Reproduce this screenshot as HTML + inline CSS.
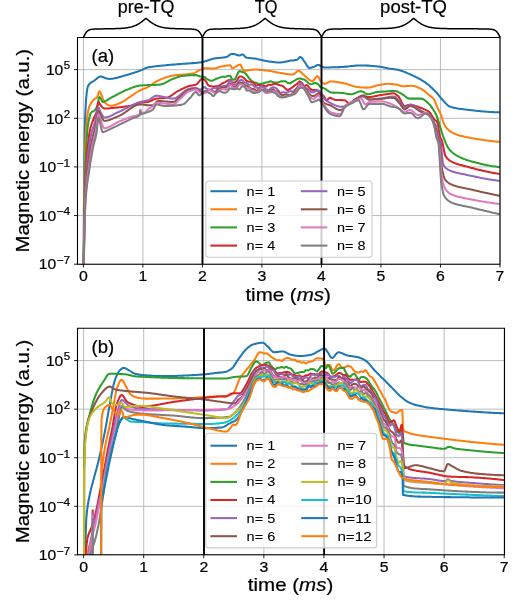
<!DOCTYPE html>
<html><head><meta charset="utf-8"><title>Magnetic energy</title>
<style>
html,body{margin:0;padding:0;background:#ffffff;}
body{width:515px;height:608px;overflow:hidden;font-family:"Liberation Sans",sans-serif;}
svg{display:block;}
</style></head><body>
<svg width="515" height="608" viewBox="0 0 515 608">
<rect x="0" y="0" width="515" height="608" fill="#ffffff"/>
<g style="will-change:transform" stroke-linejoin="round">
<clipPath id="clip1"><rect x="77.50" y="37.20" width="422.50" height="227.00"/></clipPath>
<line x1="83.40" y1="37.20" x2="83.40" y2="264.20" stroke="#b0b0b0" stroke-width="0.85"/>
<line x1="142.91" y1="37.20" x2="142.91" y2="264.20" stroke="#b0b0b0" stroke-width="0.85"/>
<line x1="202.42" y1="37.20" x2="202.42" y2="264.20" stroke="#b0b0b0" stroke-width="0.85"/>
<line x1="261.93" y1="37.20" x2="261.93" y2="264.20" stroke="#b0b0b0" stroke-width="0.85"/>
<line x1="321.44" y1="37.20" x2="321.44" y2="264.20" stroke="#b0b0b0" stroke-width="0.85"/>
<line x1="380.95" y1="37.20" x2="380.95" y2="264.20" stroke="#b0b0b0" stroke-width="0.85"/>
<line x1="440.46" y1="37.20" x2="440.46" y2="264.20" stroke="#b0b0b0" stroke-width="0.85"/>
<line x1="499.97" y1="37.20" x2="499.97" y2="264.20" stroke="#b0b0b0" stroke-width="0.85"/>
<line x1="77.50" y1="69.63" x2="500.00" y2="69.63" stroke="#b0b0b0" stroke-width="0.85"/>
<line x1="77.50" y1="118.27" x2="500.00" y2="118.27" stroke="#b0b0b0" stroke-width="0.85"/>
<line x1="77.50" y1="166.91" x2="500.00" y2="166.91" stroke="#b0b0b0" stroke-width="0.85"/>
<line x1="77.50" y1="215.56" x2="500.00" y2="215.56" stroke="#b0b0b0" stroke-width="0.85"/>
<line x1="77.50" y1="264.20" x2="500.00" y2="264.20" stroke="#b0b0b0" stroke-width="0.85"/>
<g clip-path="url(#clip1)" fill="none" stroke-width="2.05" stroke-linejoin="round" stroke-linecap="butt">
<path d="M83.6,270.0 L84.0,200.0 L84.4,156.9 L84.8,130.0 L85.2,116.1 L86.0,100.0 L86.0,100.0 L86.8,92.0 L87.6,87.1 L87.9,86.3 L88.4,85.4 L89.2,84.3 L90.0,83.4 L90.8,82.7 L91.6,82.2 L92.4,81.7 L93.2,81.3 L94.0,80.8 L94.4,80.5 L94.8,80.2 L95.6,79.6 L96.4,78.9 L97.2,78.2 L98.0,77.6 L98.8,77.1 L99.6,76.7 L100.4,76.5 L101.0,76.4 L101.2,76.4 L102.0,76.6 L102.8,77.0 L103.6,77.4 L104.0,77.6 L104.4,77.7 L105.2,78.0 L106.0,78.3 L106.8,78.5 L107.6,78.7 L108.4,78.8 L109.2,78.9 L109.2,78.9 L110.0,78.9 L110.8,78.8 L111.6,78.8 L112.4,78.7 L113.2,78.6 L114.0,78.4 L114.8,78.3 L115.6,78.1 L116.4,77.9 L117.2,77.7 L118.0,77.5 L118.8,77.3 L119.6,77.1 L120.4,76.8 L121.2,76.6 L122.0,76.4 L122.8,76.1 L123.6,75.9 L124.4,75.6 L125.2,75.4 L126.0,75.2 L126.8,74.9 L127.3,74.8 L127.6,74.7 L128.4,74.5 L129.2,74.3 L130.0,74.0 L130.8,73.8 L131.6,73.6 L132.4,73.3 L133.2,73.0 L134.0,72.8 L134.8,72.5 L135.6,72.3 L136.4,72.0 L137.2,71.7 L138.0,71.4 L138.8,71.1 L139.6,70.8 L140.0,70.7 L140.4,70.5 L141.2,70.2 L142.0,69.9 L142.8,69.5 L143.6,69.1 L144.4,68.7 L145.2,68.3 L146.0,68.0 L146.8,67.7 L147.6,67.5 L148.0,67.4 L148.4,67.3 L149.2,67.2 L150.0,67.0 L150.8,66.9 L151.6,66.8 L152.4,66.7 L153.2,66.6 L154.0,66.5 L154.8,66.4 L155.6,66.3 L156.4,66.2 L156.4,66.2 L157.2,66.1 L158.0,66.0 L158.8,65.9 L159.6,65.8 L160.4,65.8 L161.2,65.7 L162.0,65.6 L162.8,65.5 L163.6,65.4 L164.4,65.4 L165.2,65.3 L166.0,65.2 L166.8,65.1 L167.6,65.1 L168.4,65.0 L169.2,64.9 L170.0,64.8 L170.8,64.8 L171.6,64.7 L172.4,64.6 L172.9,64.6 L173.2,64.6 L174.0,64.5 L174.8,64.4 L175.6,64.4 L176.4,64.3 L177.2,64.3 L178.0,64.2 L178.8,64.1 L179.6,64.1 L180.4,64.0 L181.2,64.0 L182.0,63.9 L182.8,63.8 L183.6,63.8 L184.4,63.7 L185.2,63.7 L186.0,63.6 L186.8,63.6 L187.6,63.5 L188.4,63.4 L189.2,63.4 L190.0,63.3 L190.8,63.3 L191.6,63.2 L192.4,63.1 L193.2,63.1 L194.0,63.0 L194.2,63.0 L194.8,63.0 L195.6,62.9 L196.4,62.8 L197.2,62.8 L198.0,62.7 L198.8,62.6 L199.6,62.5 L200.0,62.5 L200.4,62.4 L201.2,62.3 L202.0,62.1 L202.8,62.0 L203.6,61.7 L204.4,61.5 L205.2,61.3 L206.0,61.0 L206.8,60.7 L207.6,60.5 L208.4,60.2 L209.2,59.9 L210.0,59.7 L210.0,59.7 L210.8,59.4 L211.6,59.1 L212.4,58.9 L213.1,58.7 L213.2,58.7 L214.0,58.5 L214.8,58.4 L215.6,58.3 L216.4,58.2 L217.2,58.1 L218.0,58.0 L218.8,58.0 L219.6,57.9 L220.4,57.8 L221.2,57.8 L222.0,57.7 L222.8,57.6 L223.6,57.5 L224.4,57.4 L225.2,57.2 L226.0,57.1 L226.3,57.0 L226.8,56.8 L227.6,56.4 L228.4,55.9 L229.2,55.3 L230.0,54.7 L230.8,54.2 L231.6,53.9 L232.0,53.9 L232.4,53.9 L233.2,54.0 L234.0,54.1 L234.8,54.3 L235.6,54.5 L236.0,54.6 L236.4,54.7 L237.2,54.9 L238.0,55.2 L238.8,55.4 L239.4,55.4 L239.6,55.4 L240.4,55.2 L241.2,54.8 L242.0,54.5 L242.7,54.4 L242.8,54.4 L243.6,54.9 L244.4,55.9 L245.2,56.9 L246.0,57.5 L246.0,57.5 L246.8,57.7 L247.6,57.8 L248.4,57.9 L249.2,58.0 L250.0,58.1 L250.8,58.2 L251.6,58.2 L252.4,58.3 L253.2,58.4 L254.0,58.4 L254.8,58.5 L255.6,58.7 L255.9,58.7 L256.4,58.8 L257.2,59.0 L258.0,59.2 L258.8,59.4 L259.6,59.6 L260.0,59.7 L260.4,59.8 L261.2,60.0 L262.0,60.1 L262.8,60.3 L263.6,60.5 L264.4,60.7 L265.2,60.8 L266.0,61.0 L266.8,61.1 L267.6,61.3 L268.4,61.4 L269.2,61.5 L269.9,61.6 L270.0,61.6 L270.8,61.7 L271.6,61.8 L272.4,61.9 L273.2,62.0 L274.0,62.1 L274.8,62.2 L275.6,62.3 L276.4,62.4 L277.2,62.4 L278.0,62.5 L278.8,62.5 L279.6,62.5 L279.7,62.5 L280.4,62.5 L281.2,62.4 L282.0,62.3 L282.8,62.2 L283.6,62.1 L284.4,61.9 L285.2,61.7 L286.0,61.5 L286.8,61.4 L287.6,61.2 L288.4,61.0 L289.2,60.9 L289.6,60.8 L290.0,60.7 L290.8,60.6 L291.6,60.5 L292.4,60.5 L293.2,60.4 L294.0,60.3 L294.8,60.2 L295.6,60.0 L296.4,59.9 L297.0,59.7 L297.2,59.6 L298.0,59.0 L298.8,58.1 L299.6,57.3 L300.3,57.0 L300.4,57.0 L301.2,57.4 L302.0,58.2 L302.8,59.3 L303.6,60.5 L304.4,61.7 L305.0,62.5 L305.2,62.8 L306.0,64.0 L306.8,65.3 L307.6,66.5 L308.4,67.5 L309.2,67.9 L309.3,67.9 L310.0,67.9 L310.8,67.7 L311.6,67.5 L312.4,67.2 L313.2,66.9 L314.0,66.7 L314.2,66.6 L314.8,66.4 L315.6,65.9 L316.4,65.5 L317.2,65.1 L318.0,64.9 L318.3,64.9 L318.8,65.0 L319.6,65.3 L320.4,65.8 L321.2,66.3 L322.0,66.8 L322.4,66.9 L322.8,67.0 L323.6,67.2 L324.4,67.4 L324.9,67.4 L325.2,67.4 L326.0,67.4 L326.8,67.4 L327.6,67.4 L328.4,67.4 L329.2,67.4 L330.0,67.4 L330.8,67.3 L331.6,67.3 L332.4,67.3 L333.2,67.3 L334.0,67.3 L334.8,67.2 L335.6,67.2 L336.4,67.2 L337.2,67.2 L338.0,67.2 L338.8,67.1 L339.6,67.1 L339.7,67.1 L340.4,67.1 L341.2,67.0 L342.0,67.0 L342.8,66.9 L343.6,66.9 L344.4,66.8 L345.2,66.7 L346.0,66.6 L346.8,66.6 L347.6,66.5 L348.4,66.4 L349.2,66.3 L350.0,66.2 L350.8,66.1 L351.6,66.0 L352.4,65.9 L353.2,65.9 L354.0,65.8 L354.8,65.7 L355.6,65.6 L356.4,65.6 L357.2,65.5 L358.0,65.5 L358.8,65.4 L359.6,65.4 L360.4,65.4 L361.1,65.4 L361.2,65.4 L362.0,65.4 L362.8,65.4 L363.6,65.4 L364.4,65.5 L365.2,65.5 L366.0,65.5 L366.8,65.6 L367.6,65.6 L368.4,65.6 L369.2,65.7 L370.0,65.8 L370.8,65.8 L371.6,65.9 L372.4,65.9 L373.2,66.0 L374.0,66.1 L374.8,66.2 L375.6,66.2 L376.4,66.3 L377.2,66.4 L378.0,66.5 L378.8,66.6 L379.2,66.6 L379.6,66.6 L380.4,66.8 L381.2,66.9 L382.0,67.0 L382.8,67.2 L383.6,67.4 L384.4,67.5 L385.2,67.7 L386.0,67.9 L386.8,68.1 L387.6,68.3 L388.4,68.4 L389.2,68.6 L390.0,68.7 L390.0,68.7 L390.8,68.8 L391.6,68.9 L392.4,69.0 L393.2,69.1 L394.0,69.2 L394.8,69.3 L395.6,69.4 L396.4,69.5 L396.4,69.5 L397.2,69.7 L398.0,69.8 L398.8,70.0 L399.6,70.2 L400.4,70.5 L401.2,70.7 L402.0,71.0 L402.8,71.3 L403.6,71.6 L404.4,71.9 L405.2,72.2 L406.0,72.5 L406.8,72.9 L407.6,73.2 L408.4,73.6 L409.2,73.9 L410.0,74.3 L410.8,74.6 L411.6,75.0 L412.4,75.4 L412.9,75.6 L413.2,75.7 L414.0,76.1 L414.8,76.5 L415.6,76.9 L416.4,77.3 L417.2,77.7 L418.0,78.1 L418.8,78.5 L419.6,79.0 L420.4,79.4 L421.2,79.9 L422.0,80.4 L422.8,80.9 L423.6,81.4 L424.4,81.9 L425.2,82.4 L426.0,83.0 L426.0,83.0 L426.8,83.6 L427.6,84.2 L428.4,84.8 L429.2,85.5 L430.0,86.2 L430.8,87.0 L431.6,87.7 L432.4,88.5 L433.2,89.3 L434.0,90.1 L434.8,90.9 L435.6,91.7 L435.9,92.0 L436.4,92.5 L437.2,93.4 L438.0,94.4 L438.8,95.4 L439.6,96.4 L440.4,97.4 L441.2,98.4 L442.0,99.3 L442.8,100.2 L443.0,100.4 L443.6,101.0 L444.4,101.9 L445.2,102.8 L446.0,103.6 L446.8,104.4 L447.6,105.2 L448.4,105.8 L449.2,106.3 L449.9,106.6 L450.0,106.6 L450.8,106.9 L451.6,107.1 L452.4,107.4 L453.2,107.6 L454.0,107.8 L454.8,107.9 L455.6,108.1 L456.4,108.3 L457.2,108.4 L458.0,108.6 L458.8,108.7 L459.6,108.8 L460.4,108.9 L461.2,109.0 L462.0,109.1 L462.8,109.2 L463.6,109.3 L464.4,109.4 L465.2,109.5 L466.0,109.6 L466.0,109.6 L466.8,109.7 L467.6,109.8 L468.4,109.9 L469.2,110.0 L470.0,110.1 L470.8,110.2 L471.6,110.2 L472.4,110.3 L473.2,110.4 L474.0,110.5 L474.8,110.6 L475.6,110.7 L476.4,110.8 L477.2,110.9 L478.0,110.9 L478.8,111.0 L479.6,111.1 L480.4,111.2 L481.2,111.3 L482.0,111.3 L482.8,111.4 L483.6,111.5 L484.4,111.5 L485.2,111.6 L486.0,111.7 L486.8,111.7 L487.6,111.8 L488.4,111.8 L489.2,111.9 L490.0,111.9 L490.8,112.0 L491.6,112.0 L492.4,112.1 L493.2,112.1 L494.0,112.2 L494.8,112.2 L495.6,112.2 L496.4,112.2 L497.2,112.3 L498.0,112.3 L498.8,112.3 L499.6,112.3 L500.0,112.3" stroke="#1f77b4"/>
<path d="M83.6,270.0 L84.2,200.0 L84.4,186.7 L85.2,148.0 L85.5,140.0 L86.0,130.9 L86.8,120.7 L87.5,115.0 L87.6,114.3 L88.4,109.9 L89.2,106.8 L89.5,106.0 L90.0,104.9 L90.8,103.4 L91.6,102.1 L92.4,101.1 L93.2,100.2 L94.0,99.4 L94.4,99.1 L94.8,98.8 L95.6,98.4 L96.4,98.0 L97.0,97.5 L97.2,97.2 L98.0,94.8 L98.8,92.1 L99.4,91.2 L99.6,91.3 L100.4,92.4 L101.2,94.3 L101.5,95.0 L102.0,96.2 L102.8,98.5 L103.6,100.7 L104.3,101.9 L104.4,102.0 L105.2,102.8 L106.0,103.5 L106.8,104.1 L107.6,104.6 L108.4,105.1 L109.2,105.4 L110.0,105.6 L110.8,105.7 L110.9,105.7 L111.6,105.7 L112.4,105.6 L113.2,105.5 L114.0,105.3 L114.8,105.0 L115.6,104.8 L116.4,104.5 L117.2,104.2 L118.0,103.8 L118.8,103.5 L119.6,103.2 L120.4,102.8 L120.7,102.7 L121.2,102.5 L122.0,102.1 L122.8,101.7 L123.6,101.2 L124.4,100.7 L125.2,100.2 L126.0,99.6 L126.8,99.1 L127.6,98.5 L128.4,97.9 L129.2,97.4 L130.0,96.8 L130.8,96.2 L131.6,95.7 L132.2,95.3 L132.4,95.2 L133.2,94.7 L134.0,94.1 L134.8,93.6 L135.6,93.0 L136.4,92.5 L137.2,92.0 L138.0,91.5 L138.8,91.0 L139.6,90.6 L140.0,90.4 L140.4,90.2 L141.2,89.8 L142.0,89.5 L142.8,89.2 L143.6,88.9 L144.4,88.6 L145.2,88.3 L146.0,88.0 L146.8,87.7 L147.6,87.3 L148.0,87.1 L148.4,86.9 L149.2,86.4 L150.0,85.9 L150.8,85.3 L151.6,84.7 L152.4,84.1 L153.2,83.5 L154.0,82.9 L154.8,82.3 L155.6,81.8 L156.4,81.4 L156.4,81.4 L157.2,81.0 L158.0,80.6 L158.8,80.3 L159.6,79.9 L160.4,79.6 L161.2,79.2 L162.0,78.9 L162.8,78.6 L163.6,78.2 L164.4,77.9 L165.2,77.7 L166.0,77.4 L166.8,77.1 L167.6,76.9 L168.4,76.6 L169.2,76.4 L170.0,76.2 L170.8,76.0 L171.6,75.8 L172.4,75.7 L172.9,75.6 L173.2,75.6 L174.0,75.4 L174.8,75.3 L175.6,75.2 L176.4,75.1 L177.2,75.0 L178.0,75.0 L178.8,74.9 L179.6,74.8 L180.4,74.8 L181.2,74.7 L182.0,74.7 L182.8,74.6 L183.6,74.6 L184.4,74.5 L185.2,74.4 L186.0,74.4 L186.8,74.3 L187.6,74.2 L188.4,74.1 L189.2,74.0 L190.0,73.9 L190.8,73.8 L191.6,73.7 L192.4,73.5 L192.6,73.5 L193.2,73.4 L194.0,73.1 L194.8,72.7 L195.6,72.3 L196.4,71.8 L197.2,71.4 L198.0,70.9 L198.8,70.5 L199.6,70.1 L200.0,69.9 L200.4,69.7 L201.2,69.4 L202.0,69.0 L202.8,68.7 L203.6,68.4 L204.4,68.2 L204.9,68.2 L205.2,68.2 L206.0,68.2 L206.8,68.2 L207.6,68.3 L208.4,68.3 L209.2,68.4 L210.0,68.4 L210.8,68.4 L211.6,68.5 L212.4,68.5 L213.1,68.5 L213.2,68.5 L214.0,68.5 L214.8,68.4 L215.6,68.2 L216.4,68.0 L217.2,67.8 L218.0,67.6 L218.8,67.3 L219.6,67.1 L220.4,66.8 L221.2,66.6 L222.0,66.4 L222.8,66.2 L223.0,66.2 L223.6,66.1 L224.4,66.0 L225.2,65.8 L226.0,65.7 L226.8,65.6 L227.6,65.5 L228.4,65.4 L229.2,65.3 L230.0,65.3 L230.4,65.3 L230.8,65.8 L231.6,67.7 L232.0,68.2 L232.4,68.2 L233.2,68.0 L234.0,67.7 L234.8,67.2 L235.6,66.8 L236.4,66.2 L237.2,65.7 L238.0,65.3 L238.8,64.9 L239.6,64.7 L240.3,64.6 L240.4,64.6 L241.2,65.8 L242.0,67.9 L242.8,70.0 L243.5,70.7 L243.6,70.7 L244.4,70.7 L245.2,70.6 L246.0,70.6 L246.8,70.5 L247.6,70.4 L248.4,70.3 L249.2,70.2 L250.0,70.1 L250.8,69.9 L251.6,69.8 L252.4,69.7 L253.2,69.6 L254.0,69.6 L254.8,69.5 L255.6,69.5 L255.9,69.5 L256.4,69.5 L257.2,69.6 L258.0,69.7 L258.8,69.8 L259.6,69.9 L260.0,69.9 L260.4,69.9 L261.2,70.0 L262.0,70.1 L262.8,70.2 L263.6,70.2 L264.4,70.3 L265.2,70.4 L266.0,70.5 L266.8,70.5 L267.6,70.6 L268.2,70.7 L268.4,70.7 L269.2,70.8 L270.0,71.0 L270.8,71.1 L271.6,71.2 L272.4,71.4 L273.2,71.6 L274.0,71.7 L274.8,71.9 L275.6,72.0 L276.4,72.2 L277.2,72.4 L278.0,72.5 L278.8,72.7 L279.6,72.8 L279.7,72.8 L280.4,72.9 L281.2,73.0 L282.0,73.2 L282.8,73.3 L283.6,73.5 L284.4,73.6 L285.2,73.7 L286.0,73.9 L286.8,74.0 L287.6,74.1 L288.4,74.2 L289.2,74.3 L290.0,74.4 L290.8,74.4 L291.6,74.5 L292.4,74.5 L292.9,74.5 L293.2,74.5 L294.0,74.1 L294.8,73.5 L295.6,72.7 L296.4,72.0 L297.2,71.3 L298.0,70.8 L298.6,70.7 L298.8,70.7 L299.6,71.1 L300.4,71.7 L301.2,72.5 L302.0,73.4 L302.7,74.0 L302.8,74.1 L303.6,74.7 L304.4,75.4 L305.2,76.2 L306.0,76.9 L306.8,77.7 L307.6,78.4 L308.4,79.1 L309.2,79.7 L310.0,80.2 L310.8,80.6 L311.6,80.9 L312.4,81.0 L312.6,81.0 L313.2,80.8 L314.0,80.0 L314.8,78.9 L315.6,77.7 L316.4,76.7 L317.2,76.2 L317.5,76.1 L318.0,76.4 L318.8,77.6 L319.6,79.4 L320.4,80.9 L320.8,81.4 L321.2,81.7 L322.0,82.4 L322.8,83.0 L323.6,83.5 L324.4,83.7 L324.9,83.8 L325.2,83.8 L326.0,83.6 L326.8,83.2 L327.6,82.7 L328.4,82.2 L329.2,81.8 L330.0,81.5 L330.7,81.4 L330.8,81.4 L331.6,81.4 L332.4,81.5 L333.2,81.5 L334.0,81.6 L334.8,81.7 L335.6,81.8 L336.4,81.9 L337.2,82.0 L338.0,82.2 L338.8,82.3 L339.6,82.5 L340.4,82.6 L341.2,82.8 L342.0,83.0 L342.8,83.1 L343.6,83.3 L344.4,83.5 L344.6,83.5 L345.2,83.6 L346.0,83.8 L346.8,84.0 L347.6,84.3 L348.4,84.5 L349.2,84.8 L350.0,85.1 L350.8,85.3 L351.6,85.6 L352.4,85.9 L353.2,86.1 L354.0,86.4 L354.8,86.6 L355.6,86.8 L356.4,86.9 L357.2,87.0 L357.8,87.1 L358.0,87.1 L358.8,87.2 L359.6,87.2 L360.4,87.3 L361.2,87.4 L362.0,87.4 L362.8,87.5 L363.6,87.5 L364.4,87.5 L365.2,87.6 L366.0,87.6 L366.8,87.6 L367.6,87.6 L367.6,87.6 L368.4,87.6 L369.2,87.5 L370.0,87.4 L370.8,87.2 L371.6,87.0 L372.4,86.8 L373.2,86.6 L374.0,86.4 L374.8,86.1 L375.6,85.9 L376.4,85.6 L377.2,85.4 L378.0,85.2 L378.8,85.1 L379.2,85.0 L379.6,84.9 L380.4,84.8 L381.2,84.6 L382.0,84.5 L382.8,84.4 L383.6,84.2 L384.4,84.1 L385.2,84.0 L386.0,83.9 L386.8,83.8 L387.6,83.8 L388.2,83.8 L388.4,83.8 L389.2,83.8 L390.0,83.9 L390.8,83.9 L391.6,84.0 L392.4,84.1 L393.2,84.2 L394.0,84.3 L394.8,84.4 L395.6,84.5 L396.4,84.6 L396.4,84.6 L397.2,84.8 L398.0,85.0 L398.8,85.3 L399.6,85.5 L400.4,85.8 L401.2,86.0 L402.0,86.2 L402.8,86.3 L403.0,86.3 L403.6,86.3 L404.4,86.3 L405.2,86.2 L406.0,86.1 L406.8,86.1 L407.6,86.0 L408.4,85.9 L409.2,85.9 L410.0,85.8 L410.8,85.8 L411.2,85.8 L411.6,85.8 L412.4,85.9 L413.2,86.0 L414.0,86.1 L414.8,86.3 L415.6,86.6 L416.4,86.8 L417.2,87.1 L418.0,87.5 L418.8,87.8 L419.6,88.1 L420.4,88.5 L421.1,88.8 L421.2,88.8 L422.0,89.3 L422.8,89.8 L423.6,90.3 L424.4,91.0 L425.2,91.7 L426.0,92.4 L426.8,93.1 L427.6,93.8 L428.4,94.5 L429.2,95.2 L429.3,95.3 L430.0,95.9 L430.8,96.4 L431.6,97.0 L432.4,97.7 L433.2,98.5 L433.8,99.2 L434.0,99.5 L434.8,101.0 L435.6,102.9 L436.4,105.0 L437.2,107.0 L437.5,107.7 L438.0,108.7 L438.8,110.3 L439.6,111.8 L440.4,113.5 L440.7,114.2 L441.2,115.5 L442.0,118.0 L442.8,120.6 L443.6,123.0 L444.1,124.1 L444.4,124.7 L445.2,126.0 L446.0,127.2 L446.8,128.3 L447.6,129.1 L447.6,129.1 L448.4,129.8 L449.2,130.5 L450.0,131.1 L450.8,131.7 L451.6,132.2 L452.4,132.7 L453.2,133.1 L454.0,133.5 L454.5,133.7 L454.8,133.8 L455.6,134.1 L456.4,134.4 L457.2,134.7 L458.0,135.0 L458.8,135.2 L459.6,135.4 L460.4,135.7 L461.2,135.9 L462.0,136.1 L462.8,136.3 L463.6,136.5 L464.4,136.7 L465.2,136.8 L466.0,137.0 L466.8,137.2 L467.6,137.3 L468.4,137.5 L469.2,137.6 L470.0,137.8 L470.6,137.9 L470.8,137.9 L471.6,138.1 L472.4,138.2 L473.2,138.4 L474.0,138.5 L474.8,138.7 L475.6,138.8 L476.4,138.9 L477.2,139.1 L478.0,139.2 L478.8,139.3 L479.6,139.5 L480.4,139.6 L481.2,139.7 L482.0,139.8 L482.8,140.0 L483.6,140.1 L484.4,140.2 L485.2,140.3 L486.0,140.4 L486.8,140.5 L487.6,140.6 L488.4,140.7 L489.2,140.8 L490.0,140.9 L490.8,141.0 L491.6,141.1 L492.4,141.2 L493.2,141.3 L494.0,141.4 L494.8,141.4 L495.6,141.5 L496.4,141.6 L497.2,141.6 L498.0,141.7 L498.8,141.7 L499.6,141.8 L500.0,141.8" stroke="#ff7f0e"/>
<path d="M83.6,270.0 L84.4,205.3 L84.5,200.0 L85.2,171.1 L86.0,150.0 L86.0,150.0 L86.8,137.1 L87.6,128.0 L88.0,125.0 L88.4,122.6 L89.2,118.4 L90.0,115.1 L90.8,113.0 L91.1,112.6 L91.6,112.1 L92.4,111.5 L93.2,111.2 L94.0,110.8 L94.8,110.2 L95.0,110.0 L95.6,109.2 L96.4,107.7 L97.2,105.8 L97.5,105.0 L98.0,102.9 L98.8,98.5 L99.4,97.0 L99.6,97.1 L100.4,98.0 L101.0,99.0 L101.2,99.4 L102.0,101.2 L102.6,101.9 L102.8,101.9 L103.6,101.8 L104.4,101.6 L105.2,101.2 L106.0,100.8 L106.8,100.3 L107.6,99.8 L108.4,99.3 L109.2,98.8 L110.0,98.3 L110.8,97.9 L110.9,97.8 L111.6,97.4 L112.4,97.0 L113.2,96.6 L114.0,96.2 L114.8,95.8 L115.6,95.3 L116.4,94.9 L117.2,94.5 L118.0,94.1 L118.8,93.6 L119.6,93.2 L120.4,92.8 L121.2,92.4 L122.0,92.0 L122.8,91.6 L123.6,91.2 L124.4,90.8 L125.2,90.5 L126.0,90.1 L126.8,89.8 L127.3,89.6 L127.6,89.5 L128.4,89.2 L129.2,88.9 L130.0,88.5 L130.8,88.2 L131.6,87.9 L132.4,87.6 L133.2,87.3 L134.0,87.0 L134.8,86.7 L135.6,86.5 L136.4,86.3 L137.2,86.0 L138.0,85.9 L138.8,85.7 L139.6,85.6 L140.4,85.5 L140.4,85.5 L141.2,85.4 L142.0,85.4 L142.8,85.3 L143.6,85.3 L144.4,85.3 L145.2,85.2 L146.0,85.2 L146.8,85.2 L147.6,85.1 L148.0,85.1 L148.4,85.1 L149.2,85.0 L150.0,85.0 L150.8,85.0 L151.6,85.0 L152.4,84.9 L153.2,84.9 L154.0,84.9 L154.8,84.9 L155.6,84.8 L156.4,84.8 L157.2,84.8 L158.0,84.7 L158.8,84.7 L159.6,84.6 L159.7,84.6 L160.4,84.5 L161.2,84.4 L162.0,84.1 L162.8,83.9 L163.6,83.5 L164.4,83.2 L165.2,82.8 L166.0,82.4 L166.8,81.9 L167.6,81.5 L168.4,81.1 L169.2,80.6 L170.0,80.2 L170.8,79.8 L171.6,79.4 L172.4,79.1 L172.9,78.9 L173.2,78.8 L174.0,78.5 L174.8,78.2 L175.6,77.9 L176.4,77.6 L177.2,77.3 L178.0,77.0 L178.8,76.8 L179.6,76.5 L180.4,76.3 L181.2,76.1 L182.0,76.0 L182.7,75.9 L182.8,75.9 L183.6,75.8 L184.4,75.7 L185.2,75.7 L186.0,75.6 L186.8,75.5 L187.6,75.4 L188.4,75.4 L189.2,75.3 L190.0,75.3 L190.8,75.2 L191.6,75.2 L192.4,75.2 L193.2,75.1 L194.0,75.1 L194.8,75.1 L195.6,75.1 L195.9,75.1 L196.4,75.1 L197.2,75.3 L198.0,75.7 L198.8,76.0 L199.6,76.3 L200.0,76.4 L200.4,76.5 L201.2,76.6 L202.0,76.7 L202.8,76.8 L203.6,76.9 L204.4,77.1 L204.9,77.3 L205.2,77.5 L206.0,78.4 L206.0,78.4 L206.8,78.9 L207.6,79.3 L208.4,79.7 L208.4,79.7 L209.2,80.2 L210.0,80.6 L210.8,80.8 L210.8,80.8 L211.6,80.7 L212.4,80.6 L213.2,80.4 L213.2,80.4 L214.0,80.0 L214.8,79.5 L215.6,79.1 L215.6,79.1 L216.4,78.8 L217.2,78.5 L218.0,78.2 L218.0,78.2 L218.8,77.9 L219.6,77.6 L220.4,77.4 L220.4,77.4 L221.2,77.1 L222.0,76.8 L222.8,76.7 L222.8,76.7 L223.6,76.7 L224.4,76.8 L225.2,76.9 L225.2,76.9 L226.0,76.6 L226.8,76.2 L227.6,75.9 L227.6,75.9 L228.4,75.8 L229.2,75.7 L230.0,75.7 L230.0,75.7 L230.8,76.7 L231.6,78.6 L232.4,79.7 L232.4,79.7 L233.2,79.6 L234.0,79.6 L234.8,79.5 L234.8,79.5 L235.6,78.4 L236.4,76.3 L237.2,74.4 L237.2,74.4 L238.0,72.9 L238.8,71.6 L239.6,71.1 L239.6,71.1 L240.4,71.3 L241.2,71.7 L242.0,72.0 L242.0,72.0 L242.8,72.2 L243.6,72.3 L244.4,72.6 L244.4,72.6 L245.2,73.1 L246.0,74.0 L246.8,75.0 L246.8,75.0 L247.6,76.1 L248.4,77.4 L249.2,78.5 L249.2,78.5 L250.0,79.3 L250.8,80.0 L251.6,80.7 L251.6,80.7 L252.4,81.3 L253.2,82.0 L254.0,82.4 L254.0,82.4 L254.8,82.6 L255.6,82.6 L256.4,82.8 L256.4,82.8 L257.2,83.2 L258.0,83.8 L258.8,84.0 L258.8,84.0 L259.6,84.0 L260.4,83.9 L261.2,83.8 L261.2,83.8 L262.0,83.7 L262.8,83.5 L263.6,83.3 L263.6,83.3 L264.4,83.1 L265.2,82.7 L266.0,82.4 L266.0,82.4 L266.8,82.3 L267.6,82.2 L268.4,82.1 L268.4,82.1 L269.2,81.8 L270.0,81.5 L270.8,81.3 L270.8,81.3 L271.6,81.5 L272.4,82.0 L273.2,82.3 L273.2,82.3 L274.0,82.5 L274.8,82.6 L275.6,82.6 L275.6,82.6 L276.4,82.6 L277.2,82.6 L278.0,82.5 L278.0,82.5 L278.8,82.3 L279.6,81.9 L280.4,81.5 L280.4,81.5 L281.2,81.4 L282.0,81.2 L282.8,81.2 L282.8,81.2 L283.6,81.2 L284.4,81.2 L285.2,81.2 L285.2,81.2 L286.0,81.6 L286.8,82.3 L287.6,82.8 L287.6,82.8 L288.4,83.0 L289.2,83.2 L290.0,83.3 L290.0,83.3 L290.8,83.0 L291.6,82.4 L292.4,81.9 L292.4,81.9 L293.2,81.4 L294.0,81.0 L294.8,80.5 L294.8,80.5 L295.6,80.0 L296.4,79.5 L297.2,79.1 L297.2,79.1 L298.0,78.8 L298.8,78.6 L299.6,78.5 L299.6,78.5 L300.4,78.6 L301.2,78.8 L302.0,79.0 L302.0,79.0 L302.8,79.2 L303.6,79.4 L304.4,79.6 L304.4,79.6 L305.2,80.1 L306.0,80.8 L306.8,81.4 L306.8,81.4 L307.6,82.2 L308.4,83.0 L309.2,83.6 L309.2,83.6 L310.0,83.9 L310.8,84.1 L311.6,84.2 L311.6,84.2 L312.4,83.9 L313.2,83.4 L314.0,83.1 L314.0,83.1 L314.8,83.1 L315.6,83.1 L316.4,83.2 L316.4,83.2 L317.2,83.5 L318.0,84.2 L318.8,85.0 L318.8,85.0 L319.6,86.0 L320.4,87.0 L321.2,87.6 L321.2,87.6 L322.0,87.8 L322.8,88.0 L323.6,88.1 L323.6,88.1 L324.4,88.4 L325.2,88.9 L326.0,89.4 L326.8,90.0 L327.6,90.5 L328.4,91.1 L329.2,91.6 L330.0,92.1 L330.8,92.4 L331.5,92.5 L331.6,92.5 L332.4,92.6 L333.2,92.6 L334.0,92.6 L334.8,92.7 L335.6,92.7 L336.4,92.7 L337.2,92.7 L338.0,92.8 L338.8,92.8 L339.6,92.8 L340.4,92.8 L341.2,92.9 L341.4,92.9 L342.0,92.9 L342.8,93.0 L343.6,93.1 L344.4,93.3 L345.2,93.4 L346.0,93.6 L346.8,93.7 L347.6,93.9 L348.4,94.0 L349.2,94.1 L350.0,94.2 L350.8,94.2 L351.2,94.2 L351.6,94.2 L352.4,94.1 L353.2,93.9 L354.0,93.6 L354.8,93.3 L355.6,92.9 L356.4,92.6 L357.2,92.2 L358.0,91.9 L358.8,91.6 L359.6,91.4 L360.4,91.2 L361.1,91.2 L361.2,91.2 L362.0,91.4 L362.8,91.7 L363.6,92.2 L364.4,92.7 L365.2,93.3 L366.0,93.7 L366.8,94.1 L367.6,94.2 L367.6,94.2 L368.4,94.2 L369.2,94.1 L370.0,93.9 L370.8,93.7 L371.6,93.5 L372.4,93.3 L373.2,93.0 L374.0,92.8 L374.8,92.5 L375.6,92.3 L376.4,92.2 L377.2,92.0 L377.5,92.0 L378.0,92.0 L378.8,91.9 L379.6,91.8 L380.4,91.7 L381.2,91.7 L382.0,91.6 L382.8,91.6 L383.6,91.5 L384.4,91.5 L385.2,91.5 L386.0,91.4 L386.8,91.4 L387.6,91.3 L388.4,91.3 L389.2,91.2 L390.0,91.2 L390.0,91.2 L390.8,91.1 L391.6,91.1 L392.4,91.0 L393.2,91.0 L394.0,90.9 L394.8,90.9 L394.8,90.9 L395.6,91.0 L396.4,91.2 L397.2,91.5 L398.0,91.8 L398.8,92.3 L399.6,92.7 L400.4,93.2 L401.2,93.6 L401.4,93.7 L402.0,94.0 L402.8,94.6 L403.6,95.1 L404.4,95.8 L405.2,96.4 L406.0,97.0 L406.8,97.6 L407.6,98.0 L408.4,98.4 L409.2,98.6 L409.6,98.6 L410.0,98.6 L410.8,98.6 L411.6,98.6 L412.4,98.6 L413.2,98.6 L414.0,98.6 L414.8,98.6 L415.6,98.6 L416.4,98.6 L417.2,98.6 L418.0,98.6 L418.8,98.6 L419.6,98.6 L420.4,98.6 L421.1,98.6 L421.2,98.6 L422.0,98.7 L422.8,99.0 L423.6,99.4 L424.4,100.0 L425.2,100.6 L426.0,101.3 L426.8,102.0 L427.6,102.7 L427.6,102.7 L428.4,103.4 L429.2,104.2 L430.0,105.1 L430.8,106.1 L431.6,107.2 L432.4,108.3 L433.2,109.5 L434.0,110.8 L434.8,112.2 L435.6,113.6 L435.9,114.2 L436.4,115.3 L437.2,117.3 L437.3,117.6 L438.0,119.6 L438.8,122.2 L439.6,125.0 L440.4,127.7 L440.8,129.0 L441.2,130.3 L442.0,133.0 L442.8,135.4 L443.0,136.0 L443.6,137.6 L444.4,139.7 L445.2,141.7 L446.0,143.6 L446.8,145.3 L447.6,146.9 L448.4,148.2 L448.8,148.7 L449.2,149.2 L450.0,150.1 L450.8,151.0 L451.6,151.8 L452.4,152.5 L453.2,153.2 L454.0,153.8 L454.8,154.4 L455.6,154.9 L456.4,155.4 L456.8,155.6 L457.2,155.8 L458.0,156.2 L458.8,156.7 L459.6,157.1 L460.4,157.4 L461.2,157.8 L462.0,158.1 L462.8,158.5 L463.6,158.8 L464.4,159.1 L465.2,159.4 L466.0,159.7 L466.8,160.0 L467.6,160.2 L468.4,160.5 L469.2,160.7 L470.0,161.0 L470.8,161.2 L471.6,161.4 L472.4,161.7 L472.9,161.8 L473.2,161.9 L474.0,162.1 L474.8,162.3 L475.6,162.5 L476.4,162.7 L477.2,162.9 L478.0,163.1 L478.8,163.3 L479.6,163.5 L480.4,163.7 L481.2,163.9 L482.0,164.1 L482.8,164.3 L483.6,164.5 L484.4,164.7 L485.2,164.8 L486.0,165.0 L486.8,165.2 L487.6,165.3 L488.4,165.5 L489.2,165.6 L490.0,165.8 L490.8,165.9 L491.6,166.1 L492.4,166.2 L493.2,166.3 L494.0,166.4 L494.8,166.5 L495.6,166.6 L496.4,166.7 L497.2,166.8 L498.0,166.9 L498.8,167.0 L499.6,167.1 L500.0,167.1" stroke="#2ca02c"/>
<path d="M83.6,270.0 L84.4,217.4 L84.8,200.0 L85.2,188.3 L86.0,170.2 L86.8,157.5 L87.0,155.0 L87.6,148.2 L88.4,140.5 L89.2,134.4 L90.0,130.0 L90.0,130.0 L90.8,126.8 L91.6,124.2 L92.4,122.0 L93.2,120.0 L94.0,118.0 L94.0,118.0 L94.8,116.1 L95.6,114.4 L96.4,112.3 L96.5,112.0 L97.2,108.2 L98.0,103.2 L98.5,101.9 L98.8,102.0 L99.6,103.4 L100.4,104.9 L100.5,105.0 L101.2,105.9 L102.0,106.9 L102.8,107.7 L103.6,108.3 L104.3,108.5 L104.4,108.5 L105.2,108.5 L106.0,108.5 L106.8,108.4 L107.6,108.4 L108.4,108.4 L109.2,108.3 L110.0,108.2 L110.8,108.2 L111.6,108.1 L112.4,108.0 L113.2,107.9 L114.0,107.8 L114.8,107.8 L115.6,107.7 L116.4,107.6 L117.2,107.5 L118.0,107.4 L118.8,107.3 L119.0,107.3 L119.6,107.2 L120.4,107.2 L121.2,107.1 L122.0,107.0 L122.8,106.9 L123.6,106.8 L124.4,106.7 L125.2,106.6 L126.0,106.5 L126.8,106.4 L127.6,106.3 L128.4,106.1 L129.2,106.0 L130.0,105.9 L130.8,105.7 L131.6,105.6 L132.0,105.5 L132.4,105.4 L133.2,105.2 L134.0,104.9 L134.8,104.6 L135.6,104.2 L136.4,103.9 L137.2,103.5 L138.0,103.2 L138.8,103.0 L139.6,102.8 L140.0,102.7 L140.4,102.6 L141.2,102.5 L142.0,102.5 L142.8,102.4 L143.6,102.3 L144.4,102.3 L145.2,102.2 L146.0,102.1 L146.8,102.1 L147.6,102.0 L148.0,101.9 L148.4,101.8 L149.2,101.6 L150.0,101.3 L150.8,100.9 L151.6,100.5 L152.4,100.1 L153.2,99.7 L154.0,99.3 L154.8,99.0 L155.6,98.8 L156.4,98.6 L156.4,98.6 L157.2,98.5 L158.0,98.4 L158.8,98.4 L159.6,98.3 L160.4,98.3 L161.2,98.2 L162.0,98.2 L162.8,98.1 L163.6,98.1 L164.4,98.0 L165.2,97.9 L166.0,97.8 L166.3,97.8 L166.8,97.7 L167.6,97.5 L168.4,97.2 L169.2,96.8 L170.0,96.4 L170.8,95.9 L171.6,95.3 L172.4,94.8 L173.2,94.2 L174.0,93.6 L174.8,93.1 L175.6,92.5 L176.4,92.0 L177.2,91.5 L177.8,91.2 L178.0,91.1 L178.8,90.7 L179.6,90.3 L180.4,89.9 L181.2,89.4 L182.0,89.0 L182.8,88.6 L183.6,88.3 L184.4,87.9 L185.2,87.5 L186.0,87.2 L186.8,86.8 L187.6,86.5 L188.4,86.3 L189.2,86.0 L189.3,86.0 L190.0,85.8 L190.8,85.7 L191.6,85.5 L192.4,85.4 L193.2,85.3 L194.0,85.1 L194.8,84.9 L195.6,84.7 L195.9,84.6 L196.4,84.4 L197.2,83.7 L198.0,82.9 L198.8,81.9 L199.6,80.9 L200.4,80.0 L201.2,79.3 L202.0,79.0 L202.4,78.9 L202.8,78.9 L203.6,79.2 L204.1,79.4 L204.4,79.6 L205.2,80.4 L206.0,81.4 L206.0,81.4 L206.8,82.7 L207.6,84.3 L208.4,85.3 L208.4,85.3 L209.2,85.8 L210.0,86.1 L210.8,86.3 L210.8,86.3 L211.6,86.3 L212.4,86.4 L213.2,86.4 L213.2,86.4 L214.0,86.4 L214.8,86.4 L215.6,86.3 L215.6,86.3 L216.4,86.3 L217.2,86.2 L218.0,86.1 L218.0,86.1 L218.8,85.9 L219.6,85.4 L220.4,84.9 L220.4,84.9 L221.2,84.3 L222.0,83.6 L222.8,83.1 L222.8,83.1 L223.6,82.7 L224.4,82.4 L225.2,82.1 L225.2,82.1 L226.0,81.6 L226.8,81.1 L227.6,80.6 L227.6,80.6 L228.4,80.3 L229.2,79.9 L230.0,79.8 L230.0,79.8 L230.8,80.5 L231.6,81.9 L232.4,82.6 L232.4,82.6 L233.2,82.6 L234.0,82.5 L234.8,82.4 L234.8,82.4 L235.6,81.9 L236.4,81.1 L237.2,80.1 L237.2,80.1 L238.0,78.7 L238.8,77.2 L239.6,76.5 L239.6,76.5 L240.4,76.5 L241.2,76.6 L242.0,76.8 L242.0,76.8 L242.8,77.2 L243.6,77.8 L244.4,78.5 L244.4,78.5 L245.2,79.4 L246.0,80.4 L246.8,81.0 L246.8,81.0 L247.6,81.3 L248.4,81.5 L249.2,81.7 L249.2,81.7 L250.0,81.7 L250.8,81.8 L251.6,81.8 L251.6,81.8 L252.4,82.2 L253.2,82.8 L254.0,83.5 L254.0,83.5 L254.8,84.2 L255.6,85.1 L256.4,85.4 L256.4,85.4 L257.2,85.3 L258.0,85.0 L258.8,84.9 L258.8,84.9 L259.6,85.1 L260.4,85.5 L261.2,85.7 L261.2,85.7 L262.0,85.6 L262.8,85.5 L263.6,85.5 L263.6,85.5 L264.4,85.8 L265.2,86.3 L266.0,86.6 L266.0,86.6 L266.8,86.1 L267.6,85.3 L268.4,84.8 L268.4,84.8 L269.2,84.8 L270.0,84.8 L270.8,84.9 L270.8,84.9 L271.6,84.7 L272.4,84.5 L273.2,84.2 L273.2,84.2 L274.0,84.0 L274.8,83.8 L275.6,83.7 L275.6,83.7 L276.4,83.9 L277.2,84.3 L278.0,84.7 L278.0,84.7 L278.8,84.9 L279.6,85.1 L280.4,85.4 L280.4,85.4 L281.2,85.6 L282.0,85.8 L282.8,86.2 L282.8,86.2 L283.6,86.7 L284.4,87.5 L285.2,88.2 L285.2,88.2 L286.0,89.0 L286.8,89.8 L287.6,90.2 L287.6,90.2 L288.4,89.9 L289.2,89.4 L290.0,88.8 L290.0,88.8 L290.8,88.3 L291.6,87.9 L292.4,87.4 L292.4,87.4 L293.2,86.7 L294.0,86.0 L294.8,85.3 L294.8,85.3 L295.6,84.8 L296.4,84.3 L297.2,83.8 L297.2,83.8 L298.0,82.9 L298.8,81.9 L299.6,81.4 L299.6,81.4 L300.4,81.7 L301.2,82.3 L302.0,83.0 L302.0,83.0 L302.8,84.2 L303.6,85.7 L304.4,86.4 L304.4,86.4 L305.2,86.0 L306.0,85.3 L306.8,85.0 L306.8,85.0 L307.6,85.5 L308.4,86.6 L309.2,87.6 L309.2,87.6 L310.0,88.4 L310.8,89.2 L311.6,89.7 L311.6,89.7 L312.4,90.0 L313.2,90.1 L314.0,90.2 L314.0,90.2 L314.8,90.1 L315.6,90.0 L316.4,89.9 L316.4,89.9 L317.2,90.2 L318.0,90.8 L318.8,91.6 L318.8,91.6 L319.6,92.5 L320.4,93.6 L321.2,94.5 L321.2,94.5 L322.0,95.0 L322.8,95.4 L323.6,95.9 L323.6,95.9 L324.4,97.1 L325.2,98.6 L326.0,99.9 L326.6,100.3 L326.8,100.3 L327.6,99.8 L328.4,98.9 L329.2,98.1 L329.9,97.8 L330.0,97.8 L330.8,98.0 L331.6,98.3 L332.4,98.8 L333.2,99.2 L334.0,99.6 L334.8,99.8 L334.8,99.8 L335.6,99.9 L336.4,99.9 L337.2,100.0 L338.0,100.0 L338.8,100.0 L339.6,100.0 L340.4,100.1 L341.2,100.1 L342.0,100.1 L342.8,100.2 L343.6,100.2 L344.4,100.3 L344.6,100.3 L345.2,100.5 L346.0,101.0 L346.8,101.7 L347.6,102.4 L348.4,103.1 L349.2,103.4 L349.6,103.5 L350.0,103.5 L350.8,103.2 L351.6,102.6 L352.4,101.9 L353.2,101.1 L354.0,100.3 L354.8,99.5 L355.6,98.9 L356.1,98.6 L356.4,98.4 L357.2,98.0 L358.0,97.6 L358.8,97.2 L359.6,96.8 L360.4,96.5 L361.2,96.3 L362.0,96.1 L362.7,96.1 L362.8,96.1 L363.6,96.1 L364.4,96.2 L365.2,96.4 L366.0,96.5 L366.8,96.7 L367.6,96.9 L368.4,97.0 L369.2,97.0 L369.3,97.0 L370.0,97.0 L370.8,96.9 L371.6,96.8 L372.4,96.7 L373.2,96.6 L374.0,96.4 L374.8,96.2 L375.6,96.0 L376.4,95.9 L377.2,95.7 L378.0,95.5 L378.8,95.4 L379.2,95.3 L379.6,95.2 L380.4,95.1 L381.2,95.0 L382.0,94.9 L382.8,94.8 L383.6,94.6 L384.4,94.5 L385.2,94.4 L386.0,94.3 L386.8,94.2 L387.6,94.1 L388.4,93.9 L389.2,93.8 L390.0,93.7 L390.0,93.7 L390.8,93.5 L391.6,93.4 L392.4,93.2 L393.1,93.2 L393.2,93.2 L394.0,93.3 L394.8,93.7 L395.6,94.1 L396.4,94.7 L397.2,95.4 L398.0,96.0 L398.1,96.1 L398.8,96.9 L399.6,98.2 L400.4,99.7 L401.2,101.4 L402.0,103.0 L402.8,104.4 L403.6,105.5 L404.4,106.0 L404.6,106.0 L405.2,105.9 L406.0,105.8 L406.8,105.5 L407.6,105.2 L408.4,104.9 L409.2,104.7 L409.6,104.7 L410.0,104.7 L410.8,104.8 L411.6,104.9 L412.4,105.0 L413.2,105.2 L414.0,105.4 L414.8,105.7 L415.6,105.9 L416.4,106.2 L417.2,106.5 L418.0,106.8 L418.8,107.1 L419.6,107.4 L420.4,107.7 L421.1,108.0 L421.2,108.0 L422.0,108.3 L422.8,108.6 L423.6,109.0 L424.4,109.3 L425.2,109.7 L426.0,110.1 L426.0,110.1 L426.8,110.5 L427.6,110.9 L428.4,111.3 L429.2,111.9 L429.2,111.9 L430.0,112.7 L430.8,113.8 L431.6,115.2 L432.4,116.5 L433.2,117.8 L434.0,119.0 L434.2,119.2 L434.8,119.8 L435.6,120.4 L436.4,121.0 L437.2,122.0 L437.3,122.2 L438.0,124.9 L438.8,130.2 L439.6,135.3 L440.0,136.9 L440.4,137.8 L441.2,139.2 L441.9,140.6 L442.0,140.9 L442.8,144.2 L443.6,148.5 L444.4,152.6 L445.2,155.4 L445.3,155.6 L446.0,156.7 L446.8,157.8 L447.6,158.8 L448.4,159.5 L449.2,160.2 L450.0,160.8 L450.8,161.2 L451.1,161.4 L451.6,161.7 L452.4,162.1 L453.2,162.4 L454.0,162.8 L454.8,163.1 L455.6,163.4 L456.4,163.7 L457.2,164.0 L458.0,164.2 L458.8,164.5 L459.6,164.7 L460.4,164.9 L461.2,165.1 L462.0,165.3 L462.8,165.6 L463.6,165.8 L464.4,166.0 L465.2,166.2 L466.0,166.4 L466.0,166.4 L466.8,166.6 L467.6,166.8 L468.4,167.1 L469.2,167.3 L470.0,167.5 L470.8,167.7 L471.6,167.9 L472.4,168.1 L473.2,168.3 L474.0,168.5 L474.8,168.7 L475.6,169.0 L476.4,169.2 L477.2,169.4 L478.0,169.6 L478.8,169.8 L479.6,169.9 L480.4,170.1 L481.2,170.3 L482.0,170.5 L482.8,170.7 L483.6,170.9 L484.4,171.1 L485.2,171.2 L486.0,171.4 L486.8,171.6 L487.6,171.8 L488.4,171.9 L489.2,172.1 L490.0,172.3 L490.8,172.4 L491.6,172.6 L492.4,172.7 L493.2,172.9 L494.0,173.0 L494.8,173.2 L495.6,173.3 L496.4,173.4 L497.2,173.6 L498.0,173.7 L498.8,173.8 L499.6,173.9 L500.0,174.0" stroke="#d62728"/>
<path d="M83.6,270.0 L84.4,223.4 L85.0,200.0 L85.2,195.1 L86.0,179.2 L86.8,167.7 L87.5,160.0 L87.6,159.0 L88.4,151.7 L89.2,145.4 L90.0,140.2 L90.8,135.9 L91.0,135.0 L91.6,132.5 L92.4,129.8 L93.2,127.5 L94.0,125.2 L94.8,122.7 L95.0,122.0 L95.6,119.4 L96.4,115.1 L97.2,111.1 L98.0,108.3 L98.5,107.7 L98.8,107.9 L99.6,109.7 L100.4,111.8 L100.5,112.0 L101.2,113.3 L102.0,114.9 L102.8,116.2 L103.6,117.2 L104.3,117.5 L104.4,117.5 L105.2,117.5 L106.0,117.4 L106.8,117.2 L107.6,117.0 L108.4,116.8 L109.2,116.5 L110.0,116.2 L110.8,115.8 L111.6,115.4 L112.4,115.1 L113.2,114.7 L114.0,114.2 L114.8,113.8 L115.6,113.4 L116.4,113.0 L117.2,112.6 L118.0,112.2 L118.8,111.9 L119.0,111.8 L119.6,111.5 L120.4,111.2 L121.2,110.8 L122.0,110.4 L122.8,110.0 L123.6,109.6 L124.4,109.2 L125.2,108.8 L126.0,108.4 L126.8,108.0 L127.6,107.6 L128.4,107.1 L129.2,106.7 L130.0,106.3 L130.8,105.9 L131.6,105.5 L132.4,105.1 L133.2,104.7 L134.0,104.3 L134.8,104.0 L135.6,103.6 L136.4,103.3 L137.2,103.0 L138.0,102.7 L138.8,102.4 L139.6,102.1 L140.4,101.9 L140.4,101.9 L141.2,101.7 L142.0,101.5 L142.8,101.4 L143.6,101.2 L144.4,101.1 L145.2,101.0 L146.0,100.8 L146.8,100.6 L147.6,100.4 L148.0,100.3 L148.4,100.2 L149.2,99.8 L150.0,99.3 L150.8,98.7 L151.6,98.1 L152.4,97.5 L153.2,97.0 L154.0,96.5 L154.8,96.1 L155.6,95.8 L156.4,95.7 L156.4,95.7 L157.2,95.7 L158.0,95.8 L158.8,95.9 L159.6,96.1 L160.4,96.2 L161.2,96.4 L162.0,96.6 L162.8,96.8 L163.6,96.9 L164.0,97.0 L164.4,97.1 L165.2,97.2 L166.0,97.4 L166.8,97.6 L167.6,97.8 L168.4,98.0 L169.2,98.2 L170.0,98.3 L170.8,98.4 L171.6,98.5 L172.4,98.6 L172.9,98.6 L173.2,98.6 L174.0,98.5 L174.8,98.3 L175.6,98.0 L176.4,97.6 L177.2,97.1 L178.0,96.6 L178.8,96.0 L179.6,95.4 L180.4,94.7 L181.2,94.0 L182.0,93.4 L182.8,92.7 L183.6,92.0 L184.4,91.4 L185.2,90.8 L186.0,90.3 L186.8,89.8 L187.6,89.4 L188.4,89.0 L189.2,88.8 L189.3,88.8 L190.0,88.7 L190.8,88.5 L191.6,88.3 L192.4,88.2 L193.2,88.1 L194.0,88.0 L194.8,87.9 L195.6,87.9 L195.9,87.9 L196.4,88.0 L197.2,88.3 L198.0,88.8 L198.8,89.2 L199.6,89.6 L200.0,89.6 L200.4,89.6 L201.2,89.2 L202.0,88.7 L202.8,88.1 L203.6,87.5 L204.4,87.2 L204.9,87.1 L205.2,87.3 L206.0,88.4 L206.0,88.4 L206.8,88.8 L207.6,89.1 L208.4,89.3 L208.4,89.3 L209.2,89.4 L210.0,89.6 L210.8,89.6 L210.8,89.6 L211.6,89.2 L212.4,88.5 L213.2,88.1 L213.2,88.1 L214.0,88.1 L214.8,88.2 L215.6,88.2 L215.6,88.2 L216.4,88.0 L217.2,87.7 L218.0,87.4 L218.0,87.4 L218.8,87.2 L219.6,87.1 L220.4,86.9 L220.4,86.9 L221.2,86.7 L222.0,86.4 L222.8,86.2 L222.8,86.2 L223.6,86.2 L224.4,86.1 L225.2,86.1 L225.2,86.1 L226.0,85.9 L226.8,85.4 L227.6,84.8 L227.6,84.8 L228.4,83.2 L229.2,81.1 L230.0,80.0 L230.0,80.0 L230.8,80.8 L231.6,82.5 L232.4,83.7 L232.4,83.7 L233.2,84.2 L234.0,84.6 L234.8,84.8 L234.8,84.8 L235.6,84.6 L236.4,84.1 L237.2,83.4 L237.2,83.4 L238.0,82.5 L238.8,81.2 L239.6,80.5 L239.6,80.5 L240.4,80.3 L241.2,80.1 L242.0,80.1 L242.0,80.1 L242.8,80.6 L243.6,81.6 L244.4,82.4 L244.4,82.4 L245.2,82.6 L246.0,82.9 L246.8,83.1 L246.8,83.1 L247.6,83.7 L248.4,84.5 L249.2,84.8 L249.2,84.8 L250.0,84.7 L250.8,84.4 L251.6,84.3 L251.6,84.3 L252.4,84.7 L253.2,85.5 L254.0,86.3 L254.0,86.3 L254.8,86.9 L255.6,87.5 L256.4,87.7 L256.4,87.7 L257.2,87.7 L258.0,87.7 L258.8,87.7 L258.8,87.7 L259.6,87.4 L260.4,86.8 L261.2,86.5 L261.2,86.5 L262.0,86.6 L262.8,87.0 L263.6,87.4 L263.6,87.4 L264.4,88.1 L265.2,88.9 L266.0,89.4 L266.0,89.4 L266.8,89.6 L267.6,89.8 L268.4,89.9 L268.4,89.9 L269.2,89.6 L270.0,89.0 L270.8,88.4 L270.8,88.4 L271.6,87.9 L272.4,87.5 L273.2,87.3 L273.2,87.3 L274.0,87.3 L274.8,87.6 L275.6,87.9 L275.6,87.9 L276.4,88.5 L277.2,89.3 L278.0,90.2 L278.0,90.2 L278.8,91.3 L279.6,92.4 L280.4,92.9 L280.4,92.9 L281.2,92.7 L282.0,92.4 L282.8,92.2 L282.8,92.2 L283.6,92.3 L284.4,92.4 L285.2,92.5 L285.2,92.5 L286.0,92.5 L286.8,92.4 L287.6,92.3 L287.6,92.3 L288.4,91.9 L289.2,91.4 L290.0,91.1 L290.0,91.1 L290.8,91.2 L291.6,91.5 L292.4,91.6 L292.4,91.6 L293.2,91.3 L294.0,90.8 L294.8,90.1 L294.8,90.1 L295.6,89.5 L296.4,88.9 L297.2,88.1 L297.2,88.1 L298.0,86.9 L298.8,85.4 L299.6,84.4 L299.6,84.4 L300.4,83.8 L301.2,83.3 L302.0,83.1 L302.0,83.1 L302.8,83.8 L303.6,85.2 L304.4,86.5 L304.4,86.5 L305.2,87.3 L306.0,88.1 L306.8,88.7 L306.8,88.7 L307.6,89.2 L308.4,89.5 L309.2,90.0 L309.2,90.0 L310.0,90.9 L310.8,91.9 L311.6,92.3 L311.6,92.3 L312.4,92.3 L313.2,92.3 L314.0,92.2 L314.0,92.2 L314.8,91.7 L315.6,91.0 L316.4,90.6 L316.4,90.6 L317.2,90.6 L318.0,90.6 L318.8,90.6 L318.8,90.6 L319.6,90.9 L320.4,91.8 L321.2,92.9 L321.2,92.9 L322.0,94.5 L322.8,96.5 L323.6,98.0 L323.6,98.0 L324.4,98.9 L325.2,99.7 L326.0,100.3 L326.8,100.9 L327.6,101.4 L328.4,101.9 L329.2,102.3 L329.9,102.7 L330.0,102.8 L330.8,103.2 L331.6,103.6 L332.4,104.0 L333.2,104.4 L334.0,104.7 L334.8,105.1 L335.6,105.4 L336.4,105.8 L337.2,106.0 L338.0,106.3 L338.8,106.5 L339.6,106.6 L340.4,106.8 L341.2,106.8 L341.4,106.8 L342.0,106.8 L342.8,106.6 L343.6,106.4 L344.4,106.1 L345.2,105.7 L346.0,105.3 L346.8,104.9 L347.6,104.5 L347.9,104.4 L348.4,104.2 L349.2,103.7 L350.0,103.2 L350.8,102.6 L351.6,102.1 L352.4,101.5 L353.2,100.9 L354.0,100.3 L354.8,99.8 L355.6,99.4 L356.1,99.1 L356.4,99.0 L357.2,98.5 L358.0,98.1 L358.8,97.7 L359.6,97.3 L360.4,97.0 L361.2,96.7 L362.0,96.5 L362.7,96.5 L362.8,96.5 L363.6,96.6 L364.4,97.0 L365.2,97.4 L366.0,97.9 L366.8,98.5 L367.6,98.9 L368.4,99.3 L369.2,99.4 L369.3,99.4 L370.0,99.4 L370.8,99.4 L371.6,99.3 L372.4,99.3 L373.2,99.2 L374.0,99.2 L374.8,99.1 L375.6,99.0 L376.4,99.0 L377.2,98.9 L378.0,98.8 L378.8,98.7 L379.6,98.6 L380.0,98.6 L380.4,98.6 L381.2,98.5 L382.0,98.3 L382.8,98.2 L383.6,98.1 L384.4,97.9 L385.2,97.7 L386.0,97.6 L386.8,97.4 L387.6,97.3 L388.4,97.1 L389.2,97.0 L390.0,96.8 L390.8,96.7 L391.6,96.6 L392.4,96.6 L393.2,96.5 L394.0,96.5 L394.0,96.5 L394.8,96.7 L395.6,97.2 L396.4,97.9 L397.2,98.9 L398.0,99.9 L398.8,100.9 L399.6,101.8 L399.7,101.9 L400.4,102.8 L401.2,104.0 L402.0,105.2 L402.8,106.4 L403.6,107.2 L404.4,107.7 L404.6,107.7 L405.2,107.6 L406.0,107.3 L406.8,106.7 L407.6,106.1 L408.4,105.5 L409.2,105.0 L410.0,104.7 L410.4,104.7 L410.8,104.7 L411.6,104.8 L412.4,105.1 L413.2,105.4 L414.0,105.9 L414.8,106.3 L415.6,106.9 L416.4,107.5 L417.2,108.1 L418.0,108.7 L418.8,109.3 L419.6,109.9 L420.4,110.5 L421.1,110.9 L421.2,111.0 L422.0,111.4 L422.8,111.8 L423.6,112.3 L424.4,112.7 L425.2,113.1 L426.0,113.6 L426.8,114.0 L427.6,114.6 L428.4,115.2 L429.2,115.8 L429.3,115.9 L430.0,116.6 L430.8,117.5 L431.6,118.5 L432.4,119.7 L433.2,121.0 L434.0,122.3 L434.8,123.7 L435.0,124.1 L435.6,125.3 L436.1,126.5 L436.4,127.6 L437.2,131.6 L438.0,135.7 L438.3,136.9 L438.8,138.3 L439.6,139.9 L440.4,141.8 L440.7,142.9 L441.2,146.4 L442.0,155.5 L442.8,162.9 L443.0,163.7 L443.6,165.0 L444.4,166.4 L445.2,167.5 L446.0,168.3 L446.8,168.9 L447.6,169.4 L447.6,169.4 L448.4,169.8 L449.2,170.2 L450.0,170.6 L450.8,170.9 L451.6,171.2 L452.4,171.5 L453.2,171.8 L454.0,172.0 L454.8,172.2 L455.6,172.5 L456.4,172.7 L457.2,172.8 L458.0,173.0 L458.8,173.2 L459.6,173.4 L460.4,173.5 L461.2,173.7 L462.0,173.9 L462.8,174.0 L463.6,174.2 L464.4,174.3 L465.2,174.5 L466.0,174.7 L466.0,174.7 L466.8,174.9 L467.6,175.1 L468.4,175.2 L469.2,175.4 L470.0,175.6 L470.8,175.8 L471.6,176.0 L472.4,176.1 L473.2,176.3 L474.0,176.5 L474.8,176.6 L475.6,176.8 L476.4,177.0 L477.2,177.1 L478.0,177.3 L478.8,177.5 L479.6,177.6 L480.4,177.8 L481.2,177.9 L482.0,178.1 L482.8,178.2 L483.6,178.4 L484.4,178.5 L485.2,178.7 L486.0,178.8 L486.8,179.0 L487.6,179.1 L488.4,179.3 L489.2,179.4 L490.0,179.5 L490.8,179.6 L491.6,179.8 L492.4,179.9 L493.2,180.0 L494.0,180.1 L494.8,180.2 L495.6,180.3 L496.4,180.5 L497.2,180.6 L498.0,180.7 L498.8,180.8 L499.6,180.9 L500.0,180.9" stroke="#9467bd"/>
<path d="M83.6,270.0 L84.4,228.1 L85.2,200.0 L85.2,200.0 L86.0,186.1 L86.8,176.1 L87.6,168.4 L88.0,165.0 L88.4,161.7 L89.2,155.8 L90.0,150.7 L90.8,146.1 L91.6,142.0 L92.0,140.0 L92.4,138.2 L93.2,134.9 L94.0,131.9 L94.8,128.9 L95.5,126.0 L95.6,125.5 L96.4,120.8 L97.2,115.6 L98.0,111.8 L98.5,111.0 L98.8,111.2 L99.6,112.8 L100.4,114.8 L100.5,115.0 L101.2,116.3 L102.0,118.0 L102.8,119.4 L103.6,120.5 L104.3,120.8 L104.4,120.8 L105.2,120.8 L106.0,120.7 L106.8,120.6 L107.6,120.4 L108.4,120.2 L109.2,120.0 L110.0,119.7 L110.8,119.4 L111.6,119.1 L112.4,118.8 L113.2,118.4 L114.0,118.1 L114.8,117.7 L115.6,117.4 L116.4,117.0 L117.2,116.7 L118.0,116.3 L118.8,116.0 L119.0,115.9 L119.6,115.6 L120.4,115.3 L121.2,114.8 L122.0,114.4 L122.8,113.9 L123.6,113.4 L124.4,112.8 L125.2,112.3 L126.0,111.7 L126.8,111.2 L127.6,110.6 L128.4,110.0 L129.2,109.4 L130.0,108.9 L130.8,108.3 L131.6,107.8 L132.4,107.3 L133.2,106.8 L134.0,106.3 L134.8,105.9 L135.6,105.5 L136.4,105.2 L137.2,104.9 L138.0,104.7 L138.8,104.5 L139.6,104.4 L140.4,104.4 L140.4,104.4 L141.2,104.4 L142.0,104.5 L142.8,104.6 L143.6,104.7 L144.4,104.8 L145.2,105.0 L146.0,105.1 L146.8,105.1 L147.6,105.2 L148.0,105.2 L148.4,105.2 L149.2,105.2 L150.0,105.2 L150.8,105.2 L151.6,105.2 L152.4,105.2 L153.0,105.2 L153.2,105.2 L154.0,104.8 L154.8,104.0 L155.6,103.0 L156.4,102.0 L157.2,101.3 L158.0,101.0 L158.0,101.0 L158.8,101.0 L159.6,101.0 L160.4,101.1 L161.2,101.1 L162.0,101.2 L162.8,101.2 L163.6,101.3 L164.4,101.4 L165.2,101.4 L166.0,101.5 L166.8,101.6 L167.6,101.6 L168.4,101.7 L169.2,101.8 L170.0,101.8 L170.8,101.9 L171.6,101.9 L172.4,101.9 L172.9,101.9 L173.2,101.9 L174.0,101.7 L174.8,101.3 L175.6,100.8 L176.4,100.1 L177.2,99.4 L178.0,98.7 L178.8,98.0 L179.6,97.3 L180.0,97.0 L180.4,96.7 L181.2,96.0 L182.0,95.3 L182.8,94.5 L183.6,93.7 L184.4,92.9 L185.2,92.2 L186.0,91.5 L186.8,90.8 L187.6,90.3 L188.4,89.9 L189.2,89.6 L189.3,89.6 L190.0,89.5 L190.8,89.3 L191.6,89.2 L192.4,89.1 L193.2,89.0 L194.0,88.9 L194.8,88.8 L195.6,88.8 L195.9,88.8 L196.4,88.9 L197.2,89.1 L198.0,89.6 L198.8,90.1 L199.6,90.7 L200.4,91.3 L201.2,91.7 L202.0,92.0 L202.4,92.0 L202.8,92.0 L203.6,91.9 L204.4,91.8 L205.2,91.6 L206.0,91.5 L206.0,91.5 L206.8,91.1 L207.6,90.6 L208.4,90.3 L208.4,90.3 L209.2,90.3 L210.0,90.3 L210.8,90.3 L210.8,90.3 L211.6,90.5 L212.4,90.9 L213.2,91.2 L213.2,91.2 L214.0,91.4 L214.8,91.6 L215.6,91.7 L215.6,91.7 L216.4,91.0 L217.2,89.7 L218.0,88.9 L218.0,88.9 L218.8,88.9 L219.6,88.9 L220.4,88.9 L220.4,88.9 L221.2,88.4 L222.0,87.5 L222.8,87.1 L222.8,87.1 L223.6,87.2 L224.4,87.4 L225.2,87.5 L225.2,87.5 L226.0,87.3 L226.8,86.6 L227.6,86.0 L227.6,86.0 L228.4,85.1 L229.2,84.2 L230.0,83.7 L230.0,83.7 L230.8,84.3 L231.6,85.3 L232.4,86.1 L232.4,86.1 L233.2,86.4 L234.0,86.6 L234.8,86.7 L234.8,86.7 L235.6,86.6 L236.4,86.4 L237.2,86.0 L237.2,86.0 L238.0,85.0 L238.8,83.4 L239.6,82.6 L239.6,82.6 L240.4,82.6 L241.2,82.7 L242.0,82.9 L242.0,82.9 L242.8,83.4 L243.6,84.3 L244.4,84.9 L244.4,84.9 L245.2,85.2 L246.0,85.4 L246.8,85.7 L246.8,85.7 L247.6,86.1 L248.4,86.6 L249.2,87.2 L249.2,87.2 L250.0,87.8 L250.8,88.5 L251.6,88.9 L251.6,88.9 L252.4,88.9 L253.2,89.0 L254.0,89.1 L254.0,89.1 L254.8,89.6 L255.6,90.5 L256.4,91.0 L256.4,91.0 L257.2,90.5 L258.0,89.7 L258.8,89.2 L258.8,89.2 L259.6,89.3 L260.4,89.4 L261.2,89.5 L261.2,89.5 L262.0,89.6 L262.8,89.8 L263.6,90.0 L263.6,90.0 L264.4,90.5 L265.2,91.3 L266.0,91.6 L266.0,91.6 L266.8,91.7 L267.6,91.7 L268.4,91.7 L268.4,91.7 L269.2,91.5 L270.0,91.2 L270.8,90.8 L270.8,90.8 L271.6,90.2 L272.4,89.6 L273.2,89.3 L273.2,89.3 L274.0,89.8 L274.8,90.7 L275.6,91.2 L275.6,91.2 L276.4,91.2 L277.2,91.3 L278.0,91.3 L278.0,91.3 L278.8,92.0 L279.6,93.2 L280.4,94.1 L280.4,94.1 L281.2,94.7 L282.0,95.1 L282.8,95.3 L282.8,95.3 L283.6,95.1 L284.4,94.7 L285.2,94.5 L285.2,94.5 L286.0,94.5 L286.8,94.6 L287.6,94.7 L287.6,94.7 L288.4,94.8 L289.2,94.8 L290.0,94.9 L290.0,94.9 L290.8,94.7 L291.6,94.2 L292.4,93.6 L292.4,93.6 L293.2,93.1 L294.0,92.5 L294.8,91.7 L294.8,91.7 L295.6,90.4 L296.4,88.7 L297.2,87.4 L297.2,87.4 L298.0,86.6 L298.8,86.0 L299.6,85.6 L299.6,85.6 L300.4,85.5 L301.2,85.4 L302.0,85.4 L302.0,85.4 L302.8,85.8 L303.6,86.6 L304.4,87.5 L304.4,87.5 L305.2,88.3 L306.0,89.2 L306.8,90.1 L306.8,90.1 L307.6,91.3 L308.4,92.5 L309.2,93.6 L309.2,93.6 L310.0,94.6 L310.8,95.4 L311.6,95.8 L311.6,95.8 L312.4,95.9 L313.2,96.0 L314.0,96.0 L314.0,96.0 L314.8,95.7 L315.6,95.2 L316.4,94.7 L316.4,94.7 L317.2,94.1 L318.0,93.5 L318.8,93.2 L318.8,93.2 L319.6,93.9 L320.4,95.4 L321.2,97.1 L321.2,97.1 L322.0,99.1 L322.8,101.2 L323.6,102.6 L323.6,102.6 L324.4,103.1 L325.2,103.5 L326.0,103.9 L326.8,104.2 L327.6,104.4 L328.4,104.7 L329.2,104.9 L329.9,105.2 L330.0,105.2 L330.8,105.6 L331.6,106.1 L332.4,106.5 L333.2,107.0 L334.0,107.5 L334.8,108.0 L335.6,108.5 L336.4,108.9 L337.2,109.3 L338.0,109.6 L338.8,109.9 L339.6,110.0 L340.4,110.1 L340.5,110.1 L341.2,110.0 L342.0,109.5 L342.8,108.8 L343.6,107.9 L344.4,107.0 L345.2,106.2 L346.0,105.4 L346.3,105.2 L346.8,104.9 L347.6,104.3 L348.4,103.8 L349.2,103.3 L350.0,102.8 L350.8,102.4 L351.6,101.9 L352.4,101.5 L353.2,101.0 L354.0,100.6 L354.8,100.1 L355.6,99.7 L356.1,99.4 L356.4,99.2 L357.2,98.7 L358.0,98.1 L358.8,97.5 L359.6,97.0 L360.4,96.4 L361.2,96.0 L362.0,95.6 L362.8,95.4 L363.5,95.3 L363.6,95.3 L364.4,95.7 L365.2,96.4 L366.0,97.3 L366.8,98.3 L367.6,99.0 L368.4,99.4 L368.5,99.4 L369.2,99.4 L370.0,99.4 L370.8,99.4 L371.6,99.4 L372.4,99.4 L373.2,99.3 L374.0,99.3 L374.8,99.3 L375.6,99.3 L376.4,99.2 L377.2,99.2 L378.0,99.2 L378.8,99.1 L379.2,99.1 L379.6,99.1 L380.4,99.0 L381.2,98.9 L382.0,98.8 L382.8,98.7 L383.6,98.6 L384.4,98.4 L385.2,98.3 L386.0,98.2 L386.8,98.0 L387.6,97.9 L388.4,97.9 L389.2,97.8 L390.0,97.8 L390.0,97.8 L390.8,97.8 L391.6,97.9 L392.4,97.9 L393.2,98.0 L394.0,98.1 L394.0,98.1 L394.8,98.4 L395.6,98.9 L396.4,99.7 L397.2,100.5 L398.0,101.5 L398.8,102.5 L399.6,103.4 L399.7,103.5 L400.4,104.4 L401.2,105.6 L402.0,106.8 L402.8,108.0 L403.6,108.8 L404.4,109.3 L404.6,109.3 L405.2,109.2 L406.0,108.8 L406.8,108.2 L407.6,107.6 L408.4,106.9 L409.2,106.4 L410.0,106.0 L410.4,106.0 L410.8,106.0 L411.6,106.2 L412.4,106.4 L413.2,106.8 L414.0,107.2 L414.8,107.7 L415.6,108.3 L416.4,108.9 L417.2,109.5 L418.0,110.0 L418.8,110.6 L419.6,111.1 L420.4,111.5 L421.1,111.8 L421.2,111.8 L422.0,112.1 L422.8,112.3 L423.6,112.5 L424.4,112.7 L425.2,112.8 L426.0,113.0 L426.8,113.2 L427.6,113.5 L428.4,113.8 L429.2,114.1 L429.3,114.2 L430.0,114.7 L430.8,115.8 L431.6,117.1 L432.4,118.8 L433.2,120.7 L434.0,122.9 L434.8,125.1 L435.0,125.7 L435.6,127.9 L436.4,131.9 L437.2,135.7 L437.5,136.9 L438.0,138.4 L438.8,140.5 L439.5,143.0 L439.6,143.5 L440.4,151.5 L441.2,161.9 L441.9,168.3 L442.0,168.8 L442.8,172.6 L443.6,175.7 L444.4,178.1 L445.2,179.7 L445.3,179.8 L446.0,180.6 L446.8,181.5 L447.6,182.2 L448.4,182.8 L449.2,183.4 L450.0,183.8 L450.8,184.2 L451.6,184.6 L452.2,184.8 L452.4,184.9 L453.2,185.2 L454.0,185.5 L454.8,185.7 L455.6,186.0 L456.4,186.2 L457.2,186.5 L458.0,186.7 L458.8,186.9 L459.6,187.1 L460.4,187.3 L461.2,187.4 L462.0,187.6 L462.8,187.8 L463.6,187.9 L464.4,188.1 L465.2,188.3 L466.0,188.4 L466.8,188.6 L467.6,188.7 L468.4,188.9 L469.2,189.1 L470.0,189.3 L470.6,189.4 L470.8,189.4 L471.6,189.6 L472.4,189.8 L473.2,190.0 L474.0,190.2 L474.8,190.4 L475.6,190.6 L476.4,190.8 L477.2,190.9 L478.0,191.1 L478.8,191.3 L479.6,191.5 L480.4,191.7 L481.2,191.9 L482.0,192.0 L482.8,192.2 L483.6,192.4 L484.4,192.6 L485.2,192.7 L486.0,192.9 L486.8,193.1 L487.6,193.3 L488.4,193.5 L489.2,193.6 L490.0,193.8 L490.8,194.0 L491.6,194.1 L492.4,194.3 L493.2,194.5 L494.0,194.7 L494.8,194.8 L495.6,195.0 L496.4,195.2 L497.2,195.3 L498.0,195.5 L498.8,195.7 L499.6,195.8 L500.0,195.9" stroke="#8c564b"/>
<path d="M83.6,270.0 L84.4,231.8 L85.2,204.0 L85.4,200.0 L86.0,191.4 L86.8,182.9 L87.6,176.6 L88.4,170.8 L88.5,170.0 L89.2,164.8 L90.0,159.4 L90.8,154.4 L91.6,149.8 L92.4,145.5 L92.5,145.0 L93.2,141.7 L94.0,138.5 L94.8,135.4 L95.6,132.0 L96.0,130.0 L96.4,127.5 L97.2,120.9 L98.0,115.4 L98.5,114.2 L98.8,114.4 L99.6,116.3 L100.4,118.7 L100.5,119.0 L101.2,120.9 L102.0,123.5 L102.8,125.9 L103.6,127.6 L104.3,128.2 L104.4,128.2 L105.2,128.2 L106.0,128.0 L106.8,127.8 L107.6,127.6 L108.4,127.3 L109.2,126.9 L110.0,126.6 L110.8,126.1 L111.6,125.7 L112.4,125.2 L113.2,124.8 L114.0,124.3 L114.8,123.8 L115.6,123.3 L116.4,122.9 L117.2,122.5 L118.0,122.1 L118.8,121.7 L119.0,121.6 L119.6,121.3 L120.4,121.0 L121.2,120.7 L122.0,120.4 L122.8,120.0 L123.6,119.7 L124.4,119.4 L125.2,119.1 L126.0,118.8 L126.8,118.5 L127.6,118.1 L128.4,117.8 L129.2,117.5 L130.0,117.2 L130.8,116.9 L131.6,116.6 L132.0,116.5 L132.4,116.4 L133.2,116.2 L134.0,116.0 L134.8,115.9 L135.6,115.7 L136.4,115.6 L137.2,115.3 L138.0,115.0 L138.8,114.6 L139.6,114.0 L139.8,113.8 L140.4,109.5 L140.4,109.5 L141.0,113.0 L141.2,113.0 L142.0,113.0 L142.8,112.9 L143.6,112.8 L144.4,112.7 L144.9,112.6 L145.2,112.5 L146.0,111.8 L146.8,110.7 L147.6,109.7 L148.0,109.3 L148.4,109.0 L149.2,108.4 L150.0,107.9 L150.8,107.5 L151.6,107.0 L152.4,106.5 L153.1,106.0 L153.2,105.9 L154.0,105.0 L154.8,104.0 L155.6,103.1 L156.4,102.7 L156.4,102.7 L157.2,102.7 L158.0,102.8 L158.8,102.8 L159.6,102.9 L160.4,103.0 L161.2,103.1 L162.0,103.2 L162.8,103.3 L163.6,103.4 L164.4,103.5 L164.6,103.5 L165.2,103.6 L166.0,103.7 L166.8,103.8 L167.6,103.9 L168.4,104.0 L169.2,104.1 L170.0,104.2 L170.8,104.3 L171.6,104.4 L172.4,104.4 L172.9,104.4 L173.2,104.4 L174.0,104.2 L174.8,103.7 L175.6,103.2 L176.4,102.5 L177.2,101.7 L178.0,100.9 L178.8,100.1 L179.6,99.3 L180.0,99.0 L180.4,98.7 L181.2,98.0 L182.0,97.2 L182.8,96.4 L183.6,95.6 L184.4,94.8 L185.2,94.1 L186.0,93.3 L186.8,92.7 L187.6,92.1 L188.4,91.6 L189.2,91.2 L189.3,91.2 L190.0,90.9 L190.8,90.7 L191.6,90.4 L192.4,90.2 L193.2,89.9 L194.0,89.8 L194.8,89.7 L195.6,89.6 L195.9,89.6 L196.4,89.7 L197.2,90.0 L198.0,90.6 L198.8,91.3 L199.6,92.1 L200.4,92.8 L201.2,93.3 L202.0,93.7 L202.4,93.7 L202.8,93.7 L203.6,93.6 L204.4,93.3 L205.2,93.1 L206.0,92.7 L206.0,92.7 L206.8,91.8 L207.6,90.6 L208.4,90.0 L208.4,90.0 L209.2,90.1 L210.0,90.3 L210.8,90.5 L210.8,90.5 L211.6,91.0 L212.4,91.6 L213.2,92.2 L213.2,92.2 L214.0,92.6 L214.8,93.0 L215.6,93.2 L215.6,93.2 L216.4,92.8 L217.2,91.9 L218.0,91.1 L218.0,91.1 L218.8,90.5 L219.6,90.0 L220.4,89.6 L220.4,89.6 L221.2,89.4 L222.0,89.2 L222.8,89.2 L222.8,89.2 L223.6,89.3 L224.4,89.6 L225.2,89.8 L225.2,89.8 L226.0,89.6 L226.8,89.2 L227.6,88.7 L227.6,88.7 L228.4,87.5 L229.2,85.7 L230.0,84.8 L230.0,84.8 L230.8,85.3 L231.6,86.3 L232.4,87.2 L232.4,87.2 L233.2,87.8 L234.0,88.4 L234.8,88.6 L234.8,88.6 L235.6,88.4 L236.4,88.0 L237.2,87.5 L237.2,87.5 L238.0,86.4 L238.8,85.1 L239.6,84.4 L239.6,84.4 L240.4,84.4 L241.2,84.4 L242.0,84.4 L242.0,84.4 L242.8,84.8 L243.6,85.8 L244.4,86.6 L244.4,86.6 L245.2,87.3 L246.0,87.9 L246.8,88.2 L246.8,88.2 L247.6,88.2 L248.4,88.3 L249.2,88.3 L249.2,88.3 L250.0,88.9 L250.8,89.9 L251.6,90.6 L251.6,90.6 L252.4,90.7 L253.2,90.8 L254.0,90.9 L254.0,90.9 L254.8,91.3 L255.6,91.9 L256.4,92.2 L256.4,92.2 L257.2,91.9 L258.0,91.1 L258.8,90.4 L258.8,90.4 L259.6,89.8 L260.4,89.2 L261.2,89.0 L261.2,89.0 L262.0,89.4 L262.8,90.4 L263.6,91.3 L263.6,91.3 L264.4,92.0 L265.2,92.7 L266.0,92.9 L266.0,92.9 L266.8,92.9 L267.6,92.9 L268.4,92.8 L268.4,92.8 L269.2,92.7 L270.0,92.5 L270.8,92.3 L270.8,92.3 L271.6,91.9 L272.4,91.4 L273.2,91.2 L273.2,91.2 L274.0,91.2 L274.8,91.3 L275.6,91.5 L275.6,91.5 L276.4,92.0 L277.2,92.8 L278.0,93.7 L278.0,93.7 L278.8,94.9 L279.6,96.2 L280.4,97.0 L280.4,97.0 L281.2,97.3 L282.0,97.4 L282.8,97.5 L282.8,97.5 L283.6,97.2 L284.4,96.8 L285.2,96.5 L285.2,96.5 L286.0,96.6 L286.8,96.7 L287.6,96.7 L287.6,96.7 L288.4,96.4 L289.2,95.9 L290.0,95.4 L290.0,95.4 L290.8,95.0 L291.6,94.8 L292.4,94.5 L292.4,94.5 L293.2,94.2 L294.0,93.9 L294.8,93.6 L294.8,93.6 L295.6,92.6 L296.4,91.0 L297.2,89.6 L297.2,89.6 L298.0,88.1 L298.8,86.7 L299.6,86.1 L299.6,86.1 L300.4,86.1 L301.2,86.1 L302.0,86.2 L302.0,86.2 L302.8,86.7 L303.6,87.8 L304.4,89.0 L304.4,89.0 L305.2,90.0 L306.0,91.0 L306.8,92.1 L306.8,92.1 L307.6,93.4 L308.4,94.9 L309.2,96.0 L309.2,96.0 L310.0,96.9 L310.8,97.6 L311.6,98.1 L311.6,98.1 L312.4,98.5 L313.2,98.8 L314.0,98.9 L314.0,98.9 L314.8,98.4 L315.6,97.5 L316.4,96.7 L316.4,96.7 L317.2,96.2 L318.0,95.7 L318.8,95.6 L318.8,95.6 L319.6,96.3 L320.4,98.1 L321.2,99.8 L321.2,99.8 L322.0,101.4 L322.8,102.9 L323.6,104.3 L323.6,104.3 L324.4,105.4 L325.2,106.5 L326.0,107.6 L326.8,108.6 L327.6,109.6 L328.4,110.5 L329.2,111.2 L330.0,111.8 L330.8,112.3 L331.5,112.6 L331.6,112.6 L332.4,112.9 L333.2,113.1 L334.0,113.3 L334.8,113.5 L335.6,113.7 L336.4,113.8 L337.2,113.9 L338.0,114.1 L338.8,114.1 L339.6,114.2 L340.4,114.2 L340.5,114.2 L341.2,113.7 L342.0,112.3 L342.8,110.4 L343.6,108.4 L344.4,107.0 L344.6,106.8 L345.2,106.3 L346.0,105.6 L346.8,105.0 L347.6,104.4 L348.4,103.9 L349.2,103.4 L350.0,103.0 L350.8,102.6 L351.6,102.2 L352.4,101.8 L353.2,101.5 L354.0,101.2 L354.8,100.8 L355.6,100.5 L356.1,100.3 L356.4,100.2 L357.2,99.8 L358.0,99.4 L358.8,99.1 L359.6,98.8 L360.4,98.7 L361.1,98.6 L361.2,98.6 L362.0,99.3 L362.8,100.8 L363.6,102.4 L364.4,103.8 L365.2,104.4 L365.2,104.4 L366.0,104.2 L366.8,103.6 L367.6,102.9 L368.4,102.2 L369.2,101.9 L369.3,101.9 L370.0,101.9 L370.8,101.8 L371.6,101.8 L372.4,101.7 L373.2,101.7 L374.0,101.6 L374.8,101.6 L375.6,101.6 L376.4,101.6 L377.2,101.5 L378.0,101.5 L378.8,101.5 L379.6,101.5 L380.4,101.5 L381.2,101.5 L382.0,101.5 L382.0,101.5 L382.8,101.5 L383.6,101.6 L384.4,101.8 L385.2,101.9 L386.0,102.2 L386.8,102.4 L387.6,102.7 L388.4,102.9 L389.2,103.2 L390.0,103.5 L390.0,103.5 L390.8,103.8 L391.6,104.2 L392.4,104.6 L393.2,105.0 L394.0,105.4 L394.8,105.9 L395.6,106.3 L396.4,106.8 L396.4,106.8 L397.2,107.3 L398.0,107.9 L398.8,108.5 L399.6,109.2 L400.4,109.8 L401.2,110.4 L402.0,110.9 L402.8,111.4 L403.6,111.7 L404.4,111.8 L404.6,111.8 L405.2,111.7 L406.0,111.6 L406.8,111.3 L407.6,110.9 L408.4,110.6 L409.2,110.3 L410.0,110.1 L410.4,110.1 L410.8,110.1 L411.6,110.4 L412.4,111.0 L413.2,111.7 L414.0,112.5 L414.8,113.2 L415.6,114.0 L416.4,114.5 L417.2,114.9 L417.8,115.0 L418.0,115.0 L418.8,114.9 L419.6,114.7 L420.4,114.5 L421.2,114.2 L422.0,113.9 L422.8,113.6 L423.6,113.3 L424.4,113.1 L425.2,113.0 L426.0,112.9 L426.0,112.9 L426.8,113.1 L427.6,113.5 L428.4,114.2 L429.2,115.1 L430.0,116.3 L430.8,117.5 L431.6,118.9 L432.4,120.4 L432.6,120.8 L433.2,122.3 L434.0,125.1 L434.8,128.6 L435.6,132.3 L436.4,135.7 L436.7,136.9 L437.2,138.6 L438.0,141.0 L438.8,144.0 L439.0,145.0 L439.6,150.1 L440.4,160.5 L441.2,171.3 L441.9,177.5 L442.0,178.0 L442.8,181.8 L443.6,184.9 L444.4,187.2 L445.2,188.9 L445.3,189.0 L446.0,189.9 L446.8,190.9 L447.6,191.7 L448.4,192.4 L449.2,193.1 L450.0,193.6 L450.8,194.0 L451.6,194.4 L452.2,194.7 L452.4,194.8 L453.2,195.1 L454.0,195.4 L454.8,195.7 L455.6,196.0 L456.4,196.2 L457.2,196.4 L458.0,196.7 L458.8,196.9 L459.6,197.1 L460.4,197.3 L461.2,197.5 L462.0,197.6 L462.8,197.8 L463.6,198.0 L464.4,198.1 L465.2,198.3 L466.0,198.4 L466.8,198.6 L467.6,198.7 L468.4,198.9 L469.2,199.0 L470.0,199.2 L470.6,199.3 L470.8,199.3 L471.6,199.5 L472.4,199.7 L473.2,199.8 L474.0,200.0 L474.8,200.1 L475.6,200.3 L476.4,200.4 L477.2,200.6 L478.0,200.7 L478.8,200.9 L479.6,201.0 L480.4,201.2 L481.2,201.3 L482.0,201.4 L482.8,201.6 L483.6,201.7 L484.4,201.8 L485.2,202.0 L486.0,202.1 L486.8,202.2 L487.6,202.4 L488.4,202.5 L489.2,202.6 L490.0,202.7 L490.8,202.8 L491.6,203.0 L492.4,203.1 L493.2,203.2 L494.0,203.3 L494.8,203.4 L495.6,203.5 L496.4,203.6 L497.2,203.7 L498.0,203.8 L498.8,203.9 L499.6,204.0 L500.0,204.0" stroke="#e377c2"/>
<path d="M83.6,270.0 L84.4,235.1 L85.2,208.0 L85.6,200.0 L86.0,194.8 L86.8,186.8 L87.6,180.9 L88.4,175.9 L89.0,172.0 L89.2,170.6 L90.0,165.3 L90.8,160.2 L91.6,155.5 L92.4,151.1 L93.0,148.0 L93.2,147.0 L94.0,143.6 L94.8,140.6 L95.6,137.4 L96.4,133.6 L96.5,133.0 L97.2,127.0 L98.0,119.4 L98.5,117.5 L98.8,117.8 L99.6,120.9 L100.3,124.0 L100.4,124.4 L101.2,128.0 L102.0,131.3 L102.6,132.3 L102.8,132.3 L103.6,132.1 L104.4,131.8 L105.2,131.4 L106.0,131.0 L106.0,131.0 L106.8,130.7 L107.6,130.3 L108.4,130.0 L109.2,129.6 L110.0,129.2 L110.8,128.9 L111.6,128.5 L112.4,128.1 L113.2,127.7 L114.0,127.3 L114.8,126.9 L115.6,126.6 L116.4,126.2 L117.2,125.8 L118.0,125.4 L118.8,125.0 L119.0,124.9 L119.6,124.6 L120.4,124.2 L121.2,123.8 L122.0,123.4 L122.8,123.0 L123.6,122.6 L124.4,122.3 L125.2,121.9 L126.0,121.5 L126.8,121.1 L127.6,120.7 L128.4,120.3 L129.2,119.9 L130.0,119.5 L130.8,119.1 L131.6,118.7 L132.0,118.5 L132.4,118.3 L133.2,118.0 L134.0,117.8 L134.8,117.6 L135.6,117.4 L136.4,117.2 L137.2,116.8 L138.0,116.4 L138.8,115.8 L139.6,115.0 L139.8,114.8 L140.4,111.0 L140.4,111.0 L141.0,114.2 L141.2,114.2 L142.0,114.1 L142.8,113.8 L143.6,113.5 L144.4,113.2 L145.0,113.0 L145.2,112.9 L146.0,112.7 L146.8,112.4 L147.6,112.1 L148.4,111.8 L149.2,111.5 L150.0,111.1 L150.8,110.8 L151.6,110.3 L152.4,109.8 L153.1,109.3 L153.2,109.2 L154.0,108.0 L154.8,106.4 L155.6,105.0 L156.4,104.4 L156.4,104.4 L157.2,104.4 L158.0,104.6 L158.8,104.7 L159.6,104.9 L160.4,105.2 L161.2,105.4 L162.0,105.6 L162.8,105.8 L163.6,105.9 L164.4,106.0 L164.6,106.0 L165.2,106.0 L166.0,106.0 L166.8,106.0 L167.6,105.9 L168.4,105.9 L169.2,105.9 L170.0,105.8 L170.8,105.8 L171.6,105.7 L172.4,105.7 L173.2,105.6 L174.0,105.6 L174.8,105.5 L175.0,105.5 L175.6,105.5 L176.4,105.4 L177.2,105.3 L178.0,105.2 L178.8,105.1 L179.6,105.0 L180.4,104.9 L181.2,104.7 L182.0,104.6 L182.7,104.4 L182.8,104.4 L183.6,104.1 L184.4,103.6 L185.2,102.9 L186.0,102.2 L186.8,101.4 L187.6,100.5 L188.4,99.6 L189.2,98.8 L190.0,98.0 L190.0,98.0 L190.8,97.1 L191.6,96.1 L192.4,95.0 L193.2,94.0 L194.0,93.1 L194.8,92.4 L195.6,92.0 L195.9,92.0 L196.4,92.2 L197.2,93.1 L198.0,94.3 L198.8,95.2 L199.2,95.3 L199.6,95.3 L200.4,94.9 L201.2,94.3 L202.0,93.6 L202.8,92.8 L203.6,92.0 L204.4,91.3 L205.2,90.9 L206.0,90.7 L206.0,90.7 L206.8,91.1 L207.6,91.9 L208.4,92.6 L208.4,92.6 L209.2,93.0 L210.0,93.3 L210.8,93.7 L210.8,93.7 L211.6,94.6 L212.4,95.6 L213.2,96.1 L213.2,96.1 L214.0,95.7 L214.8,94.6 L215.6,93.7 L215.6,93.7 L216.4,92.8 L217.2,91.9 L218.0,91.5 L218.0,91.5 L218.8,91.4 L219.6,91.3 L220.4,91.3 L220.4,91.3 L221.2,91.6 L222.0,92.2 L222.8,92.6 L222.8,92.6 L223.6,92.6 L224.4,92.7 L225.2,92.7 L225.2,92.7 L226.0,92.5 L226.8,92.0 L227.6,91.3 L227.6,91.3 L228.4,90.3 L229.2,89.0 L230.0,88.4 L230.0,88.4 L230.8,88.5 L231.6,88.8 L232.4,89.1 L232.4,89.1 L233.2,89.2 L234.0,89.3 L234.8,89.3 L234.8,89.3 L235.6,89.1 L236.4,88.8 L237.2,88.6 L237.2,88.6 L238.0,88.8 L238.8,89.2 L239.6,89.4 L239.6,89.4 L240.4,88.6 L241.2,87.2 L242.0,86.4 L242.0,86.4 L242.8,86.4 L243.6,86.4 L244.4,86.4 L244.4,86.4 L245.2,87.5 L246.0,89.6 L246.8,90.7 L246.8,90.7 L247.6,90.6 L248.4,90.5 L249.2,90.4 L249.2,90.4 L250.0,90.8 L250.8,91.5 L251.6,92.1 L251.6,92.1 L252.4,92.5 L253.2,92.9 L254.0,93.0 L254.0,93.0 L254.8,92.9 L255.6,92.7 L256.4,92.5 L256.4,92.5 L257.2,92.4 L258.0,92.3 L258.8,92.1 L258.8,92.1 L259.6,91.5 L260.4,90.5 L261.2,90.0 L261.2,90.0 L262.0,90.1 L262.8,90.2 L263.6,90.4 L263.6,90.4 L264.4,90.9 L265.2,91.5 L266.0,91.8 L266.0,91.8 L266.8,91.7 L267.6,91.7 L268.4,91.6 L268.4,91.6 L269.2,91.5 L270.0,91.3 L270.8,91.2 L270.8,91.2 L271.6,91.4 L272.4,91.8 L273.2,92.2 L273.2,92.2 L274.0,92.5 L274.8,92.9 L275.6,93.4 L275.6,93.4 L276.4,94.2 L277.2,95.2 L278.0,96.0 L278.0,96.0 L278.8,96.5 L279.6,96.9 L280.4,97.1 L280.4,97.1 L281.2,97.1 L282.0,97.2 L282.8,97.2 L282.8,97.2 L283.6,97.2 L284.4,97.3 L285.2,97.3 L285.2,97.3 L286.0,96.9 L286.8,96.1 L287.6,95.7 L287.6,95.7 L288.4,95.7 L289.2,95.7 L290.0,95.7 L290.0,95.7 L290.8,95.5 L291.6,95.2 L292.4,94.9 L292.4,94.9 L293.2,94.6 L294.0,94.4 L294.8,94.0 L294.8,94.0 L295.6,93.4 L296.4,92.4 L297.2,91.4 L297.2,91.4 L298.0,90.1 L298.8,88.9 L299.6,88.1 L299.6,88.1 L300.4,87.9 L301.2,87.8 L302.0,87.8 L302.0,87.8 L302.8,88.0 L303.6,88.6 L304.4,89.3 L304.4,89.3 L305.2,90.4 L306.0,91.9 L306.8,93.4 L306.8,93.4 L307.6,94.7 L308.4,96.1 L309.2,97.6 L309.2,97.6 L310.0,99.5 L310.8,101.4 L311.6,102.3 L311.6,102.3 L312.4,102.2 L313.2,101.9 L314.0,101.6 L314.0,101.6 L314.8,101.4 L315.6,101.1 L316.4,100.9 L316.4,100.9 L317.2,100.4 L318.0,99.8 L318.8,99.5 L318.8,99.5 L319.6,100.0 L320.4,101.1 L321.2,102.3 L321.2,102.3 L322.0,103.5 L322.8,104.8 L323.6,106.0 L323.6,106.0 L324.4,107.1 L325.2,108.3 L326.0,109.4 L326.8,110.5 L327.6,111.5 L328.4,112.5 L329.2,113.2 L330.0,113.8 L330.7,114.2 L330.8,114.2 L331.6,114.5 L332.4,114.8 L333.2,115.1 L334.0,115.3 L334.8,115.5 L335.6,115.7 L336.4,115.9 L337.2,116.0 L338.0,116.1 L338.8,116.2 L339.6,116.2 L339.7,116.2 L340.4,115.8 L341.2,114.6 L342.0,112.9 L342.8,111.0 L343.6,109.2 L344.4,107.9 L344.6,107.7 L345.2,107.2 L346.0,106.5 L346.8,105.9 L347.6,105.4 L348.4,104.9 L349.2,104.5 L350.0,104.1 L350.8,103.7 L351.6,103.3 L352.4,102.9 L352.9,102.7 L353.2,102.5 L354.0,102.1 L354.8,101.7 L355.6,101.2 L356.4,100.8 L357.2,100.5 L358.0,100.3 L358.6,100.3 L358.8,100.3 L359.6,101.3 L360.4,103.1 L361.2,105.2 L362.0,107.3 L362.8,108.8 L363.5,109.3 L363.6,109.3 L364.4,109.0 L365.2,108.2 L366.0,107.2 L366.8,106.1 L367.6,105.1 L368.4,104.3 L369.2,104.0 L369.3,104.0 L370.0,104.0 L370.8,104.0 L371.6,104.0 L372.4,104.0 L373.2,104.0 L374.0,104.0 L374.8,104.0 L375.6,104.0 L376.4,104.0 L377.2,104.0 L378.0,104.0 L378.8,104.0 L379.6,104.0 L380.4,104.0 L381.2,104.0 L382.0,104.0 L382.4,104.0 L382.8,104.0 L383.6,104.1 L384.4,104.3 L385.2,104.6 L386.0,104.9 L386.8,105.2 L387.6,105.5 L388.4,105.8 L389.2,106.1 L389.9,106.3 L390.0,106.3 L390.8,106.5 L391.6,106.7 L392.4,106.8 L393.2,106.9 L394.0,107.1 L394.8,107.2 L395.6,107.3 L396.4,107.5 L397.2,107.7 L398.0,108.0 L398.1,108.0 L398.8,108.4 L399.6,109.0 L400.4,109.9 L401.2,110.8 L402.0,111.7 L402.8,112.5 L403.6,113.1 L404.4,113.4 L404.6,113.4 L405.2,113.4 L406.0,113.3 L406.8,113.2 L407.6,113.1 L408.4,113.0 L409.2,113.0 L410.0,112.9 L410.4,112.9 L410.8,112.9 L411.6,113.3 L412.4,113.9 L413.2,114.6 L414.0,115.5 L414.8,116.4 L415.6,117.2 L416.4,117.8 L417.2,118.2 L417.8,118.3 L418.0,118.3 L418.8,118.1 L419.6,117.7 L420.4,117.1 L421.2,116.5 L422.0,115.8 L422.8,115.1 L423.6,114.4 L424.4,113.9 L425.2,113.5 L426.0,113.4 L426.0,113.4 L426.8,113.5 L427.6,114.0 L428.4,114.6 L429.2,115.4 L430.0,116.4 L430.8,117.4 L430.9,117.5 L431.6,118.6 L432.4,120.3 L433.2,122.5 L434.0,125.1 L434.8,128.2 L435.0,129.0 L435.6,133.0 L436.2,136.9 L436.4,137.6 L437.2,139.6 L438.0,141.4 L438.4,142.9 L438.8,146.0 L439.6,158.0 L440.4,172.2 L441.2,182.1 L441.2,182.1 L442.0,187.3 L442.8,191.5 L443.6,194.5 L444.2,195.9 L444.4,196.2 L445.2,197.4 L446.0,198.4 L446.8,199.3 L447.6,200.1 L448.4,200.7 L449.2,201.3 L450.0,201.7 L450.8,202.2 L451.6,202.5 L452.2,202.8 L452.4,202.9 L453.2,203.2 L454.0,203.5 L454.8,203.8 L455.6,204.0 L456.4,204.3 L457.2,204.5 L458.0,204.7 L458.8,204.9 L459.6,205.1 L460.4,205.3 L461.2,205.5 L462.0,205.6 L462.8,205.8 L463.6,205.9 L464.4,206.1 L465.2,206.3 L466.0,206.4 L466.8,206.6 L467.6,206.7 L468.4,206.9 L469.2,207.1 L470.0,207.3 L470.6,207.4 L470.8,207.4 L471.6,207.6 L472.4,207.8 L473.2,208.0 L474.0,208.2 L474.8,208.4 L475.6,208.6 L476.4,208.8 L477.2,209.0 L478.0,209.2 L478.8,209.4 L479.6,209.6 L480.4,209.8 L481.2,209.9 L482.0,210.1 L482.8,210.3 L483.6,210.5 L484.4,210.7 L485.2,210.9 L486.0,211.1 L486.8,211.3 L487.6,211.5 L488.4,211.6 L489.2,211.8 L490.0,212.0 L490.8,212.2 L491.6,212.4 L492.4,212.6 L493.2,212.8 L494.0,212.9 L494.8,213.1 L495.6,213.3 L496.4,213.5 L497.2,213.7 L498.0,213.8 L498.8,214.0 L499.6,214.2 L500.0,214.3" stroke="#7f7f7f"/>
<line x1="202.50" y1="37.20" x2="202.50" y2="264.20" stroke="#000" stroke-width="1.9"/>
<line x1="321.50" y1="37.20" x2="321.50" y2="264.20" stroke="#000" stroke-width="1.9"/>
</g>
<path d="M77.50,37.45 L500.00,37.45 M77.50,264.30 L500.00,264.30 M77.50,37.45 L77.50,264.30 M500.00,37.45 L500.00,264.30" fill="none" stroke="#000" stroke-width="1.1" stroke-linecap="square"/>
<line x1="83.40" y1="264.20" x2="83.40" y2="267.50" stroke="#000" stroke-width="0.9"/>
<text x="83.4" y="281.2" font-family="Liberation Sans, sans-serif" font-size="14.50" text-anchor="middle" fill="#000" stroke="#000" stroke-width="0.22" textLength="8.8" lengthAdjust="spacingAndGlyphs" >0</text>
<line x1="142.91" y1="264.20" x2="142.91" y2="267.50" stroke="#000" stroke-width="0.9"/>
<text x="142.9" y="281.2" font-family="Liberation Sans, sans-serif" font-size="14.50" text-anchor="middle" fill="#000" stroke="#000" stroke-width="0.22" textLength="8.8" lengthAdjust="spacingAndGlyphs" >1</text>
<line x1="202.42" y1="264.20" x2="202.42" y2="267.50" stroke="#000" stroke-width="0.9"/>
<text x="202.4" y="281.2" font-family="Liberation Sans, sans-serif" font-size="14.50" text-anchor="middle" fill="#000" stroke="#000" stroke-width="0.22" textLength="8.8" lengthAdjust="spacingAndGlyphs" >2</text>
<line x1="261.93" y1="264.20" x2="261.93" y2="267.50" stroke="#000" stroke-width="0.9"/>
<text x="261.9" y="281.2" font-family="Liberation Sans, sans-serif" font-size="14.50" text-anchor="middle" fill="#000" stroke="#000" stroke-width="0.22" textLength="8.8" lengthAdjust="spacingAndGlyphs" >3</text>
<line x1="321.44" y1="264.20" x2="321.44" y2="267.50" stroke="#000" stroke-width="0.9"/>
<text x="321.4" y="281.2" font-family="Liberation Sans, sans-serif" font-size="14.50" text-anchor="middle" fill="#000" stroke="#000" stroke-width="0.22" textLength="8.8" lengthAdjust="spacingAndGlyphs" >4</text>
<line x1="380.95" y1="264.20" x2="380.95" y2="267.50" stroke="#000" stroke-width="0.9"/>
<text x="381.0" y="281.2" font-family="Liberation Sans, sans-serif" font-size="14.50" text-anchor="middle" fill="#000" stroke="#000" stroke-width="0.22" textLength="8.8" lengthAdjust="spacingAndGlyphs" >5</text>
<line x1="440.46" y1="264.20" x2="440.46" y2="267.50" stroke="#000" stroke-width="0.9"/>
<text x="440.5" y="281.2" font-family="Liberation Sans, sans-serif" font-size="14.50" text-anchor="middle" fill="#000" stroke="#000" stroke-width="0.22" textLength="8.8" lengthAdjust="spacingAndGlyphs" >6</text>
<line x1="499.97" y1="264.20" x2="499.97" y2="267.50" stroke="#000" stroke-width="0.9"/>
<text x="500.0" y="281.2" font-family="Liberation Sans, sans-serif" font-size="14.50" text-anchor="middle" fill="#000" stroke="#000" stroke-width="0.22" textLength="8.8" lengthAdjust="spacingAndGlyphs" >7</text>
<line x1="74.00" y1="69.63" x2="77.50" y2="69.63" stroke="#000" stroke-width="0.9"/>
<text x="63.8" y="69.4" font-family="Liberation Sans, sans-serif" font-size="10.60" text-anchor="start" fill="#000" stroke="#000" stroke-width="0.22" textLength="6.4" lengthAdjust="spacingAndGlyphs" >5</text>
<text x="45.9" y="74.8" font-family="Liberation Sans, sans-serif" font-size="14.50" text-anchor="start" fill="#000" stroke="#000" stroke-width="0.22" textLength="17.4" lengthAdjust="spacingAndGlyphs" >10</text>
<line x1="74.00" y1="118.27" x2="77.50" y2="118.27" stroke="#000" stroke-width="0.9"/>
<text x="63.8" y="118.1" font-family="Liberation Sans, sans-serif" font-size="10.60" text-anchor="start" fill="#000" stroke="#000" stroke-width="0.22" textLength="6.4" lengthAdjust="spacingAndGlyphs" >2</text>
<text x="45.9" y="123.5" font-family="Liberation Sans, sans-serif" font-size="14.50" text-anchor="start" fill="#000" stroke="#000" stroke-width="0.22" textLength="17.4" lengthAdjust="spacingAndGlyphs" >10</text>
<line x1="74.00" y1="166.91" x2="77.50" y2="166.91" stroke="#000" stroke-width="0.9"/>
<text x="56.6" y="166.7" font-family="Liberation Sans, sans-serif" font-size="10.60" text-anchor="start" fill="#000" stroke="#000" stroke-width="0.22" textLength="13.6" lengthAdjust="spacingAndGlyphs" >−1</text>
<text x="38.7" y="172.1" font-family="Liberation Sans, sans-serif" font-size="14.50" text-anchor="start" fill="#000" stroke="#000" stroke-width="0.22" textLength="17.4" lengthAdjust="spacingAndGlyphs" >10</text>
<line x1="74.00" y1="215.56" x2="77.50" y2="215.56" stroke="#000" stroke-width="0.9"/>
<text x="56.6" y="215.4" font-family="Liberation Sans, sans-serif" font-size="10.60" text-anchor="start" fill="#000" stroke="#000" stroke-width="0.22" textLength="13.6" lengthAdjust="spacingAndGlyphs" >−4</text>
<text x="38.7" y="220.8" font-family="Liberation Sans, sans-serif" font-size="14.50" text-anchor="start" fill="#000" stroke="#000" stroke-width="0.22" textLength="17.4" lengthAdjust="spacingAndGlyphs" >10</text>
<line x1="74.00" y1="264.20" x2="77.50" y2="264.20" stroke="#000" stroke-width="0.9"/>
<text x="56.6" y="264.0" font-family="Liberation Sans, sans-serif" font-size="10.60" text-anchor="start" fill="#000" stroke="#000" stroke-width="0.22" textLength="13.6" lengthAdjust="spacingAndGlyphs" >−7</text>
<text x="38.7" y="269.4" font-family="Liberation Sans, sans-serif" font-size="14.50" text-anchor="start" fill="#000" stroke="#000" stroke-width="0.22" textLength="17.4" lengthAdjust="spacingAndGlyphs" >10</text>
<text x="91.6" y="62.1" font-family="Liberation Sans, sans-serif" font-size="17.60" text-anchor="start" fill="#000" stroke="#000" stroke-width="0.22" textLength="22.6" lengthAdjust="spacingAndGlyphs" >(a)</text>
<text x="245.4" y="300.5" font-family="Liberation Sans, sans-serif" font-size="17.7" fill="#000" stroke="#000" stroke-width="0.22" textLength="85.5" lengthAdjust="spacingAndGlyphs">time (<tspan font-style="italic">ms</tspan>)</text>
<text transform="translate(29.0,150.7) rotate(-90)" x="-101.8" y="0" font-family="Liberation Sans, sans-serif" font-size="17.7" fill="#000" stroke="#000" stroke-width="0.22" textLength="203.6" lengthAdjust="spacingAndGlyphs">Magnetic energy (a.u.)</text>
<rect x="205.8" y="181.0" width="166.2" height="76.2" rx="3" ry="3" fill="#ffffff" fill-opacity="0.8" stroke="#cccccc" stroke-width="1.1"/>
<line x1="210.4" y1="191.2" x2="237.0" y2="191.2" stroke="#1f77b4" stroke-width="2.05"/>
<text x="246.6" y="195.6" font-family="Liberation Sans, sans-serif" font-size="12.20" text-anchor="start" fill="#000" stroke="#000" stroke-width="0.08" textLength="28.6" lengthAdjust="spacingAndGlyphs" >n= 1</text>
<line x1="210.4" y1="209.3" x2="237.0" y2="209.3" stroke="#ff7f0e" stroke-width="2.05"/>
<text x="246.6" y="213.7" font-family="Liberation Sans, sans-serif" font-size="12.20" text-anchor="start" fill="#000" stroke="#000" stroke-width="0.08" textLength="28.6" lengthAdjust="spacingAndGlyphs" >n= 2</text>
<line x1="210.4" y1="227.4" x2="237.0" y2="227.4" stroke="#2ca02c" stroke-width="2.05"/>
<text x="246.6" y="231.8" font-family="Liberation Sans, sans-serif" font-size="12.20" text-anchor="start" fill="#000" stroke="#000" stroke-width="0.08" textLength="28.6" lengthAdjust="spacingAndGlyphs" >n= 3</text>
<line x1="210.4" y1="245.6" x2="237.0" y2="245.6" stroke="#d62728" stroke-width="2.05"/>
<text x="246.6" y="250.0" font-family="Liberation Sans, sans-serif" font-size="12.20" text-anchor="start" fill="#000" stroke="#000" stroke-width="0.08" textLength="28.6" lengthAdjust="spacingAndGlyphs" >n= 4</text>
<line x1="300.8" y1="191.2" x2="327.4" y2="191.2" stroke="#9467bd" stroke-width="2.05"/>
<text x="337.0" y="195.6" font-family="Liberation Sans, sans-serif" font-size="12.20" text-anchor="start" fill="#000" stroke="#000" stroke-width="0.08" textLength="28.6" lengthAdjust="spacingAndGlyphs" >n= 5</text>
<line x1="300.8" y1="209.3" x2="327.4" y2="209.3" stroke="#8c564b" stroke-width="2.05"/>
<text x="337.0" y="213.7" font-family="Liberation Sans, sans-serif" font-size="12.20" text-anchor="start" fill="#000" stroke="#000" stroke-width="0.08" textLength="28.6" lengthAdjust="spacingAndGlyphs" >n= 6</text>
<line x1="300.8" y1="227.4" x2="327.4" y2="227.4" stroke="#e377c2" stroke-width="2.05"/>
<text x="337.0" y="231.8" font-family="Liberation Sans, sans-serif" font-size="12.20" text-anchor="start" fill="#000" stroke="#000" stroke-width="0.08" textLength="28.6" lengthAdjust="spacingAndGlyphs" >n= 7</text>
<line x1="300.8" y1="245.6" x2="327.4" y2="245.6" stroke="#7f7f7f" stroke-width="2.05"/>
<text x="337.0" y="250.0" font-family="Liberation Sans, sans-serif" font-size="12.20" text-anchor="start" fill="#000" stroke="#000" stroke-width="0.08" textLength="28.6" lengthAdjust="spacingAndGlyphs" >n= 8</text>
<clipPath id="clip2"><rect x="77.70" y="328.20" width="426.80" height="226.70"/></clipPath>
<line x1="83.60" y1="328.20" x2="83.60" y2="554.90" stroke="#b0b0b0" stroke-width="0.85"/>
<line x1="143.69" y1="328.20" x2="143.69" y2="554.90" stroke="#b0b0b0" stroke-width="0.85"/>
<line x1="203.78" y1="328.20" x2="203.78" y2="554.90" stroke="#b0b0b0" stroke-width="0.85"/>
<line x1="263.87" y1="328.20" x2="263.87" y2="554.90" stroke="#b0b0b0" stroke-width="0.85"/>
<line x1="323.96" y1="328.20" x2="323.96" y2="554.90" stroke="#b0b0b0" stroke-width="0.85"/>
<line x1="384.05" y1="328.20" x2="384.05" y2="554.90" stroke="#b0b0b0" stroke-width="0.85"/>
<line x1="444.14" y1="328.20" x2="444.14" y2="554.90" stroke="#b0b0b0" stroke-width="0.85"/>
<line x1="504.23" y1="328.20" x2="504.23" y2="554.90" stroke="#b0b0b0" stroke-width="0.85"/>
<line x1="77.70" y1="360.59" x2="504.50" y2="360.59" stroke="#b0b0b0" stroke-width="0.85"/>
<line x1="77.70" y1="409.16" x2="504.50" y2="409.16" stroke="#b0b0b0" stroke-width="0.85"/>
<line x1="77.70" y1="457.74" x2="504.50" y2="457.74" stroke="#b0b0b0" stroke-width="0.85"/>
<line x1="77.70" y1="506.32" x2="504.50" y2="506.32" stroke="#b0b0b0" stroke-width="0.85"/>
<line x1="77.70" y1="554.90" x2="504.50" y2="554.90" stroke="#b0b0b0" stroke-width="0.85"/>
<g clip-path="url(#clip2)" fill="none" stroke-width="2.05" stroke-linejoin="round" stroke-linecap="butt">
<path d="M84.6,560.0 L85.0,554.0 L85.4,543.5 L86.2,520.0 L86.3,518.5 L87.0,511.2 L87.8,505.1 L88.6,500.5 L89.4,496.5 L89.5,496.0 L90.2,492.6 L91.0,489.1 L91.8,486.0 L92.6,483.0 L93.4,480.0 L93.4,480.0 L94.2,477.0 L95.0,474.0 L95.8,471.2 L96.6,468.3 L97.4,465.3 L98.2,462.2 L98.5,461.0 L99.0,458.9 L99.8,455.5 L100.6,452.0 L101.4,448.4 L102.2,444.7 L103.0,440.9 L103.8,437.0 L104.6,433.0 L105.0,431.0 L105.4,428.9 L106.2,424.6 L107.0,420.1 L107.8,415.5 L108.6,410.9 L109.4,406.4 L110.2,402.1 L110.4,401.1 L111.0,397.9 L111.8,393.6 L112.6,389.4 L113.4,385.6 L114.2,382.4 L114.5,381.4 L115.0,379.9 L115.8,377.7 L116.6,375.7 L117.4,374.0 L118.2,372.5 L119.0,371.3 L119.5,370.7 L119.8,370.4 L120.6,369.6 L121.4,368.9 L122.2,368.3 L123.0,368.0 L123.6,367.9 L123.8,367.9 L124.6,368.0 L125.4,368.3 L126.2,368.7 L127.0,369.1 L127.8,369.6 L128.6,370.1 L129.2,370.4 L129.4,370.5 L130.2,371.0 L131.0,371.5 L131.8,372.0 L132.6,372.6 L133.4,373.0 L134.2,373.5 L135.0,373.7 L135.2,373.8 L135.8,373.9 L136.6,374.1 L137.4,374.3 L138.2,374.4 L139.0,374.5 L139.8,374.7 L140.6,374.8 L141.4,374.9 L142.2,375.0 L143.0,375.0 L143.8,375.1 L144.6,375.2 L145.4,375.3 L146.0,375.3 L146.2,375.3 L147.0,375.4 L147.8,375.4 L148.6,375.5 L149.4,375.5 L150.2,375.6 L151.0,375.6 L151.8,375.7 L152.6,375.7 L153.4,375.8 L154.2,375.8 L155.0,375.9 L155.8,375.9 L156.6,375.9 L157.4,376.0 L158.2,376.0 L159.0,376.0 L159.8,376.1 L160.6,376.1 L161.4,376.1 L162.2,376.1 L163.0,376.1 L163.3,376.1 L163.8,376.1 L164.6,376.1 L165.4,376.1 L166.2,376.1 L167.0,376.1 L167.8,376.1 L168.6,376.1 L169.4,376.0 L170.2,376.0 L171.0,376.0 L171.8,376.0 L172.6,376.0 L173.4,376.0 L174.2,375.9 L175.0,375.9 L175.8,375.9 L176.6,375.9 L177.4,375.8 L178.2,375.8 L179.0,375.8 L179.8,375.8 L180.6,375.7 L181.4,375.7 L182.2,375.7 L183.0,375.6 L183.8,375.6 L184.6,375.5 L185.4,375.5 L186.2,375.5 L187.0,375.4 L187.8,375.4 L188.6,375.4 L189.4,375.3 L190.2,375.3 L191.0,375.2 L191.8,375.2 L192.6,375.1 L193.4,375.1 L194.2,375.0 L195.0,375.0 L195.8,374.9 L196.6,374.9 L197.4,374.8 L198.2,374.8 L199.0,374.7 L199.8,374.7 L200.6,374.6 L201.4,374.6 L202.2,374.5 L202.9,374.5 L203.0,374.5 L203.8,374.4 L204.6,374.4 L205.4,374.3 L206.2,374.2 L207.0,374.1 L207.8,374.0 L208.6,374.0 L209.4,373.9 L210.2,373.8 L211.0,373.6 L211.8,373.5 L212.6,373.4 L213.4,373.3 L214.2,373.2 L215.0,373.1 L215.8,373.0 L216.6,372.9 L217.4,372.8 L218.2,372.7 L219.0,372.6 L219.2,372.6 L219.8,372.5 L220.6,372.5 L221.4,372.4 L222.2,372.3 L223.0,372.3 L223.8,372.2 L224.6,372.1 L225.0,372.0 L225.4,371.9 L226.2,371.7 L227.0,371.4 L227.8,371.1 L228.6,370.7 L229.4,370.2 L230.2,369.7 L231.0,369.1 L231.6,368.7 L231.8,368.5 L232.6,367.8 L233.4,366.8 L234.2,365.6 L235.0,364.4 L235.8,363.1 L236.6,361.8 L237.4,360.6 L238.1,359.6 L238.2,359.5 L239.0,358.4 L239.8,357.3 L240.6,356.1 L241.4,355.0 L242.2,353.9 L243.0,352.8 L243.8,351.8 L244.6,350.8 L245.4,350.0 L246.2,349.2 L246.4,349.0 L247.0,348.5 L247.8,347.8 L248.6,347.1 L249.4,346.5 L250.2,345.9 L251.0,345.4 L251.8,344.9 L252.6,344.6 L252.9,344.5 L253.4,344.4 L254.2,344.1 L255.0,343.9 L255.8,343.7 L256.6,343.5 L257.4,343.3 L258.2,343.2 L259.0,343.0 L259.8,342.9 L260.6,342.8 L261.4,342.7 L262.2,342.7 L262.8,342.7 L263.0,342.7 L263.8,343.0 L264.6,343.5 L265.4,344.2 L266.2,345.1 L267.0,345.9 L267.7,346.5 L267.8,346.6 L268.6,347.3 L269.4,348.2 L270.2,349.2 L271.0,350.1 L271.8,350.9 L272.6,351.6 L273.4,352.1 L274.2,352.3 L274.3,352.3 L275.0,352.3 L275.8,352.2 L276.6,352.1 L277.4,352.0 L278.2,351.9 L279.0,351.8 L279.8,351.6 L280.6,351.5 L281.4,351.4 L282.2,351.4 L282.5,351.4 L283.0,351.4 L283.8,351.6 L284.6,351.9 L285.4,352.2 L286.2,352.6 L287.0,353.1 L287.8,353.5 L288.6,353.9 L289.4,354.3 L290.2,354.6 L290.7,354.7 L291.0,354.8 L291.8,354.9 L292.6,355.1 L293.4,355.3 L294.2,355.4 L295.0,355.5 L295.8,355.7 L296.6,355.8 L297.4,355.9 L298.2,355.9 L299.0,356.0 L299.8,356.0 L299.9,356.0 L300.6,356.0 L301.4,356.0 L302.2,355.9 L303.0,355.9 L303.8,355.8 L304.6,355.7 L305.4,355.7 L306.2,355.6 L307.0,355.5 L307.8,355.3 L308.6,355.2 L309.4,355.1 L310.2,354.9 L311.0,354.8 L311.4,354.7 L311.8,354.6 L312.6,354.3 L313.4,354.0 L314.2,353.5 L315.0,353.1 L315.8,352.6 L316.6,352.1 L317.4,351.6 L317.9,351.4 L318.2,351.3 L319.0,350.8 L319.8,350.4 L320.6,349.9 L321.4,349.5 L322.2,349.1 L323.0,348.8 L323.8,348.6 L324.5,348.5 L324.6,348.5 L325.4,349.0 L326.2,350.0 L327.0,351.2 L327.8,352.3 L327.8,352.3 L328.6,353.5 L329.4,355.0 L330.2,356.4 L331.0,357.5 L331.8,358.0 L331.9,358.0 L332.6,357.8 L333.4,357.3 L334.2,356.4 L335.0,355.4 L335.8,354.4 L336.6,353.4 L337.4,352.7 L338.2,352.3 L338.5,352.3 L339.0,352.3 L339.8,352.4 L340.6,352.7 L341.4,352.9 L342.2,353.3 L343.0,353.6 L343.8,354.0 L344.6,354.4 L345.4,354.8 L346.2,355.1 L347.0,355.4 L347.5,355.5 L347.8,355.6 L348.6,355.7 L349.4,355.9 L350.2,356.0 L351.0,356.1 L351.8,356.2 L352.6,356.3 L353.4,356.4 L354.2,356.5 L355.0,356.7 L355.8,356.8 L356.6,356.9 L357.4,357.1 L358.2,357.3 L358.2,357.3 L359.0,357.5 L359.8,357.8 L360.6,358.1 L361.4,358.4 L362.2,358.8 L363.0,359.2 L363.8,359.7 L364.6,360.2 L365.4,360.7 L366.2,361.2 L366.5,361.4 L367.0,361.8 L367.8,362.5 L368.6,363.3 L369.4,364.1 L370.2,365.1 L371.0,366.1 L371.8,367.1 L372.6,368.1 L373.4,369.0 L374.2,370.0 L374.7,370.5 L375.0,370.8 L375.8,371.6 L376.6,372.4 L377.4,373.3 L378.2,374.0 L379.0,374.8 L379.8,375.6 L380.6,376.4 L381.4,377.2 L382.2,377.9 L383.0,378.7 L383.8,379.5 L384.6,380.3 L384.6,380.3 L385.4,381.1 L386.2,381.9 L387.0,382.7 L387.8,383.5 L388.6,384.3 L389.4,385.2 L390.2,386.0 L391.0,386.8 L391.8,387.6 L392.6,388.4 L392.8,388.6 L393.4,389.2 L394.2,390.0 L395.0,390.9 L395.8,391.7 L396.6,392.6 L397.4,393.4 L398.2,394.2 L399.0,395.0 L399.8,395.8 L400.6,396.5 L401.0,396.8 L401.4,397.1 L402.2,397.8 L403.0,398.4 L403.8,399.1 L404.6,399.7 L405.4,400.3 L406.2,400.8 L407.0,401.3 L407.8,401.8 L408.6,402.3 L409.3,402.6 L409.4,402.6 L410.2,403.0 L411.0,403.3 L411.8,403.6 L412.6,403.9 L413.4,404.2 L414.2,404.5 L415.0,404.7 L415.8,404.9 L416.6,405.2 L417.4,405.4 L418.2,405.6 L419.0,405.8 L419.1,405.8 L419.8,406.0 L420.6,406.1 L421.4,406.3 L422.2,406.5 L423.0,406.6 L423.8,406.8 L424.6,406.9 L425.4,407.1 L426.2,407.2 L427.0,407.4 L427.8,407.5 L428.6,407.6 L429.4,407.7 L430.0,407.8 L430.2,407.8 L431.0,407.9 L431.8,408.0 L432.6,408.1 L433.4,408.2 L434.2,408.3 L435.0,408.4 L435.8,408.5 L436.6,408.6 L437.4,408.7 L438.2,408.7 L439.0,408.8 L439.8,408.9 L440.6,409.0 L441.4,409.0 L442.2,409.1 L443.0,409.2 L443.8,409.2 L444.4,409.3 L444.6,409.3 L445.4,409.4 L446.2,409.5 L447.0,409.5 L447.8,409.6 L448.6,409.7 L449.4,409.7 L450.2,409.8 L451.0,409.9 L451.8,409.9 L452.6,410.0 L453.4,410.1 L454.2,410.1 L455.0,410.2 L455.8,410.3 L456.6,410.3 L457.4,410.4 L458.2,410.4 L459.0,410.5 L459.8,410.6 L460.6,410.6 L461.4,410.7 L462.2,410.8 L463.0,410.8 L463.8,410.9 L464.6,410.9 L465.4,411.0 L466.2,411.1 L467.0,411.1 L467.8,411.2 L468.6,411.2 L469.4,411.3 L470.2,411.4 L471.0,411.4 L471.8,411.5 L472.6,411.5 L473.4,411.6 L474.2,411.6 L475.0,411.7 L475.8,411.8 L476.6,411.8 L477.4,411.9 L478.2,411.9 L479.0,412.0 L479.8,412.0 L480.6,412.1 L481.4,412.1 L482.2,412.2 L483.0,412.2 L483.8,412.3 L484.6,412.3 L485.4,412.4 L486.2,412.4 L487.0,412.5 L487.8,412.5 L488.6,412.6 L489.4,412.6 L490.2,412.6 L491.0,412.7 L491.8,412.7 L492.6,412.8 L493.4,412.8 L494.2,412.9 L495.0,412.9 L495.8,412.9 L496.6,413.0 L497.4,413.0 L498.2,413.0 L499.0,413.1 L499.8,413.1 L500.6,413.1 L501.4,413.2 L502.2,413.2 L503.0,413.2 L503.8,413.3 L504.5,413.3" stroke="#1f77b4"/>
<path d="M87.3,560.0 L87.6,554.4 L88.1,551.0 L88.9,547.4 L89.7,545.1 L90.5,542.7 L90.8,541.5 L91.3,539.3 L92.1,535.6 L92.9,531.7 L93.7,527.7 L94.5,523.6 L95.0,521.0 L95.3,519.4 L96.1,515.4 L96.9,511.4 L97.7,507.3 L98.5,502.9 L99.3,498.0 L100.1,492.3 L100.4,490.0 L100.9,485.1 L101.7,474.9 L102.5,464.8 L103.0,460.0 L103.3,457.8 L104.1,452.4 L104.9,447.8 L105.7,443.6 L106.5,439.8 L107.3,436.2 L108.1,432.5 L108.8,429.1 L108.9,428.6 L109.7,424.7 L110.5,420.8 L111.3,417.0 L112.1,413.2 L112.9,409.3 L112.9,409.3 L113.7,404.9 L114.5,400.1 L115.3,395.4 L116.1,391.3 L116.9,388.3 L117.0,388.0 L117.7,386.2 L118.5,384.1 L119.3,382.4 L120.1,381.0 L120.9,380.0 L121.7,379.7 L121.7,379.7 L122.5,380.2 L123.3,381.4 L124.1,382.9 L124.9,384.5 L125.3,385.2 L125.7,385.9 L126.5,387.3 L127.3,388.9 L128.1,390.5 L128.9,392.0 L129.7,393.3 L130.5,394.4 L131.2,395.0 L131.3,395.1 L132.1,395.5 L132.9,396.0 L133.7,396.4 L134.5,396.7 L135.3,397.0 L136.1,397.3 L136.9,397.6 L137.7,397.7 L138.5,397.9 L139.1,398.0 L139.3,398.0 L140.1,398.1 L140.9,398.2 L141.7,398.3 L142.5,398.4 L143.3,398.5 L144.1,398.5 L144.9,398.6 L145.7,398.6 L146.0,398.6 L146.5,398.6 L147.3,398.6 L148.1,398.6 L148.9,398.6 L149.7,398.6 L150.5,398.6 L151.3,398.6 L152.1,398.6 L152.9,398.6 L153.7,398.6 L154.5,398.6 L155.3,398.6 L156.1,398.6 L156.9,398.6 L157.7,398.6 L158.5,398.6 L159.3,398.6 L160.1,398.5 L160.9,398.5 L161.7,398.5 L162.5,398.5 L163.3,398.5 L164.1,398.5 L164.9,398.5 L165.7,398.5 L166.5,398.5 L167.3,398.5 L168.1,398.5 L168.9,398.5 L169.7,398.5 L170.5,398.4 L171.3,398.4 L172.1,398.4 L172.9,398.4 L173.7,398.4 L174.5,398.4 L175.3,398.4 L176.1,398.4 L176.9,398.4 L177.7,398.3 L178.5,398.3 L179.3,398.3 L180.1,398.3 L180.9,398.3 L181.7,398.3 L182.5,398.3 L183.3,398.3 L184.1,398.2 L184.9,398.2 L185.7,398.2 L186.5,398.2 L186.6,398.2 L187.3,398.2 L188.1,398.2 L188.9,398.1 L189.7,398.1 L190.5,398.1 L191.3,398.0 L192.1,398.0 L192.9,397.9 L193.7,397.9 L194.5,397.8 L195.3,397.7 L196.1,397.7 L196.9,397.6 L197.7,397.5 L198.5,397.5 L199.3,397.4 L200.1,397.3 L200.9,397.3 L201.7,397.2 L202.5,397.1 L203.3,397.1 L204.1,397.0 L204.9,396.9 L205.7,396.9 L206.5,396.8 L207.3,396.8 L208.1,396.7 L208.9,396.7 L209.7,396.6 L209.9,396.6 L210.5,396.6 L211.3,396.5 L212.1,396.5 L212.9,396.5 L213.7,396.4 L214.5,396.4 L215.3,396.4 L216.1,396.4 L216.9,396.4 L217.7,396.3 L218.5,396.3 L219.3,396.3 L220.1,396.3 L220.9,396.2 L221.7,396.2 L222.5,396.1 L223.3,396.1 L224.1,396.1 L224.9,396.0 L225.7,395.9 L226.2,395.9 L226.5,395.9 L227.3,395.8 L228.1,395.6 L228.9,395.4 L229.7,395.1 L230.5,394.8 L231.3,394.4 L232.1,394.0 L232.9,393.5 L233.2,393.3 L233.7,392.8 L234.5,391.6 L235.3,389.9 L236.1,387.8 L236.9,385.6 L237.7,383.4 L238.5,381.3 L239.3,379.4 L239.8,378.5 L240.1,378.0 L240.9,376.8 L241.7,375.6 L242.5,374.6 L243.3,373.5 L244.1,372.6 L244.9,371.6 L245.7,370.7 L246.5,369.7 L247.3,368.8 L248.0,367.9 L248.1,367.8 L248.9,366.8 L249.7,365.8 L250.5,364.8 L251.3,363.8 L252.1,362.8 L252.9,361.8 L253.7,360.8 L254.5,359.7 L254.6,359.6 L255.3,358.5 L256.1,357.0 L256.9,355.4 L257.7,354.0 L258.5,352.9 L259.3,352.3 L259.5,352.3 L260.1,352.3 L260.9,352.4 L261.7,352.6 L262.0,352.7 L262.5,352.8 L263.3,353.2 L264.1,353.4 L264.2,353.4 L264.9,353.4 L265.7,353.4 L266.4,353.4 L266.5,353.4 L267.3,353.6 L268.1,354.1 L268.6,354.4 L268.9,354.6 L269.7,355.5 L270.5,356.3 L270.8,356.6 L271.3,356.9 L272.1,357.4 L272.9,357.8 L273.0,357.9 L273.7,358.4 L274.5,359.0 L275.2,359.4 L275.3,359.5 L276.1,359.9 L276.9,360.2 L277.4,360.2 L277.7,360.2 L278.5,360.2 L279.3,360.1 L279.6,360.1 L280.1,360.3 L280.9,360.7 L281.7,361.1 L281.8,361.1 L282.5,360.7 L283.3,359.8 L284.0,359.2 L284.1,359.1 L284.9,358.7 L285.7,358.4 L286.2,358.2 L286.5,358.2 L287.3,358.0 L288.1,357.9 L288.4,357.9 L288.9,358.0 L289.7,358.5 L290.5,358.9 L290.6,359.0 L291.3,359.3 L292.1,359.6 L292.8,359.8 L292.9,359.8 L293.7,359.7 L294.5,359.7 L295.0,359.7 L295.3,359.8 L296.1,360.7 L296.9,361.5 L297.2,361.6 L297.7,361.6 L298.5,361.5 L299.3,361.4 L299.4,361.4 L300.1,361.7 L300.9,362.4 L301.6,362.8 L301.7,362.7 L302.5,362.6 L303.3,362.3 L303.8,362.2 L304.1,362.3 L304.9,362.8 L305.7,363.4 L306.0,363.4 L306.5,363.3 L307.3,362.7 L308.1,362.1 L308.2,362.1 L308.9,361.9 L309.7,361.8 L310.4,361.7 L310.5,361.6 L311.3,361.5 L312.1,361.3 L312.6,361.1 L312.9,360.9 L313.7,360.3 L314.5,359.6 L314.8,359.4 L315.3,359.0 L316.1,358.5 L316.9,358.2 L317.0,358.2 L317.7,358.2 L318.5,358.3 L319.2,358.4 L319.3,358.4 L320.1,358.4 L320.9,358.5 L321.4,358.5 L321.7,358.5 L322.5,358.8 L323.3,359.3 L323.6,359.6 L324.1,360.6 L324.9,363.6 L325.7,365.7 L325.8,365.7 L326.5,365.6 L327.3,365.2 L328.0,365.1 L328.1,365.1 L328.9,365.1 L329.7,365.2 L330.2,365.3 L330.5,365.6 L331.3,367.8 L332.1,370.1 L332.4,370.3 L332.9,370.3 L333.7,370.1 L334.5,369.9 L334.6,369.8 L335.3,368.9 L336.1,367.0 L336.8,365.8 L336.9,365.7 L337.7,364.8 L338.5,364.2 L339.0,364.1 L339.3,364.2 L340.1,365.4 L340.9,366.7 L341.2,367.0 L341.7,367.2 L342.5,367.5 L343.3,367.6 L343.4,367.6 L344.1,367.5 L344.9,367.2 L345.6,367.0 L345.7,366.9 L346.5,366.4 L347.3,365.9 L347.8,365.8 L348.1,365.8 L348.9,366.0 L349.7,366.2 L350.0,366.3 L350.5,366.6 L351.3,367.3 L352.1,368.1 L352.2,368.2 L352.9,369.2 L353.7,370.5 L354.4,371.3 L354.5,371.3 L355.3,371.8 L356.1,372.1 L356.6,372.2 L356.9,372.3 L357.7,372.4 L358.5,372.5 L358.8,372.5 L359.3,372.4 L360.1,371.8 L360.9,371.4 L361.0,371.4 L361.7,371.6 L362.5,371.9 L363.2,372.0 L363.3,372.0 L364.1,371.3 L364.9,370.3 L365.4,370.1 L365.7,370.2 L366.5,371.1 L367.3,372.5 L367.6,372.9 L368.1,373.7 L368.9,375.1 L369.7,376.1 L369.8,376.2 L370.5,376.6 L371.3,377.0 L372.0,377.4 L372.1,377.4 L372.9,378.4 L373.7,379.6 L374.2,380.4 L374.5,380.9 L375.3,382.2 L376.1,383.5 L376.4,384.1 L376.9,385.0 L377.7,386.6 L378.5,388.2 L378.6,388.4 L379.3,389.6 L380.1,390.9 L380.8,392.1 L380.9,392.3 L381.7,393.9 L382.5,395.5 L383.0,396.4 L383.3,396.8 L384.1,397.9 L384.9,399.1 L385.2,399.6 L385.7,400.7 L386.5,402.8 L387.3,404.8 L387.4,405.1 L388.1,406.8 L388.9,408.6 L389.6,409.9 L389.7,410.0 L390.5,411.0 L391.3,411.7 L391.8,411.9 L392.1,412.0 L392.9,412.1 L393.7,412.2 L394.0,412.2 L394.5,412.4 L395.3,412.8 L396.1,413.1 L396.2,413.1 L396.9,412.8 L397.7,412.2 L398.5,411.4 L399.3,410.8 L399.4,410.8 L400.1,410.5 L400.9,410.2 L401.7,410.0 L402.3,410.0 L402.5,413.7 L403.0,428.9 L403.3,429.5 L404.1,430.7 L404.9,431.4 L405.7,431.8 L406.5,432.1 L406.8,432.2 L407.3,432.4 L408.1,432.7 L408.9,433.0 L409.7,433.3 L410.5,433.5 L411.3,433.7 L412.1,433.9 L412.9,434.1 L413.7,434.3 L414.5,434.4 L415.3,434.6 L415.8,434.7 L416.1,434.8 L416.9,434.9 L417.7,435.1 L418.5,435.2 L419.3,435.4 L420.1,435.5 L420.9,435.6 L421.7,435.7 L422.5,435.9 L423.3,436.0 L424.1,436.1 L424.9,436.2 L425.7,436.3 L426.5,436.4 L427.3,436.5 L428.1,436.6 L428.9,436.8 L429.7,436.9 L430.0,436.9 L430.5,437.0 L431.3,437.1 L432.1,437.2 L432.9,437.3 L433.7,437.4 L434.5,437.5 L435.3,437.6 L436.1,437.7 L436.9,437.8 L437.7,437.9 L438.5,438.0 L439.3,438.1 L440.1,438.2 L440.9,438.3 L441.7,438.4 L442.5,438.5 L443.3,438.6 L444.1,438.7 L444.9,438.8 L445.7,438.9 L446.5,439.0 L447.3,439.1 L448.1,439.2 L448.9,439.3 L449.7,439.4 L450.5,439.5 L451.3,439.6 L452.1,439.7 L452.9,439.8 L453.7,439.9 L454.5,440.0 L455.3,440.1 L456.1,440.2 L456.9,440.3 L457.7,440.4 L458.5,440.5 L459.3,440.6 L460.1,440.7 L460.9,440.8 L461.7,440.8 L462.5,440.9 L463.3,441.0 L464.1,441.1 L464.9,441.2 L465.7,441.3 L466.5,441.4 L467.3,441.5 L468.1,441.6 L468.9,441.6 L469.7,441.7 L470.5,441.8 L471.3,441.9 L472.1,442.0 L472.9,442.1 L473.7,442.2 L474.5,442.2 L475.3,442.3 L476.1,442.4 L476.9,442.5 L477.7,442.6 L478.5,442.6 L479.3,442.7 L480.1,442.8 L480.9,442.9 L481.7,443.0 L482.5,443.0 L483.3,443.1 L484.1,443.2 L484.9,443.3 L485.7,443.3 L486.5,443.4 L487.3,443.5 L488.1,443.5 L488.9,443.6 L489.7,443.7 L490.5,443.7 L491.3,443.8 L492.1,443.9 L492.9,443.9 L493.7,444.0 L494.5,444.1 L495.3,444.1 L496.1,444.2 L496.9,444.3 L497.7,444.3 L498.5,444.4 L499.3,444.4 L500.1,444.5 L500.9,444.6 L501.7,444.6 L502.5,444.7 L503.3,444.7 L504.1,444.8 L504.5,444.8" stroke="#ff7f0e"/>
<path d="M84.0,560.0 L84.1,454.5 L84.8,440.3 L85.5,436.0 L85.6,435.2 L86.4,429.7 L87.2,425.5 L87.8,422.7 L88.0,421.8 L88.8,418.3 L89.6,414.9 L90.4,411.7 L91.2,408.6 L92.0,405.8 L92.8,403.1 L93.6,400.6 L94.4,398.3 L95.2,396.2 L95.7,395.0 L96.0,394.3 L96.8,392.6 L97.6,390.9 L98.4,389.4 L99.2,388.0 L100.0,386.7 L100.8,385.4 L101.6,384.2 L102.4,383.0 L103.2,381.8 L103.6,381.2 L104.0,380.6 L104.8,379.3 L105.6,377.9 L106.4,376.6 L107.2,375.4 L108.0,374.5 L108.8,373.9 L109.5,373.7 L109.6,373.7 L110.4,373.7 L111.2,373.7 L112.0,373.7 L112.8,373.7 L113.6,373.7 L114.4,373.8 L115.2,373.8 L116.0,373.8 L116.8,373.8 L117.6,373.9 L118.4,373.9 L119.2,373.9 L120.0,374.0 L120.8,374.0 L121.6,374.1 L122.4,374.1 L123.2,374.2 L124.0,374.2 L124.8,374.3 L125.3,374.3 L125.6,374.3 L126.4,374.4 L127.2,374.6 L128.0,374.7 L128.8,374.9 L129.6,375.1 L130.4,375.3 L131.2,375.5 L132.0,375.7 L132.8,375.9 L133.6,376.1 L134.4,376.2 L135.2,376.3 L135.2,376.3 L136.0,376.4 L136.8,376.4 L137.6,376.5 L138.4,376.5 L139.2,376.6 L140.0,376.6 L140.8,376.7 L141.6,376.7 L142.4,376.7 L143.2,376.8 L144.0,376.8 L144.8,376.8 L145.6,376.9 L146.0,376.9 L146.4,376.9 L147.2,377.0 L148.0,377.0 L148.8,377.0 L149.6,377.1 L150.4,377.1 L151.2,377.1 L152.0,377.2 L152.8,377.2 L153.6,377.3 L154.4,377.3 L155.2,377.3 L156.0,377.4 L156.8,377.4 L157.6,377.4 L158.4,377.5 L159.2,377.5 L160.0,377.5 L160.8,377.6 L161.6,377.6 L162.4,377.6 L163.2,377.7 L164.0,377.7 L164.8,377.7 L165.6,377.7 L166.4,377.8 L167.2,377.8 L168.0,377.8 L168.8,377.9 L169.6,377.9 L170.4,377.9 L171.2,377.9 L172.0,377.9 L172.8,378.0 L173.6,378.0 L174.4,378.0 L175.0,378.0 L175.2,378.0 L176.0,378.0 L176.8,378.0 L177.6,378.0 L178.4,378.1 L179.2,378.1 L180.0,378.1 L180.8,378.1 L181.6,378.1 L182.4,378.1 L183.2,378.1 L184.0,378.1 L184.8,378.2 L185.6,378.2 L186.4,378.2 L187.2,378.2 L188.0,378.2 L188.8,378.2 L189.6,378.2 L190.4,378.2 L191.2,378.2 L192.0,378.2 L192.8,378.2 L193.6,378.3 L194.4,378.3 L195.2,378.3 L196.0,378.3 L196.8,378.3 L197.6,378.3 L198.4,378.3 L199.2,378.3 L200.0,378.3 L200.8,378.3 L201.6,378.3 L202.4,378.3 L203.2,378.3 L204.0,378.4 L204.8,378.4 L205.6,378.4 L206.4,378.4 L207.2,378.4 L208.0,378.4 L208.8,378.4 L209.6,378.4 L209.9,378.4 L210.4,378.4 L211.2,378.4 L212.0,378.4 L212.8,378.4 L213.6,378.4 L214.4,378.4 L215.2,378.4 L216.0,378.5 L216.8,378.5 L217.6,378.5 L218.4,378.5 L219.2,378.5 L220.0,378.5 L220.8,378.5 L221.6,378.5 L222.4,378.5 L223.2,378.5 L224.0,378.5 L224.8,378.5 L225.0,378.5 L225.6,378.5 L226.4,378.4 L227.2,378.3 L228.0,378.2 L228.8,378.1 L229.6,377.9 L230.4,377.7 L231.2,377.5 L232.0,377.4 L232.8,377.2 L233.6,377.1 L234.4,377.0 L234.9,376.9 L235.2,376.9 L236.0,376.8 L236.8,376.8 L237.6,376.7 L238.4,376.7 L239.2,376.6 L240.0,376.6 L240.8,376.6 L241.6,376.5 L242.4,376.5 L243.2,376.4 L244.0,376.4 L244.8,376.3 L245.6,376.2 L246.4,376.1 L246.4,376.1 L247.2,375.6 L248.0,374.5 L248.8,372.9 L249.6,371.2 L250.4,369.5 L251.2,368.1 L251.3,367.9 L252.0,366.8 L252.8,365.3 L253.6,363.9 L254.4,362.7 L255.2,361.8 L256.0,361.3 L256.2,361.3 L256.8,361.4 L257.6,361.8 L258.4,362.5 L259.2,363.2 L260.0,364.0 L260.8,364.6 L261.6,364.9 L262.0,365.0 L262.4,364.9 L263.2,364.7 L264.0,364.3 L264.2,364.2 L264.8,363.8 L265.6,363.1 L266.4,362.7 L266.4,362.7 L267.2,362.5 L268.0,362.4 L268.6,362.3 L268.8,362.4 L269.6,363.3 L270.4,364.8 L270.8,365.3 L271.2,365.8 L272.0,366.8 L272.8,367.6 L273.0,367.7 L273.6,368.3 L274.4,369.0 L275.2,369.3 L275.2,369.3 L276.0,368.9 L276.8,368.1 L277.4,367.8 L277.6,367.8 L278.4,367.7 L279.2,367.7 L279.6,367.7 L280.0,367.7 L280.8,367.3 L281.6,367.0 L281.8,367.0 L282.4,367.2 L283.2,367.6 L284.0,367.9 L284.0,367.9 L284.8,367.5 L285.6,366.9 L286.2,366.7 L286.4,366.7 L287.2,367.2 L288.0,367.8 L288.4,368.0 L288.8,368.1 L289.6,368.3 L290.4,368.5 L290.6,368.6 L291.2,369.0 L292.0,370.0 L292.8,371.0 L292.8,371.0 L293.6,372.1 L294.4,373.1 L295.0,373.4 L295.2,373.4 L296.0,373.3 L296.8,373.1 L297.2,373.0 L297.6,372.9 L298.4,372.7 L299.2,372.5 L299.4,372.5 L300.0,372.3 L300.8,372.1 L301.6,371.9 L301.6,371.9 L302.4,371.9 L303.2,371.9 L303.8,371.9 L304.0,371.9 L304.8,371.2 L305.6,370.3 L306.0,370.2 L306.4,370.2 L307.2,370.3 L308.0,370.4 L308.2,370.4 L308.8,370.2 L309.6,369.6 L310.4,369.2 L310.4,369.2 L311.2,369.0 L312.0,369.0 L312.6,368.9 L312.8,369.0 L313.6,369.2 L314.4,369.7 L314.8,370.0 L315.2,370.2 L316.0,370.8 L316.8,371.2 L317.0,371.2 L317.6,370.9 L318.4,370.0 L319.2,368.9 L319.2,368.9 L320.0,367.7 L320.8,366.4 L321.4,366.1 L321.6,366.1 L322.4,366.1 L323.2,366.1 L323.6,366.1 L324.0,366.3 L324.8,367.4 L325.6,368.4 L325.8,368.4 L326.4,367.8 L327.2,366.1 L328.0,365.1 L328.0,365.1 L328.8,365.8 L329.6,367.3 L330.2,368.5 L330.4,368.9 L331.2,371.2 L332.0,373.2 L332.4,373.5 L332.8,373.5 L333.6,373.2 L334.4,372.8 L334.6,372.7 L335.2,372.2 L336.0,371.1 L336.8,370.1 L336.8,370.1 L337.6,369.3 L338.4,368.5 L339.0,368.2 L339.2,368.2 L340.0,368.1 L340.8,368.0 L341.2,367.9 L341.6,367.9 L342.4,367.9 L343.2,367.9 L343.4,367.9 L344.0,368.4 L344.8,370.3 L345.6,372.0 L345.6,372.0 L346.4,373.3 L347.2,374.5 L347.8,375.2 L348.0,375.4 L348.8,376.2 L349.6,376.7 L350.0,376.8 L350.4,376.7 L351.2,375.8 L352.0,374.8 L352.2,374.7 L352.8,374.4 L353.6,374.0 L354.4,373.9 L354.4,373.9 L355.2,374.5 L356.0,375.8 L356.6,376.7 L356.8,377.0 L357.6,378.3 L358.4,379.3 L358.8,379.5 L359.2,379.3 L360.0,378.3 L360.8,377.3 L361.0,377.2 L361.6,377.1 L362.4,377.0 L363.2,377.0 L363.2,377.0 L364.0,377.1 L364.8,377.4 L365.4,377.8 L365.6,377.9 L366.4,378.5 L367.2,379.3 L367.6,379.7 L368.0,380.3 L368.8,381.6 L369.6,383.0 L369.8,383.3 L370.4,384.2 L371.2,385.4 L372.0,386.6 L372.0,386.6 L372.8,387.5 L373.6,388.5 L374.2,389.2 L374.4,389.5 L375.2,390.7 L376.0,392.0 L376.4,392.7 L376.8,393.5 L377.6,395.3 L378.4,397.1 L378.6,397.5 L379.2,398.6 L380.0,399.9 L380.8,401.4 L380.8,401.4 L381.6,403.1 L382.4,404.9 L383.0,406.2 L383.2,406.6 L384.0,408.1 L384.8,409.6 L385.2,410.3 L385.6,411.1 L386.4,412.7 L387.2,414.4 L387.4,414.8 L388.0,416.1 L388.8,417.8 L389.6,419.2 L389.6,419.2 L390.4,420.4 L391.2,421.5 L391.8,422.3 L392.0,422.5 L392.8,423.6 L393.6,424.8 L394.0,425.4 L394.4,426.2 L395.2,428.1 L396.0,429.8 L396.2,430.1 L396.8,431.0 L397.6,432.1 L398.4,432.8 L399.0,433.0 L399.2,432.9 L400.0,431.2 L400.8,429.0 L401.5,428.0 L401.6,428.0 L402.4,431.0 L403.0,435.0 L403.2,437.6 L403.6,442.5 L404.0,442.7 L404.8,443.1 L405.6,443.5 L406.4,443.8 L407.2,444.1 L408.0,444.3 L408.8,444.5 L409.6,444.7 L410.4,444.8 L411.2,445.0 L412.0,445.1 L412.8,445.1 L413.6,445.2 L414.4,445.3 L415.2,445.3 L416.0,445.4 L416.8,445.5 L417.6,445.6 L418.4,445.7 L419.2,445.8 L419.4,445.8 L420.0,445.9 L420.8,446.0 L421.6,446.1 L422.4,446.2 L423.2,446.4 L424.0,446.5 L424.8,446.6 L425.6,446.7 L426.4,446.8 L427.2,446.9 L428.0,447.0 L428.8,447.1 L429.6,447.2 L430.0,447.2 L430.4,447.2 L431.2,447.4 L432.0,447.5 L432.8,447.6 L433.6,447.7 L434.4,447.8 L435.2,447.9 L436.0,448.0 L436.8,448.2 L437.6,448.3 L438.4,448.4 L439.2,448.5 L440.0,448.6 L440.8,448.6 L441.6,448.7 L442.4,448.7 L443.2,448.8 L444.0,448.8 L444.4,448.8 L444.8,448.8 L445.6,448.4 L446.4,447.9 L447.2,447.4 L448.0,446.9 L448.7,446.8 L448.8,446.8 L449.6,446.9 L450.4,447.0 L451.2,447.3 L452.0,447.6 L452.8,447.9 L453.6,448.1 L454.4,448.4 L455.0,448.5 L455.2,448.5 L456.0,448.7 L456.8,448.8 L457.6,448.9 L458.4,449.0 L459.2,449.1 L460.0,449.2 L460.8,449.3 L461.6,449.4 L462.4,449.5 L463.2,449.6 L464.0,449.7 L464.8,449.8 L465.6,449.8 L466.4,449.9 L467.2,450.0 L468.0,450.1 L468.8,450.1 L469.4,450.2 L469.6,450.2 L470.4,450.3 L471.2,450.4 L472.0,450.5 L472.8,450.5 L473.6,450.6 L474.4,450.7 L475.2,450.8 L476.0,450.8 L476.8,450.9 L477.6,451.0 L478.4,451.1 L479.2,451.1 L480.0,451.2 L480.8,451.3 L481.6,451.4 L482.4,451.4 L483.2,451.5 L484.0,451.6 L484.8,451.7 L485.6,451.7 L486.4,451.8 L487.2,451.9 L488.0,451.9 L488.8,452.0 L489.6,452.1 L490.4,452.1 L491.2,452.2 L492.0,452.2 L492.8,452.3 L493.6,452.4 L494.4,452.4 L495.2,452.5 L496.0,452.5 L496.8,452.6 L497.6,452.7 L498.4,452.7 L499.2,452.8 L500.0,452.8 L500.8,452.9 L501.6,452.9 L502.4,453.0 L503.2,453.0 L504.0,453.1 L504.5,453.1" stroke="#2ca02c"/>
<path d="M85.2,560.0 L85.7,553.7 L86.0,550.6 L86.8,542.9 L87.6,537.7 L88.4,534.8 L89.2,532.7 L90.0,531.0 L90.8,529.3 L91.5,527.4 L91.6,527.1 L92.4,524.6 L93.2,522.0 L94.0,519.3 L94.8,516.3 L95.6,513.2 L95.9,512.0 L96.4,509.8 L97.2,506.1 L98.0,502.0 L98.8,497.9 L99.6,493.8 L99.8,492.8 L100.4,489.9 L101.2,486.0 L101.6,484.0 L102.0,481.9 L102.8,477.6 L103.6,473.1 L104.4,468.6 L105.2,464.0 L106.0,459.5 L106.8,455.1 L107.3,452.5 L107.6,451.0 L108.4,447.0 L109.2,443.1 L110.0,439.3 L110.8,435.5 L111.6,431.6 L112.4,427.6 L112.6,426.6 L113.2,423.3 L114.0,418.4 L114.8,413.5 L115.6,409.1 L116.4,405.6 L116.6,405.0 L117.2,403.2 L118.0,401.0 L118.8,398.9 L119.6,397.2 L120.4,395.9 L121.2,395.1 L121.7,395.0 L122.0,395.0 L122.8,395.6 L123.6,396.6 L124.4,397.8 L125.2,399.2 L126.0,400.5 L126.8,401.5 L127.3,401.9 L127.6,402.1 L128.4,402.6 L129.2,403.0 L130.0,403.4 L130.8,403.7 L131.6,404.0 L132.4,404.3 L133.2,404.6 L134.0,404.9 L134.8,405.2 L135.2,405.3 L135.6,405.4 L136.4,405.7 L137.2,406.1 L138.0,406.4 L138.8,406.6 L139.6,406.8 L140.4,407.0 L141.0,407.0 L141.2,407.0 L142.0,407.0 L142.8,406.9 L143.6,406.9 L144.4,406.8 L145.2,406.7 L146.0,406.6 L146.8,406.5 L147.6,406.3 L148.4,406.2 L149.2,406.1 L150.0,406.0 L150.0,406.0 L150.8,405.9 L151.6,405.8 L152.4,405.7 L153.2,405.5 L154.0,405.4 L154.8,405.3 L155.6,405.2 L156.4,405.0 L157.2,404.9 L158.0,404.7 L158.8,404.6 L159.6,404.4 L160.4,404.3 L161.2,404.1 L162.0,404.0 L162.8,403.8 L163.6,403.7 L164.4,403.5 L165.2,403.4 L166.0,403.2 L166.8,403.1 L167.6,402.9 L168.4,402.8 L169.2,402.6 L170.0,402.5 L170.8,402.4 L171.6,402.2 L172.4,402.1 L173.2,402.0 L174.0,401.8 L174.8,401.7 L175.0,401.7 L175.6,401.6 L176.4,401.5 L177.2,401.4 L178.0,401.3 L178.8,401.2 L179.6,401.0 L180.4,400.9 L181.2,400.8 L182.0,400.7 L182.8,400.6 L183.6,400.5 L184.4,400.4 L185.2,400.3 L186.0,400.2 L186.8,400.1 L187.6,400.0 L188.4,399.9 L189.2,399.8 L190.0,399.7 L190.8,399.6 L191.6,399.5 L192.4,399.4 L193.2,399.3 L194.0,399.2 L194.8,399.1 L195.6,399.0 L196.4,398.9 L197.2,398.8 L198.0,398.7 L198.8,398.7 L199.6,398.6 L200.4,398.5 L201.2,398.4 L202.0,398.3 L202.8,398.2 L202.9,398.2 L203.6,398.1 L204.4,398.0 L205.2,397.9 L206.0,397.8 L206.8,397.7 L207.6,397.6 L208.4,397.5 L209.2,397.4 L210.0,397.3 L210.8,397.2 L211.6,397.1 L212.4,397.0 L213.2,396.9 L214.0,396.8 L214.8,396.8 L215.6,396.7 L216.4,396.6 L217.2,396.6 L218.0,396.5 L218.8,396.5 L219.6,396.4 L220.4,396.4 L221.2,396.4 L221.5,396.4 L222.0,396.4 L222.8,396.5 L223.6,396.5 L224.4,396.6 L225.0,396.6 L225.2,396.6 L226.0,396.5 L226.8,396.2 L227.6,395.8 L228.4,395.4 L229.2,394.9 L230.0,394.4 L230.8,394.0 L231.6,393.6 L232.4,393.4 L233.2,393.3 L233.2,393.3 L234.0,393.3 L234.8,393.3 L235.6,393.3 L236.4,393.3 L237.2,393.3 L238.0,393.3 L238.8,393.3 L239.6,393.3 L239.8,393.3 L240.4,393.2 L241.2,392.6 L242.0,391.8 L242.8,390.6 L243.6,389.3 L244.4,387.9 L245.2,386.4 L246.0,385.0 L246.4,384.3 L246.8,383.6 L247.6,382.1 L248.4,380.3 L249.2,378.6 L250.0,376.8 L250.8,375.1 L251.6,373.6 L252.1,372.8 L252.4,372.4 L253.2,371.2 L254.0,370.1 L254.8,369.2 L255.6,368.4 L256.2,367.9 L256.4,367.8 L257.2,367.2 L258.0,366.8 L258.8,366.3 L259.6,366.0 L260.4,365.6 L261.2,365.4 L262.0,365.1 L262.0,365.1 L262.8,364.9 L263.6,364.8 L264.2,364.7 L264.4,364.7 L265.2,364.8 L266.0,365.0 L266.4,365.0 L266.8,365.1 L267.6,365.4 L268.4,365.7 L268.6,365.8 L269.2,366.2 L270.0,366.8 L270.8,367.4 L270.8,367.4 L271.6,367.9 L272.4,368.4 L273.0,368.9 L273.2,369.1 L274.0,370.0 L274.8,371.0 L275.2,371.5 L275.6,371.9 L276.4,372.8 L277.2,373.4 L277.4,373.4 L278.0,373.4 L278.8,373.2 L279.6,373.1 L279.6,373.1 L280.4,373.0 L281.2,373.0 L281.8,373.0 L282.0,373.0 L282.8,372.7 L283.6,372.4 L284.0,372.3 L284.4,372.2 L285.2,372.1 L286.0,372.1 L286.2,372.1 L286.8,372.1 L287.6,372.1 L288.4,372.2 L288.4,372.2 L289.2,372.5 L290.0,373.2 L290.6,373.6 L290.8,373.7 L291.6,374.2 L292.4,374.6 L292.8,374.8 L293.2,374.9 L294.0,375.1 L294.8,375.3 L295.0,375.3 L295.6,375.5 L296.4,375.8 L297.2,376.0 L297.2,376.0 L298.0,375.8 L298.8,375.5 L299.4,375.3 L299.6,375.4 L300.4,375.9 L301.2,376.6 L301.6,376.7 L302.0,376.7 L302.8,376.6 L303.6,376.4 L303.8,376.4 L304.4,376.1 L305.2,375.6 L306.0,375.3 L306.0,375.3 L306.8,375.2 L307.6,375.2 L308.2,375.1 L308.4,375.1 L309.2,374.4 L310.0,373.7 L310.4,373.6 L310.8,373.6 L311.6,373.8 L312.4,373.9 L312.6,373.9 L313.2,374.0 L314.0,374.0 L314.8,374.1 L314.8,374.1 L315.6,374.4 L316.4,374.8 L317.0,374.9 L317.2,374.9 L318.0,374.5 L318.8,373.8 L319.2,373.5 L319.6,373.1 L320.4,372.2 L321.2,371.5 L321.4,371.5 L322.0,371.5 L322.8,371.6 L323.6,371.6 L323.6,371.6 L324.4,371.8 L325.2,372.1 L325.8,372.4 L326.0,372.5 L326.8,372.8 L327.6,373.3 L328.0,373.5 L328.4,373.9 L329.2,375.1 L330.0,376.0 L330.2,376.1 L330.8,376.4 L331.6,376.6 L332.4,376.7 L332.4,376.7 L333.2,376.6 L334.0,376.2 L334.6,376.0 L334.8,375.9 L335.6,375.3 L336.4,374.7 L336.8,374.4 L337.2,374.1 L338.0,373.4 L338.8,373.0 L339.0,373.0 L339.6,373.0 L340.4,373.2 L341.2,373.5 L341.2,373.5 L342.0,374.1 L342.8,374.9 L343.4,375.2 L343.6,375.1 L344.4,375.0 L345.2,374.8 L345.6,374.8 L346.0,375.0 L346.8,376.1 L347.6,377.5 L347.8,377.8 L348.4,378.5 L349.2,379.4 L350.0,379.8 L350.0,379.8 L350.8,379.7 L351.6,379.6 L352.2,379.6 L352.4,379.6 L353.2,379.7 L354.0,379.8 L354.4,379.8 L354.8,379.7 L355.6,379.4 L356.4,379.1 L356.6,379.1 L357.2,379.4 L358.0,380.1 L358.8,380.9 L358.8,380.9 L359.6,381.4 L360.4,381.9 L361.0,382.0 L361.2,382.0 L362.0,381.8 L362.8,381.7 L363.2,381.6 L363.6,381.6 L364.4,381.7 L365.2,381.7 L365.4,381.8 L366.0,382.0 L366.8,382.8 L367.6,383.7 L367.6,383.7 L368.4,384.6 L369.2,385.6 L369.8,386.5 L370.0,386.8 L370.8,388.0 L371.6,389.4 L372.0,390.0 L372.4,390.7 L373.2,392.0 L374.0,393.4 L374.2,393.7 L374.8,394.8 L375.6,396.2 L376.4,397.7 L376.4,397.7 L377.2,399.2 L378.0,400.8 L378.6,402.0 L378.8,402.3 L379.6,403.8 L380.4,405.2 L380.8,405.9 L381.2,406.7 L382.0,408.5 L382.8,410.1 L383.0,410.5 L383.6,411.5 L384.4,412.6 L385.2,413.8 L385.2,413.8 L386.0,415.4 L386.8,417.2 L387.4,418.5 L387.6,418.9 L388.4,421.0 L389.2,422.6 L389.6,422.9 L390.0,422.8 L390.8,422.1 L391.6,421.4 L391.8,421.3 L392.4,420.9 L393.2,420.5 L394.0,420.3 L394.0,420.3 L394.8,421.6 L395.6,424.2 L396.2,425.8 L396.4,426.2 L397.2,428.0 L398.0,429.8 L398.8,431.1 L399.6,431.6 L399.6,431.6 L400.4,429.2 L401.2,425.4 L401.6,424.7 L402.0,426.6 L402.6,436.0 L402.8,451.6 L403.0,465.2 L403.6,465.8 L404.4,466.1 L404.6,466.2 L405.2,466.6 L406.0,467.1 L406.8,467.7 L407.6,468.2 L408.4,468.6 L409.2,469.0 L409.5,469.1 L410.0,469.3 L410.8,469.5 L411.6,469.7 L412.4,469.9 L413.2,470.1 L414.0,470.3 L414.8,470.4 L415.6,470.6 L416.4,470.7 L417.2,470.9 L418.0,471.0 L418.8,471.1 L419.6,471.2 L420.4,471.4 L421.2,471.5 L422.0,471.6 L422.8,471.7 L423.6,471.8 L424.4,471.9 L425.2,472.0 L426.0,472.2 L426.8,472.3 L427.6,472.4 L428.4,472.5 L429.2,472.7 L429.3,472.7 L430.0,472.8 L430.8,473.0 L431.6,473.2 L432.4,473.3 L433.2,473.5 L434.0,473.7 L434.8,473.9 L435.6,474.1 L436.4,474.2 L437.2,474.4 L438.0,474.6 L438.8,474.8 L439.6,475.0 L440.4,475.2 L441.2,475.3 L442.0,475.5 L442.8,475.7 L443.6,475.8 L444.4,475.9 L445.2,476.1 L446.0,476.2 L446.8,476.3 L447.6,476.4 L448.4,476.5 L449.2,476.5 L450.0,476.6 L450.0,476.6 L450.8,476.6 L451.6,476.7 L452.4,476.7 L453.2,476.7 L454.0,476.8 L454.8,476.8 L455.6,476.8 L456.4,476.8 L457.2,476.9 L458.0,476.9 L458.8,476.9 L459.6,476.9 L460.4,476.9 L461.2,477.0 L462.0,477.0 L462.8,477.0 L463.6,477.0 L464.4,477.0 L465.2,477.1 L466.0,477.1 L466.8,477.1 L467.6,477.1 L468.4,477.2 L469.2,477.2 L469.4,477.2 L470.0,477.2 L470.8,477.3 L471.6,477.3 L472.4,477.3 L473.2,477.4 L474.0,477.4 L474.8,477.5 L475.6,477.5 L476.4,477.6 L477.2,477.6 L478.0,477.7 L478.8,477.7 L479.6,477.8 L480.4,477.8 L481.2,477.9 L482.0,477.9 L482.8,478.0 L483.6,478.1 L484.4,478.1 L485.2,478.2 L486.0,478.3 L486.8,478.3 L487.6,478.4 L488.4,478.5 L489.2,478.5 L490.0,478.6 L490.8,478.7 L491.6,478.7 L492.4,478.8 L493.2,478.9 L494.0,479.0 L494.8,479.1 L495.6,479.1 L496.4,479.2 L497.2,479.3 L498.0,479.4 L498.8,479.5 L499.6,479.6 L500.4,479.6 L501.2,479.7 L502.0,479.8 L502.8,479.9 L503.6,480.0 L504.4,480.1 L504.5,480.1" stroke="#d62728"/>
<line x1="92.7" y1="509.5" x2="92.7" y2="556.9" stroke="#d62728"/>
<path d="M88.3,560.0 L88.6,554.0 L89.1,549.4 L89.9,544.4 L90.7,540.8 L91.3,538.0 L91.5,537.0 L92.3,533.2 L93.1,529.6 L93.9,526.2 L94.7,522.7 L95.3,520.0 L95.5,519.1 L96.3,515.2 L97.1,511.3 L97.9,507.4 L98.7,503.5 L98.8,503.0 L99.5,499.7 L100.3,496.1 L101.1,492.4 L101.9,488.5 L102.0,488.0 L102.7,484.4 L103.5,480.0 L104.3,475.6 L105.1,471.0 L105.9,466.5 L106.7,462.1 L107.5,458.0 L107.5,458.0 L108.3,454.1 L109.1,450.2 L109.9,446.5 L110.7,442.9 L111.5,439.2 L112.3,435.7 L113.1,432.1 L113.9,428.5 L114.0,428.0 L114.7,424.7 L115.5,420.8 L116.3,417.0 L117.1,413.4 L117.9,410.3 L118.0,410.0 L118.7,407.5 L119.5,404.6 L120.3,402.1 L121.1,400.4 L121.7,400.0 L121.9,400.0 L122.7,400.2 L123.5,400.7 L124.3,401.4 L125.1,402.2 L125.9,403.1 L126.7,403.9 L127.5,404.7 L128.3,405.4 L129.1,405.9 L129.2,405.9 L129.9,406.2 L130.7,406.5 L131.5,406.8 L132.3,407.1 L133.1,407.3 L133.9,407.6 L134.7,407.8 L135.5,408.0 L136.3,408.2 L137.1,408.3 L137.9,408.5 L138.7,408.6 L139.5,408.7 L140.0,408.7 L140.3,408.7 L141.1,408.8 L141.9,408.8 L142.7,408.9 L143.5,408.9 L144.3,408.9 L145.1,409.0 L145.9,409.0 L146.7,409.1 L147.5,409.1 L148.3,409.1 L149.1,409.1 L149.9,409.2 L150.7,409.2 L151.5,409.2 L152.3,409.2 L153.1,409.3 L153.9,409.3 L154.7,409.3 L155.5,409.3 L156.3,409.3 L157.1,409.4 L157.9,409.4 L158.7,409.4 L159.5,409.4 L160.3,409.4 L161.1,409.4 L161.9,409.5 L162.7,409.5 L163.0,409.5 L163.5,409.5 L164.3,409.5 L165.1,409.6 L165.9,409.6 L166.7,409.6 L167.5,409.6 L168.3,409.7 L169.1,409.7 L169.9,409.7 L170.7,409.7 L171.5,409.8 L172.3,409.8 L173.1,409.8 L173.9,409.8 L174.7,409.8 L175.5,409.9 L176.3,409.9 L177.1,409.9 L177.9,409.9 L178.7,410.0 L179.5,410.0 L180.3,410.0 L181.1,410.0 L181.9,410.1 L182.7,410.1 L183.5,410.1 L184.3,410.1 L185.1,410.1 L185.9,410.2 L186.7,410.2 L187.5,410.2 L188.3,410.2 L189.1,410.2 L189.9,410.3 L190.7,410.3 L191.5,410.3 L192.3,410.3 L193.1,410.3 L193.9,410.3 L194.7,410.3 L195.5,410.3 L196.3,410.4 L197.1,410.4 L197.9,410.4 L198.7,410.4 L199.5,410.4 L200.3,410.4 L201.1,410.4 L201.9,410.4 L202.7,410.4 L202.9,410.4 L203.5,410.4 L204.3,410.4 L205.1,410.4 L205.9,410.4 L206.7,410.4 L207.5,410.4 L208.3,410.4 L209.1,410.3 L209.9,410.3 L210.7,410.3 L211.5,410.3 L212.3,410.3 L213.1,410.2 L213.9,410.2 L214.7,410.2 L215.5,410.1 L216.3,410.1 L217.1,410.1 L217.9,410.0 L218.7,410.0 L219.5,409.9 L220.3,409.9 L221.1,409.8 L221.9,409.8 L222.7,409.7 L223.5,409.6 L224.3,409.6 L225.1,409.5 L225.9,409.4 L226.2,409.4 L226.7,409.3 L227.5,408.9 L228.3,408.3 L229.1,407.6 L229.9,406.7 L230.7,405.6 L231.5,404.5 L232.3,403.4 L233.1,402.3 L233.9,401.2 L234.7,400.1 L234.9,399.9 L235.5,399.1 L236.3,398.0 L237.1,396.8 L237.9,396.0 L238.1,395.8 L238.7,395.4 L239.5,395.0 L240.3,394.7 L241.1,394.4 L241.9,394.0 L242.7,393.6 L243.1,393.3 L243.5,393.0 L244.3,392.1 L245.1,391.0 L245.9,389.6 L246.7,388.2 L247.5,386.7 L248.3,385.1 L249.1,383.5 L249.6,382.6 L249.9,382.0 L250.7,380.1 L251.5,377.9 L252.3,375.7 L253.1,373.5 L253.9,371.8 L254.7,370.7 L255.4,370.3 L255.5,370.3 L256.3,370.4 L257.1,370.5 L257.9,370.5 L258.0,370.5 L258.7,369.9 L259.5,368.4 L260.2,367.7 L260.3,367.6 L261.1,367.5 L261.9,367.5 L262.4,367.5 L262.7,367.5 L263.5,367.6 L264.3,367.7 L264.6,367.8 L265.1,367.6 L265.9,366.9 L266.7,366.5 L266.8,366.5 L267.5,366.6 L268.3,367.1 L269.0,367.6 L269.1,367.7 L269.9,368.5 L270.7,369.4 L271.2,369.7 L271.5,369.8 L272.3,369.9 L273.1,370.0 L273.4,370.1 L273.9,370.7 L274.7,372.5 L275.5,374.0 L275.6,374.1 L276.3,374.4 L277.1,374.7 L277.8,374.8 L277.9,374.8 L278.7,374.6 L279.5,374.3 L280.0,374.3 L280.3,374.3 L281.1,374.3 L281.9,374.3 L282.2,374.3 L282.7,374.4 L283.5,374.5 L284.3,374.6 L284.4,374.6 L285.1,374.5 L285.9,374.1 L286.6,374.0 L286.7,374.0 L287.5,374.3 L288.3,374.7 L288.8,374.8 L289.1,374.7 L289.9,374.5 L290.7,374.3 L291.0,374.3 L291.5,374.6 L292.3,375.8 L293.1,376.7 L293.2,376.7 L293.9,376.7 L294.7,376.7 L295.4,376.8 L295.5,376.8 L296.3,377.0 L297.1,377.3 L297.6,377.4 L297.9,377.3 L298.7,376.7 L299.5,376.1 L299.8,376.0 L300.3,376.5 L301.1,378.1 L301.9,379.3 L302.0,379.3 L302.7,379.1 L303.5,378.6 L304.2,378.2 L304.3,378.1 L305.1,377.7 L305.9,377.2 L306.4,377.1 L306.7,377.2 L307.5,377.9 L308.3,378.5 L308.6,378.6 L309.1,378.3 L309.9,377.1 L310.7,375.9 L310.8,375.8 L311.5,375.2 L312.3,374.6 L313.0,374.3 L313.1,374.4 L313.9,374.8 L314.7,375.3 L315.2,375.5 L315.5,375.4 L316.3,374.5 L317.1,373.7 L317.4,373.6 L317.9,373.8 L318.7,374.8 L319.5,375.5 L319.6,375.5 L320.3,374.9 L321.1,373.6 L321.8,372.9 L321.9,372.9 L322.7,372.7 L323.5,372.6 L324.0,372.6 L324.3,372.8 L325.1,374.1 L325.9,375.4 L326.2,375.6 L326.7,375.4 L327.5,374.9 L328.3,374.5 L328.4,374.5 L329.1,375.3 L329.9,377.2 L330.6,378.0 L330.7,378.0 L331.5,377.4 L332.3,376.7 L332.8,376.5 L333.1,376.5 L333.9,376.8 L334.7,377.1 L335.0,377.1 L335.5,376.9 L336.3,376.1 L337.1,375.5 L337.2,375.5 L337.9,375.8 L338.7,376.4 L339.4,376.8 L339.5,376.9 L340.3,377.4 L341.1,377.7 L341.6,377.8 L341.9,377.8 L342.7,377.2 L343.5,376.6 L343.8,376.5 L344.3,376.7 L345.1,377.5 L345.9,378.4 L346.0,378.5 L346.7,379.0 L347.5,379.6 L348.2,380.2 L348.3,380.3 L349.1,381.6 L349.9,382.8 L350.4,383.1 L350.7,383.0 L351.5,382.4 L352.3,381.5 L352.6,381.3 L353.1,380.9 L353.9,380.2 L354.7,379.8 L354.8,379.8 L355.5,379.8 L356.3,379.8 L357.0,379.9 L357.1,379.9 L357.9,381.1 L358.7,383.1 L359.2,384.0 L359.5,384.5 L360.3,385.7 L361.1,386.5 L361.4,386.6 L361.9,386.3 L362.7,385.4 L363.5,384.8 L363.6,384.8 L364.3,384.8 L365.1,384.9 L365.8,385.0 L365.9,385.0 L366.7,386.5 L367.5,388.7 L368.0,389.4 L368.3,389.6 L369.1,389.8 L369.9,390.0 L370.2,390.2 L370.7,390.6 L371.5,391.8 L372.3,393.1 L372.4,393.2 L373.1,394.3 L373.9,395.6 L374.6,396.9 L374.7,397.0 L375.5,398.5 L376.3,400.0 L376.8,401.0 L377.1,401.6 L377.9,403.3 L378.7,404.9 L379.0,405.5 L379.5,406.3 L380.3,407.5 L381.1,408.9 L381.2,409.1 L381.9,411.0 L382.7,413.5 L383.4,415.2 L383.5,415.3 L384.3,416.4 L385.1,417.3 L385.6,418.0 L385.9,418.6 L386.7,420.5 L387.5,422.4 L387.8,422.9 L388.3,423.7 L389.1,424.9 L389.9,425.6 L390.0,425.6 L390.7,425.2 L391.5,424.4 L392.2,424.0 L392.3,424.0 L393.1,424.8 L393.9,426.3 L394.4,427.4 L394.7,428.2 L395.5,431.3 L396.3,434.1 L396.6,434.7 L397.1,435.2 L397.9,435.8 L398.7,436.1 L398.8,436.1 L399.5,435.3 L400.3,433.4 L401.0,432.5 L401.1,432.6 L401.9,437.3 L402.6,445.6 L402.7,447.5 L403.5,475.2 L403.6,476.0 L404.3,476.2 L405.1,476.5 L405.9,476.7 L406.7,476.9 L407.5,477.1 L408.3,477.2 L409.1,477.4 L409.9,477.5 L410.7,477.6 L411.5,477.7 L412.3,477.8 L413.1,477.9 L413.9,478.0 L414.7,478.1 L415.5,478.1 L416.3,478.2 L417.1,478.2 L417.9,478.3 L418.7,478.3 L419.5,478.3 L420.3,478.4 L421.1,478.4 L421.9,478.4 L422.7,478.5 L423.5,478.5 L424.3,478.6 L425.1,478.6 L425.9,478.7 L426.7,478.7 L427.5,478.8 L428.3,478.9 L429.1,479.0 L429.3,479.0 L429.9,479.1 L430.7,479.2 L431.5,479.3 L432.3,479.4 L433.1,479.6 L433.9,479.7 L434.7,479.8 L435.5,480.0 L436.3,480.1 L437.1,480.2 L437.9,480.4 L438.7,480.5 L439.5,480.6 L440.3,480.7 L441.1,480.8 L441.9,480.9 L442.7,480.9 L443.5,481.0 L444.3,481.0 L445.1,481.0 L445.1,481.0 L445.9,480.7 L446.7,480.0 L447.5,479.3 L448.0,479.2 L448.3,479.3 L449.1,479.9 L449.9,480.6 L450.0,480.6 L450.7,480.8 L451.5,480.9 L452.3,481.1 L453.1,481.2 L453.9,481.3 L454.7,481.5 L455.5,481.6 L456.3,481.7 L457.1,481.8 L457.9,481.8 L458.7,481.9 L459.5,482.0 L460.3,482.1 L461.1,482.1 L461.9,482.2 L462.7,482.2 L463.5,482.3 L464.3,482.3 L465.1,482.4 L465.9,482.4 L466.7,482.5 L467.5,482.6 L468.3,482.6 L469.1,482.7 L469.4,482.7 L469.9,482.7 L470.7,482.8 L471.5,482.9 L472.3,482.9 L473.1,483.0 L473.9,483.1 L474.7,483.1 L475.5,483.2 L476.3,483.3 L477.1,483.3 L477.9,483.4 L478.7,483.5 L479.5,483.5 L480.3,483.6 L481.1,483.7 L481.9,483.7 L482.7,483.8 L483.5,483.8 L484.3,483.9 L485.1,484.0 L485.9,484.0 L486.7,484.1 L487.5,484.1 L488.3,484.2 L489.1,484.2 L489.9,484.3 L490.7,484.3 L491.5,484.4 L492.3,484.4 L493.1,484.5 L493.9,484.5 L494.7,484.6 L495.5,484.6 L496.3,484.7 L497.1,484.7 L497.9,484.8 L498.7,484.8 L499.5,484.9 L500.3,484.9 L501.1,484.9 L501.9,485.0 L502.7,485.0 L503.5,485.1 L504.3,485.1 L504.5,485.1" stroke="#9467bd"/>
<line x1="92.7" y1="512.5" x2="92.7" y2="556.9" stroke="#9467bd"/>
<path d="M84.0,560.0 L84.2,470.0 L84.8,445.1 L85.6,432.6 L85.9,430.5 L86.4,427.4 L87.2,423.2 L88.0,420.0 L88.8,417.6 L89.6,415.6 L90.4,413.8 L91.2,412.2 L91.8,410.8 L92.0,410.3 L92.8,408.4 L93.6,406.6 L94.4,404.9 L95.2,403.3 L96.0,401.7 L96.8,400.2 L97.6,398.8 L98.4,397.5 L99.2,396.2 L100.0,395.1 L100.8,394.0 L101.6,393.1 L101.6,393.1 L102.4,392.2 L103.2,391.3 L104.0,390.4 L104.8,389.5 L105.6,388.7 L106.4,388.0 L107.2,387.4 L108.0,387.0 L108.8,386.7 L109.5,386.6 L109.6,386.6 L110.4,386.8 L111.2,387.1 L112.0,387.6 L112.8,388.1 L113.6,388.7 L114.4,389.1 L115.2,389.4 L115.4,389.5 L116.0,389.6 L116.8,389.8 L117.6,389.9 L118.4,390.1 L119.2,390.2 L120.0,390.3 L120.8,390.4 L121.6,390.5 L122.4,390.6 L123.2,390.7 L124.0,390.8 L124.8,390.9 L125.6,391.0 L126.4,391.1 L127.2,391.1 L128.0,391.2 L128.8,391.3 L129.6,391.3 L130.4,391.4 L131.2,391.5 L131.2,391.5 L132.0,391.6 L132.8,391.6 L133.6,391.7 L134.4,391.8 L135.2,391.8 L136.0,391.9 L136.8,392.0 L137.6,392.0 L138.4,392.1 L139.2,392.1 L140.0,392.2 L140.8,392.3 L141.6,392.3 L142.4,392.4 L143.2,392.4 L144.0,392.5 L144.8,392.6 L145.6,392.7 L146.0,392.7 L146.4,392.7 L147.2,392.8 L148.0,392.9 L148.8,393.0 L149.6,393.1 L150.4,393.2 L151.2,393.3 L152.0,393.4 L152.8,393.5 L153.6,393.6 L154.4,393.7 L155.2,393.8 L156.0,393.9 L156.8,394.0 L157.6,394.2 L158.4,394.3 L159.2,394.4 L160.0,394.5 L160.8,394.6 L161.6,394.8 L162.4,394.9 L163.2,395.0 L164.0,395.1 L164.8,395.2 L165.6,395.3 L166.4,395.5 L167.2,395.6 L168.0,395.7 L168.8,395.8 L169.6,395.9 L170.4,396.0 L171.2,396.1 L172.0,396.2 L172.8,396.3 L173.6,396.4 L174.4,396.5 L175.0,396.6 L175.2,396.6 L176.0,396.7 L176.8,396.8 L177.6,396.9 L178.4,397.0 L179.2,397.1 L180.0,397.1 L180.8,397.2 L181.6,397.3 L182.4,397.4 L183.2,397.5 L184.0,397.5 L184.8,397.6 L185.6,397.7 L186.4,397.8 L187.2,397.8 L188.0,397.9 L188.8,398.0 L189.6,398.1 L190.4,398.1 L191.2,398.2 L192.0,398.3 L192.8,398.4 L193.6,398.4 L194.4,398.5 L195.2,398.6 L196.0,398.7 L196.8,398.7 L197.6,398.8 L198.4,398.9 L199.2,399.0 L200.0,399.1 L200.8,399.2 L201.6,399.3 L202.4,399.3 L202.9,399.4 L203.2,399.4 L204.0,399.5 L204.8,399.6 L205.6,399.7 L206.4,399.8 L207.2,399.9 L208.0,400.0 L208.8,400.1 L209.6,400.3 L210.4,400.4 L211.2,400.5 L212.0,400.6 L212.8,400.7 L213.6,400.8 L214.4,400.9 L215.2,401.0 L216.0,401.2 L216.8,401.3 L217.6,401.4 L218.4,401.5 L219.2,401.6 L220.0,401.7 L220.8,401.8 L221.6,401.9 L222.4,402.1 L223.2,402.2 L224.0,402.3 L224.8,402.4 L225.0,402.4 L225.6,402.5 L226.4,402.6 L227.2,402.7 L228.0,402.9 L228.8,403.0 L229.6,403.1 L230.4,403.2 L231.2,403.3 L232.0,403.4 L232.8,403.4 L233.2,403.4 L233.6,403.4 L234.4,403.3 L235.2,403.2 L236.0,403.0 L236.0,403.0 L236.8,402.0 L237.6,400.5 L237.9,400.1 L238.4,399.7 L239.2,399.2 L240.0,398.7 L240.8,398.2 L241.0,398.0 L241.6,397.4 L242.4,396.3 L243.2,395.0 L244.0,393.6 L244.8,392.2 L245.6,390.7 L246.0,390.0 L246.4,389.3 L247.2,387.7 L248.0,386.1 L248.8,384.4 L249.6,382.7 L250.4,381.0 L251.2,379.5 L252.0,378.0 L252.0,378.0 L252.8,376.6 L253.6,375.3 L254.4,374.0 L255.2,372.8 L256.0,371.7 L256.2,371.5 L256.8,370.8 L257.6,370.0 L258.0,369.7 L258.4,369.6 L259.2,369.3 L260.0,369.1 L260.2,369.1 L260.8,369.1 L261.6,369.3 L262.4,369.4 L262.4,369.4 L263.2,369.1 L264.0,368.7 L264.6,368.5 L264.8,368.6 L265.6,369.5 L266.4,370.6 L266.8,370.7 L267.2,370.6 L268.0,369.9 L268.8,369.4 L269.0,369.3 L269.6,369.7 L270.4,370.8 L271.2,372.1 L271.2,372.1 L272.0,373.5 L272.8,375.0 L273.4,375.7 L273.6,375.8 L274.4,376.4 L275.2,376.7 L275.6,376.7 L276.0,376.6 L276.8,376.2 L277.6,375.9 L277.8,375.9 L278.4,376.0 L279.2,376.5 L280.0,376.9 L280.0,376.9 L280.8,377.0 L281.6,377.1 L282.2,377.1 L282.4,377.1 L283.2,376.8 L284.0,376.3 L284.4,376.1 L284.8,375.8 L285.6,375.2 L286.4,374.7 L286.6,374.7 L287.2,375.2 L288.0,376.6 L288.8,377.7 L288.8,377.7 L289.6,378.2 L290.4,378.5 L291.0,378.6 L291.2,378.6 L292.0,378.7 L292.8,378.7 L293.2,378.7 L293.6,378.7 L294.4,378.3 L295.2,378.0 L295.4,378.0 L296.0,378.2 L296.8,378.8 L297.6,379.2 L297.6,379.2 L298.4,379.2 L299.2,379.2 L299.8,379.2 L300.0,379.2 L300.8,379.3 L301.6,379.6 L302.0,379.8 L302.4,380.0 L303.2,380.9 L304.0,381.6 L304.2,381.6 L304.8,381.6 L305.6,381.5 L306.4,381.3 L306.4,381.3 L307.2,380.8 L308.0,380.1 L308.6,379.6 L308.8,379.5 L309.6,379.1 L310.4,378.8 L310.8,378.7 L311.2,378.6 L312.0,378.6 L312.8,378.6 L313.0,378.6 L313.6,378.4 L314.4,378.1 L315.2,377.8 L315.2,377.8 L316.0,377.7 L316.8,377.6 L317.4,377.5 L317.6,377.4 L318.4,376.7 L319.2,376.0 L319.6,375.7 L320.0,375.6 L320.8,375.3 L321.6,375.1 L321.8,375.1 L322.4,375.5 L323.2,376.7 L324.0,377.4 L324.0,377.4 L324.8,377.4 L325.6,377.4 L326.2,377.4 L326.4,377.4 L327.2,377.6 L328.0,378.0 L328.4,378.2 L328.8,378.4 L329.6,378.9 L330.4,379.3 L330.6,379.3 L331.2,379.4 L332.0,379.4 L332.8,379.5 L332.8,379.5 L333.6,379.8 L334.4,380.2 L335.0,380.4 L335.2,380.3 L336.0,380.1 L336.8,379.6 L337.2,379.4 L337.6,378.9 L338.4,377.4 L339.2,376.3 L339.4,376.2 L340.0,376.7 L340.8,378.1 L341.6,378.9 L341.6,378.9 L342.4,378.8 L343.2,378.8 L343.8,378.7 L344.0,378.8 L344.8,379.7 L345.6,381.1 L346.0,381.6 L346.4,381.9 L347.2,382.4 L348.0,383.0 L348.2,383.2 L348.8,384.2 L349.6,386.0 L350.4,386.9 L350.4,386.9 L351.2,386.2 L352.0,384.8 L352.6,384.2 L352.8,384.2 L353.6,384.0 L354.4,383.8 L354.8,383.8 L355.2,383.9 L356.0,384.2 L356.8,384.6 L357.0,384.7 L357.6,385.4 L358.4,386.7 L359.2,387.4 L359.2,387.4 L360.0,387.6 L360.8,387.7 L361.4,387.8 L361.6,387.7 L362.4,387.1 L363.2,386.4 L363.6,386.3 L364.0,386.4 L364.8,387.3 L365.6,388.4 L365.8,388.6 L366.4,389.1 L367.2,389.8 L368.0,390.5 L368.0,390.5 L368.8,391.1 L369.6,391.8 L370.2,392.4 L370.4,392.6 L371.2,393.4 L372.0,394.5 L372.4,395.2 L372.8,396.0 L373.6,398.5 L374.4,400.8 L374.6,401.1 L375.2,402.0 L376.0,402.8 L376.8,403.8 L376.8,403.8 L377.6,405.2 L378.4,406.9 L379.0,408.3 L379.2,408.8 L380.0,411.2 L380.8,413.7 L381.2,414.7 L381.6,415.6 L382.4,417.2 L383.2,418.6 L383.4,418.9 L384.0,419.7 L384.8,420.6 L385.6,421.6 L385.6,421.6 L386.4,423.0 L387.2,424.7 L387.8,425.9 L388.0,426.3 L388.8,428.1 L389.6,429.7 L390.0,430.3 L390.4,430.7 L391.2,431.3 L392.0,431.8 L392.2,432.0 L392.8,432.5 L393.6,433.3 L394.4,434.4 L394.4,434.4 L395.2,436.1 L396.0,438.4 L396.6,439.8 L396.8,440.1 L397.6,441.6 L398.4,442.7 L398.8,442.8 L399.2,442.6 L400.0,441.6 L400.8,440.7 L401.0,440.6 L401.6,442.3 L402.4,447.5 L402.6,448.9 L403.2,455.0 L404.0,464.8 L404.6,468.1 L404.8,468.1 L405.6,468.0 L406.4,467.9 L407.2,467.7 L408.0,467.4 L408.8,467.1 L409.6,466.8 L410.4,466.5 L411.2,466.2 L412.0,465.9 L412.8,465.6 L413.6,465.4 L414.4,465.3 L415.2,465.2 L415.4,465.2 L416.0,465.2 L416.8,465.3 L417.6,465.3 L418.4,465.4 L419.2,465.6 L420.0,465.7 L420.8,465.9 L421.6,466.1 L422.4,466.3 L423.2,466.5 L424.0,466.7 L424.8,466.9 L425.6,467.2 L426.4,467.4 L427.2,467.6 L428.0,467.8 L428.8,468.0 L429.3,468.1 L429.6,468.2 L430.4,468.4 L431.2,468.6 L432.0,468.8 L432.8,469.0 L433.6,469.2 L434.4,469.4 L435.2,469.7 L436.0,469.9 L436.8,470.1 L437.6,470.3 L438.4,470.5 L439.2,470.7 L440.0,470.9 L440.8,471.0 L441.6,471.1 L442.4,471.2 L443.2,471.3 L444.0,471.3 L444.1,471.3 L444.8,470.6 L445.6,468.7 L446.4,466.3 L447.2,464.5 L447.8,464.0 L448.0,464.0 L448.8,464.2 L449.6,464.6 L450.4,465.1 L451.2,465.6 L451.7,465.9 L452.0,466.1 L452.8,466.5 L453.6,466.9 L454.4,467.4 L455.2,467.8 L456.0,468.3 L456.8,468.8 L457.6,469.2 L458.4,469.6 L459.2,470.0 L460.0,470.4 L460.8,470.7 L461.6,470.9 L461.6,470.9 L462.4,471.1 L463.2,471.3 L464.0,471.5 L464.8,471.7 L465.6,471.8 L466.4,472.0 L467.2,472.2 L468.0,472.3 L468.8,472.5 L469.6,472.6 L470.4,472.7 L471.2,472.9 L472.0,473.0 L472.8,473.1 L473.6,473.2 L474.4,473.3 L475.2,473.4 L476.0,473.5 L476.8,473.6 L477.6,473.6 L478.4,473.7 L479.2,473.8 L479.3,473.8 L480.0,473.9 L480.8,473.9 L481.6,474.0 L482.4,474.1 L483.2,474.1 L484.0,474.2 L484.8,474.3 L485.6,474.3 L486.4,474.4 L487.2,474.4 L488.0,474.5 L488.8,474.6 L489.6,474.6 L490.4,474.7 L491.2,474.7 L492.0,474.8 L492.8,474.8 L493.6,474.9 L494.4,474.9 L495.2,475.0 L496.0,475.0 L496.8,475.0 L497.6,475.1 L498.4,475.1 L499.2,475.1 L500.0,475.1 L500.8,475.2 L501.6,475.2 L502.4,475.2 L503.2,475.2 L504.0,475.2 L504.5,475.2" stroke="#8c564b"/>
<path d="M89.2,560.0 L89.5,554.0 L90.0,549.2 L90.8,543.9 L91.6,540.0 L92.1,537.7 L92.4,536.3 L93.2,532.8 L94.0,529.8 L94.8,526.8 L95.6,523.6 L95.9,522.3 L96.4,520.0 L97.2,516.0 L98.0,511.8 L98.8,507.6 L99.2,505.6 L99.6,503.6 L100.4,499.8 L101.2,495.9 L102.0,492.0 L102.6,489.0 L102.8,488.0 L103.6,483.7 L104.4,479.3 L105.2,474.9 L106.0,470.4 L106.8,466.1 L107.6,462.0 L108.0,460.0 L108.4,458.1 L109.2,454.5 L110.0,451.0 L110.8,447.7 L111.6,444.4 L112.4,441.1 L113.2,437.8 L114.0,434.4 L114.8,430.9 L115.0,430.0 L115.6,427.1 L116.4,422.8 L117.2,418.6 L118.0,414.8 L118.5,413.0 L118.8,412.0 L119.6,409.3 L120.4,407.1 L121.2,406.0 L121.4,405.9 L122.0,406.0 L122.8,406.3 L123.6,406.9 L124.4,407.5 L125.2,408.1 L126.0,408.6 L126.8,409.0 L127.0,409.0 L127.6,409.1 L128.4,409.2 L129.2,409.3 L130.0,409.4 L130.8,409.5 L131.6,409.6 L132.4,409.7 L133.2,409.8 L134.0,409.9 L134.8,409.9 L135.6,410.0 L136.4,410.1 L137.2,410.1 L138.0,410.2 L138.8,410.2 L139.6,410.2 L140.4,410.3 L141.2,410.3 L142.0,410.3 L142.8,410.4 L143.6,410.4 L144.4,410.4 L145.2,410.4 L146.0,410.4 L146.0,410.4 L146.8,410.4 L147.6,410.4 L148.4,410.4 L149.2,410.4 L150.0,410.4 L150.8,410.4 L151.6,410.4 L152.4,410.4 L153.2,410.4 L154.0,410.4 L154.8,410.4 L155.6,410.4 L156.4,410.4 L157.2,410.4 L158.0,410.4 L158.8,410.4 L159.6,410.4 L160.4,410.4 L161.2,410.4 L162.0,410.4 L162.8,410.4 L163.6,410.3 L164.4,410.3 L165.2,410.3 L166.0,410.3 L166.8,410.3 L167.6,410.3 L168.4,410.3 L169.2,410.3 L170.0,410.3 L170.8,410.3 L171.6,410.3 L172.4,410.3 L173.2,410.3 L174.0,410.3 L174.8,410.3 L175.6,410.3 L176.4,410.2 L177.2,410.2 L178.0,410.2 L178.8,410.2 L179.6,410.2 L180.4,410.2 L181.2,410.2 L182.0,410.2 L182.8,410.2 L183.6,410.2 L184.4,410.2 L185.2,410.2 L186.0,410.1 L186.8,410.1 L187.6,410.1 L188.4,410.1 L189.2,410.1 L190.0,410.1 L190.8,410.1 L191.6,410.1 L192.4,410.1 L193.2,410.0 L194.0,410.0 L194.8,410.0 L195.6,410.0 L196.4,410.0 L197.2,410.0 L198.0,410.0 L198.8,410.0 L199.6,410.0 L200.4,409.9 L201.2,409.9 L202.0,409.9 L202.8,409.9 L202.9,409.9 L203.6,409.9 L204.4,409.9 L205.2,409.9 L206.0,409.8 L206.8,409.8 L207.6,409.8 L208.4,409.8 L209.2,409.8 L210.0,409.8 L210.8,409.7 L211.6,409.7 L212.4,409.7 L213.2,409.7 L214.0,409.6 L214.8,409.6 L215.6,409.6 L216.4,409.5 L217.2,409.5 L218.0,409.5 L218.8,409.4 L219.6,409.4 L220.4,409.3 L221.2,409.3 L222.0,409.2 L222.8,409.2 L223.6,409.1 L224.4,409.1 L225.2,409.0 L226.0,408.9 L226.8,408.9 L227.6,408.8 L228.4,408.7 L228.5,408.7 L229.2,408.6 L230.0,408.4 L230.8,408.1 L231.6,407.7 L232.4,407.2 L233.2,406.8 L234.0,406.2 L234.8,405.7 L235.5,405.2 L235.6,405.1 L236.4,404.5 L237.2,403.8 L238.0,402.9 L238.8,402.0 L239.6,401.0 L240.4,400.0 L241.2,399.0 L242.0,398.0 L242.0,398.0 L242.8,397.0 L243.6,395.9 L244.4,394.8 L245.2,393.6 L246.0,392.4 L246.8,391.2 L247.6,389.9 L248.4,388.7 L249.2,387.3 L250.0,386.0 L250.0,386.0 L250.8,384.6 L251.6,383.0 L252.4,381.3 L253.2,379.6 L254.0,378.0 L254.8,376.4 L255.6,375.1 L256.0,374.5 L256.4,373.9 L257.2,372.8 L258.0,372.2 L258.0,372.2 L258.8,372.2 L259.6,372.2 L260.2,372.1 L260.4,372.1 L261.2,371.6 L262.0,370.9 L262.4,370.7 L262.8,370.5 L263.6,370.2 L264.4,370.0 L264.6,370.0 L265.2,370.3 L266.0,371.0 L266.8,371.4 L266.8,371.4 L267.6,371.0 L268.4,370.4 L269.0,370.2 L269.2,370.3 L270.0,370.8 L270.8,371.7 L271.2,372.3 L271.6,373.0 L272.4,375.3 L273.2,377.0 L273.4,377.1 L274.0,377.0 L274.8,376.8 L275.6,376.7 L275.6,376.7 L276.4,377.2 L277.2,378.0 L277.8,378.3 L278.0,378.3 L278.8,378.1 L279.6,377.7 L280.0,377.6 L280.4,377.5 L281.2,377.3 L282.0,377.1 L282.2,377.1 L282.8,377.1 L283.6,377.0 L284.4,377.0 L284.4,377.0 L285.2,377.2 L286.0,377.7 L286.6,378.0 L286.8,378.1 L287.6,378.5 L288.4,378.8 L288.8,378.9 L289.2,378.9 L290.0,378.9 L290.8,379.0 L291.0,379.0 L291.6,379.2 L292.4,379.8 L293.2,380.1 L293.2,380.1 L294.0,379.9 L294.8,379.6 L295.4,379.5 L295.6,379.5 L296.4,380.4 L297.2,381.3 L297.6,381.5 L298.0,381.4 L298.8,380.7 L299.6,380.2 L299.8,380.2 L300.4,380.4 L301.2,381.3 L302.0,382.0 L302.0,382.0 L302.8,382.6 L303.6,383.1 L304.2,383.2 L304.4,383.2 L305.2,383.2 L306.0,383.1 L306.4,383.1 L306.8,383.0 L307.6,383.0 L308.4,382.8 L308.6,382.8 L309.2,382.0 L310.0,380.0 L310.8,378.8 L310.8,378.8 L311.6,379.4 L312.4,380.3 L313.0,380.7 L313.2,380.7 L314.0,380.8 L314.8,380.8 L315.2,380.8 L315.6,380.8 L316.4,380.6 L317.2,380.3 L317.4,380.2 L318.0,379.5 L318.8,378.0 L319.6,377.2 L319.6,377.2 L320.4,377.2 L321.2,377.2 L321.8,377.3 L322.0,377.3 L322.8,378.0 L323.6,378.6 L324.0,378.8 L324.4,378.6 L325.2,377.8 L326.0,377.1 L326.2,377.1 L326.8,377.7 L327.6,379.6 L328.4,381.2 L328.4,381.2 L329.2,382.1 L330.0,382.8 L330.6,383.0 L330.8,382.9 L331.6,382.3 L332.4,381.5 L332.8,381.4 L333.2,381.5 L334.0,382.1 L334.8,382.7 L335.0,382.7 L335.6,382.3 L336.4,381.2 L337.2,380.2 L337.2,380.2 L338.0,379.5 L338.8,378.9 L339.4,378.8 L339.6,378.8 L340.4,379.0 L341.2,379.5 L341.6,379.8 L342.0,380.1 L342.8,380.9 L343.6,381.6 L343.8,381.7 L344.4,382.0 L345.2,382.2 L346.0,382.6 L346.0,382.6 L346.8,383.9 L347.6,385.7 L348.2,386.4 L348.4,386.5 L349.2,386.7 L350.0,386.9 L350.4,386.9 L350.8,386.9 L351.6,387.0 L352.4,387.0 L352.6,387.1 L353.2,387.2 L354.0,387.3 L354.8,387.5 L354.8,387.5 L355.6,387.6 L356.4,387.6 L357.0,387.6 L357.2,387.7 L358.0,387.7 L358.8,387.7 L359.2,387.7 L359.6,388.0 L360.4,389.3 L361.2,390.4 L361.4,390.5 L362.0,390.3 L362.8,390.0 L363.6,389.7 L363.6,389.7 L364.4,390.1 L365.2,390.9 L365.8,391.5 L366.0,391.6 L366.8,392.3 L367.6,393.0 L368.0,393.4 L368.4,393.9 L369.2,395.1 L370.0,396.3 L370.2,396.6 L370.8,397.1 L371.6,397.7 L372.4,398.4 L372.4,398.4 L373.2,399.0 L374.0,399.7 L374.6,400.4 L374.8,400.7 L375.6,402.4 L376.4,404.6 L376.8,405.8 L377.2,407.0 L378.0,409.8 L378.8,412.4 L379.0,412.9 L379.6,414.2 L380.4,415.7 L381.2,417.3 L381.2,417.3 L382.0,419.7 L382.8,422.4 L383.4,423.6 L383.6,423.9 L384.4,424.5 L385.2,425.0 L385.6,425.3 L386.0,425.6 L386.8,426.4 L387.6,427.3 L387.8,427.6 L388.4,429.2 L389.2,432.3 L390.0,434.5 L390.0,434.5 L390.8,435.4 L391.6,436.0 L392.2,436.4 L392.4,436.4 L393.2,436.6 L394.0,436.8 L394.4,437.0 L394.8,438.1 L395.6,442.9 L396.4,447.1 L396.6,447.5 L397.2,447.7 L398.0,447.9 L398.8,448.0 L398.8,448.0 L399.6,448.2 L400.4,448.4 L401.0,448.6 L401.2,448.9 L402.0,452.9 L402.6,458.0 L402.8,461.6 L403.6,480.0 L403.6,480.0 L404.4,480.3 L405.2,480.5 L406.0,480.7 L406.8,480.9 L407.6,481.1 L408.4,481.3 L409.2,481.4 L410.0,481.6 L410.8,481.7 L411.6,481.8 L412.4,481.9 L413.2,482.0 L414.0,482.1 L414.8,482.2 L415.6,482.2 L416.4,482.3 L417.2,482.3 L418.0,482.4 L418.8,482.4 L419.6,482.5 L420.4,482.5 L421.2,482.5 L422.0,482.6 L422.8,482.6 L423.6,482.6 L424.4,482.7 L425.2,482.7 L426.0,482.8 L426.8,482.8 L427.6,482.9 L428.4,482.9 L429.2,483.0 L429.3,483.0 L430.0,483.1 L430.8,483.1 L431.6,483.2 L432.4,483.3 L433.2,483.4 L434.0,483.4 L434.8,483.5 L435.6,483.6 L436.4,483.6 L437.2,483.7 L438.0,483.8 L438.8,483.8 L439.6,483.9 L440.4,484.0 L441.2,484.1 L442.0,484.1 L442.8,484.2 L443.6,484.3 L444.4,484.3 L445.2,484.4 L446.0,484.5 L446.8,484.5 L447.6,484.6 L448.4,484.7 L449.2,484.7 L450.0,484.8 L450.8,484.9 L451.6,484.9 L452.4,485.0 L453.2,485.1 L454.0,485.1 L454.8,485.2 L455.6,485.3 L456.4,485.3 L457.2,485.4 L458.0,485.5 L458.8,485.5 L459.6,485.6 L460.4,485.6 L461.2,485.7 L462.0,485.8 L462.8,485.8 L463.6,485.9 L464.4,486.0 L465.2,486.0 L466.0,486.1 L466.8,486.1 L467.6,486.2 L468.4,486.2 L469.2,486.3 L470.0,486.4 L470.8,486.4 L471.6,486.5 L472.4,486.5 L473.2,486.6 L474.0,486.6 L474.8,486.7 L475.6,486.7 L476.4,486.8 L477.2,486.8 L478.0,486.9 L478.8,486.9 L479.6,487.0 L480.4,487.0 L481.2,487.1 L482.0,487.1 L482.8,487.2 L483.6,487.2 L484.4,487.3 L485.2,487.3 L486.0,487.4 L486.8,487.4 L487.6,487.5 L488.4,487.5 L489.2,487.5 L490.0,487.6 L490.8,487.6 L491.6,487.7 L492.4,487.7 L493.2,487.7 L494.0,487.8 L494.8,487.8 L495.6,487.8 L496.4,487.9 L497.2,487.9 L498.0,488.0 L498.8,488.0 L499.6,488.0 L500.4,488.1 L501.2,488.1 L502.0,488.1 L502.8,488.1 L503.6,488.2 L504.4,488.2 L504.5,488.2" stroke="#e377c2"/>
<line x1="92.7" y1="515.0" x2="92.7" y2="556.9" stroke="#e377c2"/>
<path d="M90.4,560.0 L90.8,554.0 L91.2,551.7 L92.0,548.4 L92.8,546.3 L93.6,544.6 L94.4,542.5 L94.7,541.5 L95.2,539.6 L96.0,536.4 L96.8,533.0 L97.6,529.3 L98.4,525.4 L98.5,524.9 L99.2,521.1 L100.0,516.4 L100.8,511.4 L101.6,506.2 L101.7,505.6 L102.4,501.0 L103.2,495.5 L103.6,492.8 L104.0,490.1 L104.8,484.5 L105.6,478.8 L106.4,473.3 L107.2,468.1 L108.0,463.5 L108.4,461.4 L108.8,459.5 L109.6,456.0 L110.4,452.8 L111.2,449.9 L112.0,447.2 L112.8,444.5 L113.6,441.8 L114.4,439.0 L115.2,436.1 L116.0,432.8 L116.3,431.5 L116.8,429.1 L117.6,424.9 L118.4,420.5 L119.2,416.4 L119.5,415.0 L120.0,412.5 L120.8,408.5 L121.5,407.0 L121.6,407.0 L122.4,407.2 L123.2,407.7 L124.0,408.3 L124.8,409.0 L125.6,409.7 L126.4,410.3 L127.2,410.8 L127.3,410.8 L128.0,411.0 L128.8,411.3 L129.6,411.5 L130.4,411.7 L131.2,411.9 L132.0,412.1 L132.8,412.3 L133.6,412.4 L134.4,412.6 L135.2,412.7 L136.0,412.9 L136.8,413.0 L137.6,413.1 L138.4,413.2 L139.2,413.3 L140.0,413.4 L140.0,413.4 L140.8,413.5 L141.6,413.6 L142.4,413.6 L143.2,413.7 L144.0,413.8 L144.8,413.9 L145.6,413.9 L146.4,414.0 L147.2,414.1 L148.0,414.1 L148.8,414.2 L149.6,414.2 L150.4,414.3 L151.2,414.3 L152.0,414.4 L152.8,414.4 L153.6,414.5 L154.4,414.5 L155.2,414.6 L156.0,414.6 L156.8,414.7 L157.6,414.7 L158.4,414.7 L159.2,414.8 L160.0,414.8 L160.8,414.9 L161.6,414.9 L162.4,414.9 L163.2,415.0 L164.0,415.0 L164.8,415.1 L165.6,415.1 L166.4,415.2 L167.2,415.2 L168.0,415.2 L168.8,415.3 L169.6,415.3 L170.4,415.4 L171.2,415.4 L172.0,415.5 L172.8,415.5 L173.6,415.6 L174.4,415.7 L175.0,415.7 L175.2,415.7 L176.0,415.8 L176.8,415.8 L177.6,415.9 L178.4,416.0 L179.2,416.1 L180.0,416.2 L180.8,416.2 L181.6,416.3 L182.4,416.4 L183.2,416.5 L184.0,416.6 L184.8,416.7 L185.6,416.8 L186.4,416.9 L187.2,417.0 L188.0,417.1 L188.8,417.1 L189.6,417.2 L190.4,417.3 L191.2,417.4 L192.0,417.5 L192.8,417.6 L193.6,417.6 L194.4,417.7 L195.2,417.8 L196.0,417.8 L196.8,417.9 L197.6,417.9 L198.4,418.0 L199.2,418.0 L200.0,418.0 L200.8,418.1 L201.6,418.1 L202.4,418.1 L202.9,418.1 L203.2,418.1 L204.0,418.1 L204.8,418.1 L205.6,418.1 L206.4,418.1 L207.2,418.1 L208.0,418.1 L208.8,418.0 L209.6,418.0 L210.4,418.0 L211.2,418.0 L212.0,418.0 L212.8,417.9 L213.6,417.9 L214.4,417.9 L215.2,417.9 L216.0,417.8 L216.8,417.8 L217.6,417.7 L218.4,417.7 L219.2,417.7 L220.0,417.6 L220.8,417.6 L221.6,417.5 L222.4,417.4 L223.2,417.4 L224.0,417.3 L224.8,417.3 L225.6,417.2 L226.4,417.1 L227.2,417.0 L228.0,417.0 L228.5,416.9 L228.8,416.9 L229.6,416.6 L230.4,416.3 L231.2,415.8 L232.0,415.2 L232.8,414.6 L233.6,413.9 L234.4,413.2 L235.2,412.5 L235.5,412.2 L236.0,411.7 L236.8,410.9 L237.6,410.0 L238.4,408.9 L239.2,407.9 L240.0,406.7 L240.8,405.5 L241.6,404.2 L242.4,403.0 L243.0,402.0 L243.2,401.7 L244.0,400.3 L244.8,398.8 L245.6,397.2 L246.4,395.5 L247.2,393.8 L248.0,392.1 L248.8,390.4 L249.6,388.8 L250.0,388.0 L250.4,387.2 L251.2,385.5 L252.0,383.7 L252.8,381.9 L253.6,380.2 L254.4,378.6 L255.2,377.4 L256.0,376.5 L256.0,376.5 L256.8,376.0 L257.6,375.5 L258.0,375.3 L258.4,375.0 L259.2,374.5 L260.0,373.9 L260.2,373.8 L260.8,373.2 L261.6,372.4 L262.4,372.0 L262.4,372.0 L263.2,372.8 L264.0,374.2 L264.6,374.7 L264.8,374.7 L265.6,373.4 L266.4,372.0 L266.8,371.7 L267.2,371.7 L268.0,371.8 L268.8,371.9 L269.0,372.0 L269.6,372.5 L270.4,374.1 L271.2,375.8 L271.2,375.8 L272.0,377.5 L272.8,379.2 L273.4,379.7 L273.6,379.7 L274.4,379.6 L275.2,379.6 L275.6,379.5 L276.0,379.6 L276.8,379.9 L277.6,380.2 L277.8,380.2 L278.4,380.0 L279.2,379.5 L280.0,379.1 L280.0,379.1 L280.8,379.3 L281.6,379.5 L282.2,379.6 L282.4,379.6 L283.2,379.3 L284.0,379.0 L284.4,378.9 L284.8,379.0 L285.6,379.4 L286.4,379.9 L286.6,380.1 L287.2,380.5 L288.0,381.2 L288.8,381.5 L288.8,381.5 L289.6,381.5 L290.4,381.3 L291.0,381.3 L291.2,381.3 L292.0,381.9 L292.8,382.6 L293.2,382.7 L293.6,382.7 L294.4,382.5 L295.2,382.3 L295.4,382.3 L296.0,382.4 L296.8,382.6 L297.6,382.9 L297.6,382.9 L298.4,383.3 L299.2,383.7 L299.8,383.9 L300.0,383.9 L300.8,383.9 L301.6,384.0 L302.0,384.0 L302.4,384.2 L303.2,384.7 L304.0,385.1 L304.2,385.1 L304.8,385.0 L305.6,384.5 L306.4,384.2 L306.4,384.2 L307.2,384.4 L308.0,384.7 L308.6,384.8 L308.8,384.8 L309.6,383.8 L310.4,382.5 L310.8,382.1 L311.2,382.0 L312.0,381.8 L312.8,381.7 L313.0,381.6 L313.6,381.3 L314.4,380.7 L315.2,380.4 L315.2,380.4 L316.0,380.5 L316.8,380.7 L317.4,380.8 L317.6,380.8 L318.4,380.7 L319.2,380.4 L319.6,380.3 L320.0,380.0 L320.8,378.8 L321.6,377.8 L321.8,377.8 L322.4,377.9 L323.2,378.2 L324.0,378.6 L324.0,378.6 L324.8,379.3 L325.6,380.3 L326.2,380.9 L326.4,381.1 L327.2,381.8 L328.0,382.5 L328.4,382.7 L328.8,382.9 L329.6,383.1 L330.4,383.3 L330.6,383.4 L331.2,383.8 L332.0,384.3 L332.8,384.6 L332.8,384.6 L333.6,384.5 L334.4,384.3 L335.0,384.2 L335.2,384.2 L336.0,384.0 L336.8,383.7 L337.2,383.6 L337.6,383.4 L338.4,382.9 L339.2,382.5 L339.4,382.5 L340.0,382.7 L340.8,383.3 L341.6,383.6 L341.6,383.6 L342.4,383.5 L343.2,383.4 L343.8,383.3 L344.0,383.3 L344.8,383.6 L345.6,384.1 L346.0,384.4 L346.4,384.9 L347.2,386.4 L348.0,387.8 L348.2,388.1 L348.8,388.8 L349.6,389.7 L350.4,390.0 L350.4,390.0 L351.2,389.3 L352.0,388.1 L352.6,387.7 L352.8,387.8 L353.6,388.7 L354.4,389.9 L354.8,390.1 L355.2,390.0 L356.0,389.8 L356.8,389.6 L357.0,389.6 L357.6,390.1 L358.4,391.3 L359.2,392.1 L359.2,392.1 L360.0,391.8 L360.8,391.3 L361.4,391.2 L361.6,391.2 L362.4,392.4 L363.2,393.7 L363.6,393.9 L364.0,393.9 L364.8,393.4 L365.6,393.1 L365.8,393.1 L366.4,393.4 L367.2,394.5 L368.0,395.5 L368.0,395.5 L368.8,395.9 L369.6,396.2 L370.2,396.5 L370.4,396.7 L371.2,398.0 L372.0,399.6 L372.4,400.4 L372.8,401.1 L373.6,402.5 L374.4,404.0 L374.6,404.4 L375.2,405.7 L376.0,407.6 L376.8,409.5 L376.8,409.5 L377.6,411.7 L378.4,413.9 L379.0,415.5 L379.2,416.0 L380.0,417.9 L380.8,419.7 L381.2,420.8 L381.6,422.0 L382.4,424.8 L383.2,426.8 L383.4,427.0 L384.0,427.3 L384.8,427.4 L385.6,427.7 L385.6,427.7 L386.4,428.3 L387.2,429.4 L387.8,430.3 L388.0,430.7 L388.8,433.0 L389.6,435.7 L390.0,436.9 L390.4,438.1 L391.2,440.5 L392.0,442.4 L392.2,442.8 L392.8,443.6 L393.6,444.3 L394.4,445.3 L394.4,445.3 L395.2,447.5 L396.0,450.4 L396.6,451.9 L396.8,452.2 L397.6,453.2 L398.4,453.9 L398.8,454.2 L399.2,454.3 L400.0,454.5 L400.8,454.8 L401.0,455.0 L401.6,456.7 L402.4,462.4 L402.6,464.3 L403.2,479.1 L403.6,485.9 L404.0,486.0 L404.8,486.3 L405.6,486.6 L406.4,486.8 L407.2,487.1 L408.0,487.3 L408.8,487.5 L409.6,487.6 L410.4,487.8 L411.2,487.9 L412.0,488.1 L412.8,488.2 L413.6,488.3 L414.4,488.4 L415.2,488.5 L416.0,488.5 L416.8,488.6 L417.6,488.7 L418.4,488.7 L419.2,488.8 L420.0,488.8 L420.8,488.9 L421.6,488.9 L422.4,488.9 L423.2,489.0 L424.0,489.0 L424.8,489.0 L425.6,489.1 L426.4,489.1 L427.2,489.2 L428.0,489.2 L428.8,489.3 L429.3,489.3 L429.6,489.3 L430.4,489.4 L431.2,489.4 L432.0,489.5 L432.8,489.5 L433.6,489.6 L434.4,489.7 L435.2,489.7 L436.0,489.8 L436.8,489.8 L437.6,489.9 L438.4,489.9 L439.2,490.0 L440.0,490.0 L440.8,490.1 L441.6,490.2 L442.4,490.2 L443.2,490.3 L444.0,490.3 L444.8,490.4 L445.6,490.4 L446.4,490.5 L447.2,490.5 L448.0,490.6 L448.8,490.6 L449.6,490.7 L450.4,490.7 L451.2,490.8 L452.0,490.8 L452.8,490.9 L453.6,490.9 L454.4,491.0 L455.2,491.0 L456.0,491.0 L456.8,491.1 L457.6,491.1 L458.4,491.2 L459.2,491.2 L460.0,491.3 L460.8,491.3 L461.6,491.4 L462.4,491.4 L463.2,491.4 L464.0,491.5 L464.8,491.5 L465.6,491.6 L466.4,491.6 L467.2,491.6 L468.0,491.7 L468.8,491.7 L469.6,491.8 L470.4,491.8 L471.2,491.8 L472.0,491.9 L472.8,491.9 L473.6,491.9 L474.4,492.0 L475.2,492.0 L476.0,492.0 L476.8,492.0 L477.6,492.1 L478.4,492.1 L479.2,492.1 L480.0,492.2 L480.8,492.2 L481.6,492.2 L482.4,492.2 L483.2,492.3 L484.0,492.3 L484.8,492.3 L485.6,492.3 L486.4,492.4 L487.2,492.4 L488.0,492.4 L488.8,492.4 L489.6,492.4 L490.4,492.4 L491.2,492.5 L492.0,492.5 L492.8,492.5 L493.6,492.5 L494.4,492.5 L495.2,492.5 L496.0,492.5 L496.8,492.6 L497.6,492.6 L498.4,492.6 L499.2,492.6 L500.0,492.6 L500.8,492.6 L501.6,492.6 L502.4,492.6 L503.2,492.6 L504.0,492.6 L504.5,492.6" stroke="#7f7f7f"/>
<line x1="92.7" y1="518.0" x2="92.7" y2="556.9" stroke="#7f7f7f"/>
<path d="M84.0,560.0 L84.1,470.0 L84.8,446.9 L85.5,440.0 L85.6,438.9 L86.4,430.9 L87.2,425.3 L87.8,422.7 L88.0,422.1 L88.8,419.8 L89.6,417.8 L90.4,416.1 L91.2,414.6 L92.0,413.3 L92.8,412.2 L93.6,411.2 L94.4,410.3 L95.2,409.4 L95.7,408.9 L96.0,408.6 L96.8,407.8 L97.6,407.1 L98.4,406.5 L99.2,405.9 L100.0,405.4 L100.8,404.9 L101.6,404.4 L102.4,403.9 L103.2,403.3 L104.0,402.8 L104.8,402.1 L105.6,401.4 L105.6,401.4 L106.4,400.4 L107.2,399.2 L108.0,398.1 L108.8,397.5 L109.1,397.4 L109.6,397.8 L110.4,399.4 L111.2,401.6 L112.0,403.4 L112.5,403.9 L112.8,404.0 L113.6,404.3 L114.4,404.6 L115.2,404.8 L116.0,404.9 L116.8,405.0 L117.0,405.0 L117.6,404.9 L118.4,404.5 L119.2,404.0 L120.0,403.4 L120.8,403.0 L121.4,402.9 L121.6,402.9 L122.4,403.6 L123.2,404.7 L124.0,405.9 L124.8,406.7 L125.3,406.9 L125.6,406.9 L126.4,406.9 L127.2,406.8 L128.0,406.8 L128.8,406.7 L129.6,406.7 L130.4,406.6 L131.2,406.5 L132.0,406.4 L132.8,406.3 L133.6,406.2 L134.4,406.1 L135.2,406.0 L136.0,405.9 L136.8,405.8 L137.6,405.8 L138.4,405.7 L139.2,405.7 L140.0,405.7 L140.0,405.7 L140.8,405.7 L141.6,405.7 L142.4,405.8 L143.2,405.8 L144.0,405.9 L144.8,405.9 L145.6,406.0 L146.4,406.1 L147.2,406.2 L148.0,406.3 L148.8,406.4 L149.6,406.5 L150.4,406.6 L151.2,406.7 L152.0,406.9 L152.8,407.0 L153.6,407.1 L154.4,407.2 L155.2,407.4 L156.0,407.5 L156.8,407.7 L157.6,407.8 L158.4,407.9 L159.2,408.1 L160.0,408.2 L160.8,408.3 L161.6,408.5 L162.4,408.6 L163.2,408.7 L163.3,408.7 L164.0,408.8 L164.8,408.9 L165.6,409.0 L166.4,409.1 L167.2,409.3 L168.0,409.4 L168.8,409.5 L169.6,409.6 L170.4,409.7 L171.2,409.8 L172.0,410.0 L172.8,410.1 L173.6,410.2 L174.4,410.3 L175.2,410.5 L176.0,410.6 L176.8,410.7 L177.6,410.8 L178.4,410.9 L179.2,411.1 L180.0,411.2 L180.8,411.3 L181.6,411.4 L182.4,411.6 L183.2,411.7 L184.0,411.8 L184.8,411.9 L185.6,412.0 L186.4,412.2 L186.6,412.2 L187.2,412.3 L188.0,412.4 L188.8,412.5 L189.6,412.7 L190.4,412.8 L191.2,412.9 L192.0,413.0 L192.8,413.1 L193.6,413.3 L194.4,413.4 L195.2,413.5 L196.0,413.6 L196.8,413.7 L197.6,413.9 L198.4,414.0 L199.2,414.1 L200.0,414.2 L200.8,414.3 L201.6,414.5 L202.4,414.6 L203.2,414.7 L204.0,414.8 L204.8,414.9 L205.6,415.1 L206.4,415.2 L207.2,415.3 L208.0,415.4 L208.8,415.5 L209.6,415.7 L209.9,415.7 L210.4,415.8 L211.2,415.9 L212.0,416.0 L212.8,416.2 L213.6,416.3 L214.4,416.5 L215.2,416.7 L216.0,416.8 L216.8,417.0 L217.6,417.1 L218.4,417.3 L219.2,417.4 L220.0,417.5 L220.8,417.7 L221.6,417.8 L222.4,417.9 L223.2,418.0 L224.0,418.0 L224.8,418.1 L225.6,418.1 L226.2,418.1 L226.4,418.1 L227.2,418.0 L228.0,417.7 L228.8,417.4 L229.6,416.9 L230.4,416.4 L231.2,415.8 L232.0,415.1 L232.8,414.5 L233.6,413.8 L234.4,413.1 L235.2,412.4 L235.5,412.2 L236.0,411.8 L236.8,411.2 L237.6,410.5 L238.4,409.8 L239.2,409.1 L240.0,408.4 L240.8,407.6 L241.6,406.8 L242.4,405.9 L243.2,405.0 L244.0,404.0 L244.8,402.9 L244.8,402.9 L245.6,401.7 L246.4,400.2 L247.2,398.6 L248.0,396.9 L248.8,395.0 L249.6,393.2 L250.4,391.3 L251.0,390.0 L251.2,389.5 L252.0,387.5 L252.8,385.3 L253.6,383.1 L254.4,381.1 L255.2,379.5 L256.0,378.5 L256.0,378.5 L256.8,378.0 L257.6,377.7 L258.0,377.5 L258.4,377.1 L259.2,376.2 L260.0,375.5 L260.2,375.4 L260.8,375.2 L261.6,375.1 L262.4,375.0 L262.4,375.0 L263.2,375.3 L264.0,375.8 L264.6,376.0 L264.8,376.0 L265.6,375.3 L266.4,374.6 L266.8,374.5 L267.2,374.5 L268.0,374.9 L268.8,375.5 L269.0,375.6 L269.6,376.1 L270.4,377.0 L271.2,378.1 L271.2,378.1 L272.0,379.9 L272.8,381.9 L273.4,382.5 L273.6,382.5 L274.4,382.2 L275.2,381.8 L275.6,381.6 L276.0,381.4 L276.8,380.8 L277.6,380.3 L277.8,380.3 L278.4,380.5 L279.2,381.1 L280.0,381.6 L280.0,381.6 L280.8,381.9 L281.6,382.2 L282.2,382.3 L282.4,382.3 L283.2,381.9 L284.0,381.4 L284.4,381.3 L284.8,381.3 L285.6,381.6 L286.4,381.8 L286.6,381.9 L287.2,381.6 L288.0,381.0 L288.8,380.6 L288.8,380.6 L289.6,381.7 L290.4,383.6 L291.0,384.3 L291.2,384.3 L292.0,384.1 L292.8,383.7 L293.2,383.6 L293.6,383.4 L294.4,383.0 L295.2,382.8 L295.4,382.8 L296.0,382.9 L296.8,383.3 L297.6,383.7 L297.6,383.7 L298.4,384.3 L299.2,385.1 L299.8,385.6 L300.0,385.7 L300.8,386.4 L301.6,386.9 L302.0,386.9 L302.4,386.9 L303.2,386.7 L304.0,386.5 L304.2,386.5 L304.8,386.5 L305.6,386.5 L306.4,386.5 L306.4,386.5 L307.2,385.9 L308.0,384.8 L308.6,384.2 L308.8,384.0 L309.6,383.5 L310.4,383.1 L310.8,383.1 L311.2,383.2 L312.0,383.9 L312.8,384.5 L313.0,384.6 L313.6,384.5 L314.4,384.0 L315.2,383.6 L315.2,383.6 L316.0,383.0 L316.8,382.5 L317.4,382.3 L317.6,382.3 L318.4,382.4 L319.2,382.4 L319.6,382.5 L320.0,382.2 L320.8,380.6 L321.6,379.3 L321.8,379.2 L322.4,379.3 L323.2,379.5 L324.0,379.9 L324.0,379.9 L324.8,380.7 L325.6,382.0 L326.2,383.0 L326.4,383.3 L327.2,385.0 L328.0,386.4 L328.4,386.6 L328.8,386.6 L329.6,386.2 L330.4,385.9 L330.6,385.9 L331.2,386.1 L332.0,386.6 L332.8,386.9 L332.8,386.9 L333.6,386.5 L334.4,385.8 L335.0,385.5 L335.2,385.5 L336.0,385.5 L336.8,385.5 L337.2,385.5 L337.6,385.3 L338.4,384.1 L339.2,383.1 L339.4,383.0 L340.0,383.0 L340.8,383.0 L341.6,383.0 L341.6,383.0 L342.4,383.7 L343.2,385.1 L343.8,386.0 L344.0,386.2 L344.8,387.0 L345.6,387.7 L346.0,388.0 L346.4,388.4 L347.2,389.1 L348.0,389.8 L348.2,390.0 L348.8,390.7 L349.6,391.7 L350.4,392.4 L350.4,392.4 L351.2,392.8 L352.0,393.1 L352.6,393.2 L352.8,393.1 L353.6,391.8 L354.4,390.3 L354.8,390.0 L355.2,390.0 L356.0,390.2 L356.8,390.6 L357.0,390.7 L357.6,391.2 L358.4,392.4 L359.2,393.1 L359.2,393.1 L360.0,393.3 L360.8,393.4 L361.4,393.6 L361.6,393.7 L362.4,394.9 L363.2,396.3 L363.6,396.5 L364.0,396.5 L364.8,396.5 L365.6,396.4 L365.8,396.4 L366.4,396.5 L367.2,396.8 L368.0,397.2 L368.0,397.2 L368.8,397.8 L369.6,398.8 L370.2,399.7 L370.4,400.1 L371.2,402.5 L372.0,404.9 L372.4,405.6 L372.8,405.8 L373.6,406.1 L374.4,406.4 L374.6,406.5 L375.2,407.4 L376.0,409.4 L376.8,411.6 L376.8,411.6 L377.6,413.9 L378.4,416.4 L379.0,418.2 L379.2,418.8 L380.0,421.1 L380.8,423.4 L381.2,424.5 L381.6,425.6 L382.4,428.0 L383.2,429.7 L383.4,429.8 L384.0,430.0 L384.8,430.2 L385.6,430.4 L385.6,430.4 L386.4,431.0 L387.2,432.1 L387.8,433.1 L388.0,433.6 L388.8,436.2 L389.6,439.4 L390.0,440.9 L390.4,442.2 L391.2,445.1 L392.0,447.1 L392.2,447.2 L392.8,447.4 L393.6,447.5 L394.4,447.7 L394.4,447.7 L395.2,450.3 L396.0,455.0 L396.6,457.8 L396.8,458.4 L397.6,460.7 L398.4,462.3 L398.8,462.6 L399.2,462.4 L400.0,461.7 L400.8,461.0 L401.0,461.0 L401.6,461.9 L402.4,465.3 L402.6,466.4 L403.2,475.0 L403.6,479.0 L404.0,479.2 L404.8,479.4 L405.6,479.7 L406.4,479.9 L407.2,480.2 L408.0,480.4 L408.8,480.6 L409.6,480.7 L410.4,480.9 L411.2,481.0 L412.0,481.1 L412.8,481.2 L413.6,481.3 L414.4,481.4 L415.2,481.5 L416.0,481.6 L416.8,481.7 L417.6,481.7 L418.4,481.8 L419.2,481.8 L420.0,481.9 L420.8,481.9 L421.6,481.9 L422.4,482.0 L423.2,482.0 L424.0,482.1 L424.8,482.1 L425.6,482.2 L426.4,482.2 L427.2,482.3 L428.0,482.4 L428.8,482.4 L429.3,482.5 L429.6,482.5 L430.4,482.6 L431.2,482.7 L432.0,482.8 L432.8,482.9 L433.6,483.0 L434.4,483.2 L435.2,483.3 L436.0,483.4 L436.8,483.5 L437.6,483.6 L438.4,483.6 L439.2,483.7 L440.0,483.8 L440.8,483.9 L441.6,483.9 L442.4,484.0 L443.2,484.0 L444.0,484.0 L444.4,484.0 L444.8,483.9 L445.6,482.9 L446.4,481.5 L447.2,480.4 L447.8,480.1 L448.0,480.1 L448.8,480.5 L449.6,481.2 L450.4,482.0 L451.2,482.6 L452.0,483.0 L452.0,483.0 L452.8,483.1 L453.6,483.2 L454.4,483.3 L455.2,483.5 L456.0,483.6 L456.8,483.7 L457.6,483.8 L458.4,483.9 L459.2,484.0 L460.0,484.1 L460.8,484.2 L461.6,484.3 L462.4,484.3 L463.2,484.4 L464.0,484.5 L464.8,484.6 L465.6,484.7 L466.4,484.8 L467.2,484.8 L468.0,484.9 L468.8,485.0 L469.6,485.0 L470.4,485.1 L471.2,485.2 L472.0,485.2 L472.8,485.3 L473.6,485.3 L474.4,485.4 L475.2,485.5 L476.0,485.5 L476.8,485.6 L477.6,485.6 L478.4,485.6 L479.2,485.7 L480.0,485.7 L480.8,485.8 L481.6,485.8 L482.4,485.9 L483.2,485.9 L484.0,485.9 L484.8,486.0 L485.6,486.0 L486.4,486.0 L487.2,486.0 L488.0,486.1 L488.8,486.1 L489.6,486.1 L490.4,486.1 L491.2,486.2 L492.0,486.2 L492.8,486.2 L493.6,486.2 L494.4,486.2 L495.2,486.2 L496.0,486.2 L496.8,486.3 L497.6,486.3 L498.4,486.3 L499.2,486.3 L500.0,486.3 L500.8,486.3 L501.6,486.3 L502.4,486.3 L503.2,486.3 L504.0,486.3 L504.5,486.3" stroke="#bcbd22"/>
<path d="M101.0,560.0 L101.2,502.0 L101.8,496.8 L102.6,494.0 L103.4,489.7 L104.2,485.5 L105.0,481.4 L105.8,477.3 L106.6,473.3 L107.4,469.5 L108.2,465.7 L109.0,462.0 L109.0,462.0 L109.8,458.4 L110.6,454.7 L111.4,451.2 L112.2,447.7 L113.0,444.3 L113.8,441.0 L114.6,437.9 L115.4,435.0 L116.0,433.0 L116.2,432.4 L117.0,429.8 L117.8,427.3 L118.6,425.1 L119.4,423.2 L120.0,422.0 L120.2,421.6 L121.0,420.2 L121.8,418.9 L122.6,418.0 L123.3,417.7 L123.4,417.7 L124.2,417.8 L125.0,418.2 L125.8,418.6 L126.6,419.2 L127.4,419.7 L128.2,420.3 L129.0,420.9 L129.8,421.3 L130.6,421.6 L131.2,421.7 L131.4,421.7 L132.2,421.8 L133.0,421.8 L133.8,421.8 L134.6,421.8 L135.4,421.9 L136.2,421.9 L137.0,421.9 L137.8,421.9 L138.6,422.0 L139.4,422.0 L140.0,422.0 L140.2,422.0 L141.0,422.0 L141.8,422.1 L142.6,422.1 L143.4,422.2 L144.2,422.2 L145.0,422.3 L145.8,422.3 L146.6,422.4 L147.4,422.4 L148.2,422.5 L149.0,422.6 L149.8,422.6 L150.6,422.7 L151.4,422.7 L152.2,422.8 L153.0,422.9 L153.8,422.9 L154.6,423.0 L155.4,423.0 L156.2,423.1 L157.0,423.1 L157.8,423.2 L158.6,423.2 L159.4,423.3 L160.2,423.3 L161.0,423.3 L161.8,423.4 L162.6,423.4 L163.3,423.4 L163.4,423.4 L164.2,423.4 L165.0,423.4 L165.8,423.4 L166.6,423.5 L167.4,423.5 L168.2,423.5 L169.0,423.5 L169.8,423.5 L170.6,423.5 L171.4,423.5 L172.2,423.6 L173.0,423.6 L173.8,423.6 L174.6,423.6 L175.4,423.6 L176.2,423.6 L177.0,423.6 L177.8,423.7 L178.6,423.7 L179.4,423.7 L180.2,423.7 L181.0,423.7 L181.8,423.7 L182.6,423.7 L183.4,423.7 L184.2,423.7 L185.0,423.7 L185.8,423.8 L186.6,423.8 L187.4,423.8 L188.2,423.8 L189.0,423.8 L189.8,423.8 L190.6,423.8 L191.4,423.8 L192.2,423.8 L193.0,423.8 L193.8,423.8 L194.6,423.8 L195.4,423.8 L196.2,423.9 L197.0,423.9 L197.8,423.9 L198.6,423.9 L199.4,423.9 L200.2,423.9 L201.0,423.9 L201.8,423.9 L202.6,423.9 L203.4,423.9 L204.2,423.9 L205.0,423.9 L205.8,423.9 L206.6,423.9 L207.4,423.9 L208.2,423.9 L209.0,423.9 L209.8,423.9 L209.9,423.9 L210.6,423.9 L211.4,423.9 L212.2,423.9 L213.0,423.8 L213.8,423.8 L214.6,423.7 L215.4,423.7 L216.2,423.6 L217.0,423.6 L217.8,423.5 L218.6,423.4 L219.4,423.3 L220.2,423.2 L221.0,423.1 L221.8,423.0 L222.6,422.9 L223.4,422.8 L223.9,422.7 L224.2,422.6 L225.0,422.5 L225.8,422.2 L226.6,421.9 L227.4,421.6 L228.2,421.2 L229.0,420.8 L229.8,420.3 L230.6,419.8 L231.4,419.3 L232.2,418.8 L233.0,418.2 L233.2,418.1 L233.8,417.7 L234.6,417.0 L235.4,416.3 L236.2,415.6 L237.0,414.7 L237.8,413.9 L238.6,412.9 L239.4,411.9 L240.2,410.9 L241.0,409.8 L241.8,408.6 L242.5,407.6 L242.6,407.4 L243.4,406.1 L244.2,404.5 L245.0,402.7 L245.8,400.8 L246.6,398.9 L247.4,396.9 L248.2,395.0 L249.0,393.1 L249.8,391.4 L250.0,391.0 L250.6,389.8 L251.4,388.2 L252.2,386.6 L253.0,385.1 L253.8,383.6 L254.6,382.2 L255.4,380.9 L256.0,380.0 L256.2,379.7 L257.0,378.4 L257.8,377.5 L258.0,377.4 L258.6,377.3 L259.4,377.3 L260.2,377.2 L260.2,377.2 L261.0,377.0 L261.8,376.7 L262.4,376.6 L262.6,376.6 L263.4,376.4 L264.2,376.3 L264.6,376.3 L265.0,376.3 L265.8,376.6 L266.6,376.9 L266.8,376.9 L267.4,376.6 L268.2,375.8 L269.0,375.3 L269.0,375.3 L269.8,376.6 L270.6,379.0 L271.2,380.3 L271.4,380.5 L272.2,381.1 L273.0,381.6 L273.4,381.8 L273.8,382.1 L274.6,382.5 L275.4,382.8 L275.6,382.8 L276.2,382.8 L277.0,382.5 L277.8,382.3 L277.8,382.3 L278.6,382.9 L279.4,383.7 L280.0,384.1 L280.2,384.0 L281.0,383.1 L281.8,382.1 L282.2,381.9 L282.6,381.9 L283.4,382.0 L284.2,382.1 L284.4,382.1 L285.0,382.4 L285.8,383.0 L286.6,383.4 L286.6,383.4 L287.4,383.4 L288.2,383.4 L288.8,383.5 L289.0,383.5 L289.8,383.8 L290.6,384.3 L291.0,384.6 L291.4,384.8 L292.2,385.5 L293.0,386.1 L293.2,386.3 L293.8,386.6 L294.6,386.9 L295.4,387.3 L295.4,387.3 L296.2,387.9 L297.0,388.6 L297.6,388.8 L297.8,388.7 L298.6,388.0 L299.4,387.1 L299.8,386.9 L300.2,387.2 L301.0,389.0 L301.8,390.5 L302.0,390.6 L302.6,390.5 L303.4,390.5 L304.2,390.3 L304.2,390.3 L305.0,389.7 L305.8,388.6 L306.4,387.8 L306.6,387.5 L307.4,386.1 L308.2,385.1 L308.6,384.9 L309.0,385.0 L309.8,385.6 L310.6,386.1 L310.8,386.1 L311.4,386.1 L312.2,385.9 L313.0,385.6 L313.0,385.6 L313.8,384.5 L314.6,383.0 L315.2,382.5 L315.4,382.5 L316.2,383.1 L317.0,383.8 L317.4,383.9 L317.8,383.8 L318.6,383.3 L319.4,382.7 L319.6,382.5 L320.2,382.0 L321.0,381.2 L321.8,380.8 L321.8,380.8 L322.6,381.2 L323.4,381.9 L324.0,382.4 L324.2,382.6 L325.0,383.4 L325.8,384.2 L326.2,384.6 L326.6,384.9 L327.4,385.6 L328.2,386.2 L328.4,386.4 L329.0,386.9 L329.8,387.6 L330.6,387.9 L330.6,387.9 L331.4,387.4 L332.2,386.5 L332.8,386.2 L333.0,386.2 L333.8,386.6 L334.6,387.1 L335.0,387.2 L335.4,387.2 L336.2,387.2 L337.0,387.2 L337.2,387.2 L337.8,386.8 L338.6,385.9 L339.4,385.4 L339.4,385.4 L340.2,385.5 L341.0,385.7 L341.6,385.7 L341.8,385.7 L342.6,385.7 L343.4,385.6 L343.8,385.6 L344.2,385.9 L345.0,387.7 L345.8,389.5 L346.0,389.8 L346.6,390.1 L347.4,390.4 L348.2,390.8 L348.2,390.8 L349.0,392.1 L349.8,393.9 L350.4,394.8 L350.6,394.9 L351.4,395.4 L352.2,395.6 L352.6,395.7 L353.0,395.5 L353.8,394.3 L354.6,393.3 L354.8,393.3 L355.4,393.3 L356.2,393.2 L357.0,393.2 L357.0,393.2 L357.8,393.5 L358.6,394.1 L359.2,394.6 L359.4,394.8 L360.2,396.3 L361.0,397.8 L361.4,398.0 L361.8,398.0 L362.6,397.8 L363.4,397.6 L363.6,397.6 L364.2,397.7 L365.0,398.3 L365.8,399.0 L365.8,399.0 L366.6,399.8 L367.4,400.6 L368.0,401.2 L368.2,401.3 L369.0,401.8 L369.8,402.2 L370.2,402.5 L370.6,402.8 L371.4,403.5 L372.2,404.4 L372.4,404.7 L373.0,405.6 L373.8,407.1 L374.6,408.5 L374.6,408.5 L375.4,409.7 L376.2,410.8 L376.8,411.9 L377.0,412.3 L377.8,414.8 L378.6,417.7 L379.0,419.2 L379.4,420.5 L380.2,423.4 L381.0,426.1 L381.2,426.7 L381.8,428.6 L382.6,431.1 L383.4,432.7 L383.4,432.7 L384.2,433.5 L385.0,434.0 L385.6,434.5 L385.8,434.7 L386.6,435.4 L387.4,436.3 L387.8,436.8 L388.2,437.6 L389.0,440.0 L389.8,442.9 L390.0,443.6 L390.6,446.3 L391.4,450.5 L392.2,452.7 L392.2,452.7 L393.0,452.9 L393.8,453.0 L394.4,453.2 L394.6,453.4 L395.4,456.3 L396.2,460.1 L396.6,461.5 L397.0,462.5 L397.8,464.2 L398.6,465.5 L398.8,465.8 L399.4,466.5 L400.2,467.2 L401.0,468.2 L401.0,468.2 L401.8,470.6 L402.6,475.1 L402.6,475.1 L403.4,489.8 L403.6,491.3 L404.2,491.4 L405.0,491.5 L405.8,491.6 L406.6,491.7 L407.4,491.8 L408.2,491.9 L409.0,492.0 L409.8,492.1 L410.6,492.1 L411.4,492.2 L412.2,492.2 L413.0,492.3 L413.8,492.3 L414.6,492.4 L415.4,492.4 L416.2,492.4 L417.0,492.4 L417.8,492.5 L418.6,492.5 L419.4,492.5 L420.2,492.5 L421.0,492.5 L421.8,492.6 L422.6,492.6 L423.4,492.6 L424.2,492.6 L425.0,492.6 L425.8,492.7 L426.6,492.7 L427.4,492.7 L428.2,492.7 L429.0,492.8 L429.3,492.8 L429.8,492.8 L430.6,492.9 L431.4,492.9 L432.2,492.9 L433.0,493.0 L433.8,493.0 L434.6,493.1 L435.4,493.1 L436.2,493.2 L437.0,493.2 L437.8,493.2 L438.6,493.3 L439.4,493.3 L440.2,493.4 L441.0,493.4 L441.8,493.4 L442.6,493.5 L443.4,493.5 L444.2,493.6 L445.0,493.6 L445.8,493.6 L446.6,493.7 L447.4,493.7 L448.2,493.7 L449.0,493.8 L449.8,493.8 L450.6,493.9 L451.4,493.9 L452.2,493.9 L453.0,494.0 L453.8,494.0 L454.6,494.1 L455.4,494.1 L456.2,494.1 L457.0,494.2 L457.8,494.2 L458.6,494.2 L459.4,494.3 L460.2,494.3 L461.0,494.4 L461.8,494.4 L462.6,494.4 L463.4,494.5 L464.2,494.5 L465.0,494.5 L465.8,494.6 L466.6,494.6 L467.4,494.6 L468.2,494.7 L469.0,494.7 L469.8,494.7 L470.6,494.8 L471.4,494.8 L472.2,494.9 L473.0,494.9 L473.8,494.9 L474.6,495.0 L475.4,495.0 L476.2,495.0 L477.0,495.1 L477.8,495.1 L478.6,495.1 L479.4,495.2 L480.2,495.2 L481.0,495.2 L481.8,495.3 L482.6,495.3 L483.4,495.3 L484.2,495.4 L485.0,495.4 L485.8,495.4 L486.6,495.5 L487.4,495.5 L488.2,495.5 L489.0,495.5 L489.8,495.6 L490.6,495.6 L491.4,495.6 L492.2,495.7 L493.0,495.7 L493.8,495.7 L494.6,495.8 L495.4,495.8 L496.2,495.8 L497.0,495.8 L497.8,495.9 L498.6,495.9 L499.4,495.9 L500.2,496.0 L501.0,496.0 L501.8,496.0 L502.6,496.0 L503.4,496.1 L504.2,496.1 L504.5,496.1" stroke="#17becf"/>
<path d="M101.1,560.0 L101.3,503.0 L101.9,498.1 L102.7,495.8 L102.9,495.0 L103.5,492.0 L104.3,487.9 L105.1,483.8 L105.9,479.7 L106.7,475.7 L107.5,471.7 L108.3,467.7 L109.1,463.9 L109.3,463.0 L109.9,460.2 L110.7,456.5 L111.5,452.8 L112.3,449.2 L113.1,445.7 L113.9,442.3 L114.7,439.0 L115.5,435.9 L116.0,434.0 L116.3,432.9 L117.1,429.8 L117.9,426.8 L118.7,424.1 L119.5,421.9 L120.0,421.0 L120.3,420.5 L121.1,419.4 L121.9,418.3 L122.7,417.6 L123.5,417.1 L124.0,417.0 L124.3,417.0 L125.1,417.1 L125.9,417.2 L126.7,417.3 L127.5,417.5 L128.3,417.7 L129.1,417.9 L129.9,418.2 L130.7,418.4 L131.5,418.7 L132.3,418.9 L133.1,419.1 L133.2,419.1 L133.9,419.3 L134.7,419.4 L135.5,419.6 L136.3,419.8 L137.1,419.9 L137.9,420.1 L138.7,420.2 L139.5,420.4 L140.3,420.6 L141.1,420.7 L141.9,420.9 L142.7,421.0 L143.5,421.2 L144.3,421.4 L145.1,421.5 L145.9,421.7 L146.0,421.7 L146.7,421.8 L147.5,422.0 L148.3,422.2 L149.1,422.3 L149.9,422.5 L150.7,422.7 L151.5,422.9 L152.3,423.0 L153.1,423.2 L153.9,423.4 L154.7,423.6 L155.5,423.7 L156.3,423.9 L157.1,424.0 L157.9,424.2 L158.7,424.3 L159.5,424.5 L160.3,424.6 L161.1,424.7 L161.9,424.8 L162.7,424.9 L163.3,425.0 L163.5,425.0 L164.3,425.1 L165.1,425.2 L165.9,425.3 L166.7,425.3 L167.5,425.4 L168.3,425.5 L169.1,425.5 L169.9,425.6 L170.7,425.7 L171.5,425.7 L172.3,425.8 L173.1,425.8 L173.9,425.9 L174.7,425.9 L175.5,426.0 L176.3,426.0 L177.1,426.1 L177.9,426.1 L178.7,426.2 L179.5,426.2 L180.3,426.3 L181.1,426.3 L181.9,426.4 L182.7,426.4 L183.5,426.5 L184.3,426.5 L185.1,426.6 L185.9,426.6 L186.6,426.7 L186.7,426.7 L187.5,426.8 L188.3,426.8 L189.1,426.9 L189.9,427.0 L190.7,427.1 L191.5,427.1 L192.3,427.2 L193.1,427.3 L193.9,427.4 L194.7,427.5 L195.5,427.5 L196.3,427.6 L197.1,427.7 L197.9,427.8 L198.7,427.8 L199.5,427.9 L200.3,427.9 L201.1,428.0 L201.9,428.0 L202.7,428.1 L203.5,428.1 L204.3,428.1 L205.1,428.1 L205.2,428.1 L205.9,428.1 L206.7,428.1 L207.5,428.1 L208.3,428.1 L209.1,428.1 L209.9,428.0 L210.7,428.0 L211.5,428.0 L212.3,428.0 L213.1,427.9 L213.9,427.9 L214.7,427.9 L215.5,427.8 L216.3,427.8 L217.1,427.7 L217.9,427.7 L218.7,427.6 L219.5,427.6 L220.3,427.5 L221.1,427.4 L221.5,427.4 L221.9,427.4 L222.7,427.2 L223.5,426.9 L224.3,426.6 L225.1,426.2 L225.9,425.7 L226.7,425.3 L227.5,424.7 L228.3,424.2 L229.1,423.7 L229.9,423.3 L230.7,422.8 L230.9,422.7 L231.5,422.4 L232.3,422.0 L233.1,421.7 L233.9,421.3 L234.7,420.9 L235.5,420.4 L236.0,420.0 L236.3,419.8 L237.1,418.9 L237.9,417.9 L238.7,416.8 L239.5,415.5 L240.3,414.1 L241.1,412.6 L241.9,411.1 L242.7,409.6 L243.0,409.0 L243.5,408.0 L244.3,406.4 L245.1,404.6 L245.9,402.7 L246.7,400.7 L247.5,398.8 L248.3,396.9 L249.1,395.0 L249.9,393.2 L250.0,393.0 L250.7,391.5 L251.5,389.7 L252.3,387.9 L253.1,386.1 L253.9,384.5 L254.7,383.0 L255.5,381.7 L256.0,381.0 L256.3,380.6 L257.1,379.6 L257.9,379.0 L258.0,379.0 L258.7,378.9 L259.5,378.8 L260.2,378.7 L260.3,378.7 L261.1,379.3 L261.9,380.0 L262.4,380.2 L262.7,380.2 L263.5,380.2 L264.3,380.1 L264.6,380.1 L265.1,379.8 L265.9,378.7 L266.7,378.0 L266.8,378.0 L267.5,378.1 L268.3,378.4 L269.0,378.7 L269.1,378.8 L269.9,379.2 L270.7,379.7 L271.2,380.1 L271.5,380.6 L272.3,383.0 L273.1,385.1 L273.4,385.3 L273.9,385.3 L274.7,385.0 L275.5,384.6 L275.6,384.5 L276.3,383.8 L277.1,382.6 L277.8,382.2 L277.9,382.2 L278.7,383.1 L279.5,384.4 L280.0,384.8 L280.3,384.7 L281.1,384.1 L281.9,383.6 L282.2,383.5 L282.7,383.8 L283.5,384.8 L284.3,385.5 L284.4,385.5 L285.1,385.4 L285.9,385.2 L286.6,385.1 L286.7,385.1 L287.5,385.6 L288.3,386.5 L288.8,386.9 L289.1,387.1 L289.9,387.5 L290.7,387.8 L291.0,387.8 L291.5,387.6 L292.3,387.0 L293.1,386.5 L293.2,386.5 L293.9,386.5 L294.7,386.6 L295.4,386.6 L295.5,386.6 L296.3,387.2 L297.1,388.1 L297.6,388.6 L297.9,388.8 L298.7,389.5 L299.5,389.9 L299.8,390.0 L300.3,389.9 L301.1,389.5 L301.9,389.2 L302.0,389.2 L302.7,389.3 L303.5,389.3 L304.2,389.4 L304.3,389.5 L305.1,389.7 L305.9,389.9 L306.4,390.0 L306.7,389.8 L307.5,388.0 L308.3,386.2 L308.6,386.0 L309.1,386.1 L309.9,386.7 L310.7,387.1 L310.8,387.1 L311.5,386.8 L312.3,386.0 L313.0,385.6 L313.1,385.6 L313.9,385.9 L314.7,386.2 L315.2,386.3 L315.5,386.2 L316.3,385.5 L317.1,384.6 L317.4,384.3 L317.9,383.9 L318.7,383.3 L319.5,382.9 L319.6,382.9 L320.3,382.7 L321.1,382.6 L321.8,382.5 L321.9,382.4 L322.7,382.1 L323.5,381.8 L324.0,381.7 L324.3,381.8 L325.1,383.0 L325.9,384.5 L326.2,385.0 L326.7,385.7 L327.5,386.8 L328.3,387.7 L328.4,387.8 L329.1,388.3 L329.9,388.7 L330.6,388.9 L330.7,388.9 L331.5,388.3 L332.3,387.6 L332.8,387.4 L333.1,387.5 L333.9,388.8 L334.7,390.1 L335.0,390.3 L335.5,390.1 L336.3,389.4 L337.1,388.6 L337.2,388.5 L337.9,387.9 L338.7,387.1 L339.4,386.8 L339.5,386.8 L340.3,387.3 L341.1,388.0 L341.6,388.3 L341.9,388.3 L342.7,388.4 L343.5,388.5 L343.8,388.6 L344.3,388.9 L345.1,390.0 L345.9,391.3 L346.0,391.5 L346.7,392.4 L347.5,393.5 L348.2,394.4 L348.3,394.5 L349.1,395.6 L349.9,396.6 L350.4,396.8 L350.7,396.7 L351.5,396.2 L352.3,395.6 L352.6,395.4 L353.1,395.2 L353.9,394.8 L354.7,394.7 L354.8,394.7 L355.5,395.0 L356.3,396.1 L357.0,397.0 L357.1,397.1 L357.9,398.4 L358.7,399.6 L359.2,399.9 L359.5,399.8 L360.3,398.9 L361.1,398.1 L361.4,398.0 L361.9,398.3 L362.7,399.3 L363.5,400.0 L363.6,400.1 L364.3,400.1 L365.1,400.1 L365.8,400.1 L365.9,400.1 L366.7,400.9 L367.5,402.3 L368.0,402.9 L368.3,403.2 L369.1,403.9 L369.9,404.5 L370.2,404.8 L370.7,405.5 L371.5,406.7 L372.3,407.7 L372.4,407.7 L373.1,408.1 L373.9,408.3 L374.6,408.7 L374.7,408.8 L375.5,411.0 L376.3,414.5 L376.8,416.3 L377.1,417.1 L377.9,419.1 L378.7,421.0 L379.0,421.9 L379.5,423.4 L380.3,426.2 L381.1,428.8 L381.2,429.1 L381.9,431.3 L382.7,433.7 L383.4,434.9 L383.5,435.0 L384.3,435.3 L385.1,435.6 L385.6,435.9 L385.9,436.2 L386.7,437.4 L387.5,439.1 L387.8,439.9 L388.3,441.4 L389.1,444.5 L389.9,447.5 L390.0,447.8 L390.7,449.7 L391.5,451.6 L392.2,453.2 L392.3,453.4 L393.1,454.9 L393.9,456.5 L394.4,457.7 L394.7,458.6 L395.5,461.9 L396.3,465.4 L396.6,466.4 L397.1,468.1 L397.9,470.6 L398.7,471.9 L398.8,472.0 L399.5,472.0 L400.3,472.0 L401.0,472.0 L401.1,472.0 L401.9,473.9 L402.6,478.8 L402.7,483.4 L402.9,494.8 L403.5,494.9 L404.3,495.1 L405.1,495.3 L405.9,495.4 L406.7,495.5 L407.5,495.7 L408.3,495.8 L409.1,495.9 L409.9,496.0 L410.7,496.1 L411.5,496.1 L412.3,496.2 L413.1,496.3 L413.9,496.3 L414.7,496.4 L415.5,496.4 L416.3,496.5 L417.1,496.5 L417.9,496.6 L418.7,496.6 L419.5,496.6 L420.3,496.6 L421.1,496.7 L421.9,496.7 L422.7,496.7 L423.5,496.7 L424.3,496.7 L425.1,496.7 L425.9,496.7 L426.7,496.8 L427.5,496.8 L428.3,496.8 L429.1,496.8 L429.3,496.8 L429.9,496.8 L430.7,496.8 L431.5,496.8 L432.3,496.9 L433.1,496.9 L433.9,496.9 L434.7,496.9 L435.5,496.9 L436.3,496.9 L437.1,496.9 L437.9,497.0 L438.7,497.0 L439.5,497.0 L440.3,497.0 L441.1,497.0 L441.9,497.0 L442.7,497.0 L443.5,497.0 L444.3,497.1 L445.1,497.1 L445.9,497.1 L446.7,497.1 L447.5,497.1 L448.3,497.1 L449.1,497.1 L449.9,497.1 L450.7,497.1 L451.5,497.2 L452.3,497.2 L453.1,497.2 L453.9,497.2 L454.7,497.2 L455.5,497.2 L456.3,497.2 L457.1,497.2 L457.9,497.2 L458.7,497.2 L459.5,497.3 L460.3,497.3 L461.1,497.3 L461.9,497.3 L462.7,497.3 L463.5,497.3 L464.3,497.3 L465.1,497.3 L465.9,497.3 L466.7,497.3 L467.5,497.3 L468.3,497.3 L469.1,497.3 L469.9,497.4 L470.7,497.4 L471.5,497.4 L472.3,497.4 L473.1,497.4 L473.9,497.4 L474.7,497.4 L475.5,497.4 L476.3,497.4 L477.1,497.4 L477.9,497.4 L478.7,497.4 L479.5,497.4 L480.3,497.4 L481.1,497.4 L481.9,497.4 L482.7,497.4 L483.5,497.4 L484.3,497.5 L485.1,497.5 L485.9,497.5 L486.7,497.5 L487.5,497.5 L488.3,497.5 L489.1,497.5 L489.9,497.5 L490.7,497.5 L491.5,497.5 L492.3,497.5 L493.1,497.5 L493.9,497.5 L494.7,497.5 L495.5,497.5 L496.3,497.5 L497.1,497.5 L497.9,497.5 L498.7,497.5 L499.5,497.5 L500.3,497.5 L501.1,497.5 L501.9,497.5 L502.7,497.5 L503.5,497.5 L504.3,497.5 L504.5,497.5" stroke="#1f77b4"/>
<path d="M101.2,560.0 L101.3,440.0 L101.6,418.7 L102.0,415.9 L102.8,411.8 L103.6,409.4 L104.4,408.0 L105.2,407.2 L105.6,406.9 L106.0,406.6 L106.8,405.9 L107.6,405.4 L108.4,405.1 L109.2,404.9 L109.5,404.9 L110.0,405.1 L110.8,406.1 L111.6,407.6 L112.4,409.1 L113.2,410.5 L113.5,410.8 L114.0,411.3 L114.8,412.1 L115.6,412.9 L116.4,413.6 L117.2,414.1 L118.0,414.4 L118.4,414.4 L118.8,414.3 L119.6,413.3 L120.4,412.0 L121.2,411.0 L121.7,410.8 L122.0,411.1 L122.8,413.5 L123.6,416.5 L124.3,417.7 L124.4,417.7 L125.2,417.6 L126.0,417.4 L126.8,417.2 L127.6,416.9 L128.4,416.5 L129.2,416.2 L130.0,416.0 L130.0,416.0 L130.8,415.8 L131.6,415.6 L132.4,415.3 L133.2,415.1 L134.0,415.0 L134.8,414.8 L135.2,414.8 L135.6,414.8 L136.4,414.7 L137.2,414.7 L138.0,414.6 L138.8,414.6 L139.6,414.6 L140.0,414.6 L140.4,414.6 L141.2,414.6 L142.0,414.6 L142.8,414.7 L143.6,414.7 L144.4,414.8 L145.2,414.9 L146.0,415.0 L146.8,415.1 L147.6,415.2 L148.4,415.3 L149.2,415.4 L150.0,415.6 L150.8,415.7 L151.6,415.8 L152.4,416.0 L153.2,416.1 L154.0,416.3 L154.8,416.5 L155.6,416.6 L156.4,416.8 L157.2,416.9 L158.0,417.1 L158.8,417.3 L159.6,417.4 L160.4,417.6 L161.2,417.7 L162.0,417.9 L162.8,418.0 L163.3,418.1 L163.6,418.2 L164.4,418.3 L165.2,418.4 L166.0,418.6 L166.8,418.7 L167.6,418.9 L168.4,419.0 L169.2,419.2 L170.0,419.3 L170.8,419.5 L171.6,419.6 L172.4,419.8 L173.2,419.9 L174.0,420.1 L174.8,420.2 L175.6,420.4 L176.4,420.5 L177.2,420.7 L178.0,420.9 L178.8,421.0 L179.6,421.2 L180.4,421.4 L181.2,421.5 L182.0,421.7 L182.8,421.9 L183.6,422.0 L184.4,422.2 L185.2,422.4 L186.0,422.6 L186.6,422.7 L186.8,422.7 L187.6,422.9 L188.4,423.1 L189.2,423.3 L190.0,423.5 L190.8,423.7 L191.6,423.9 L192.4,424.1 L193.2,424.3 L194.0,424.5 L194.8,424.7 L195.6,424.9 L196.4,425.1 L197.2,425.3 L198.0,425.6 L198.8,425.8 L199.6,426.0 L200.4,426.2 L201.2,426.4 L202.0,426.6 L202.8,426.8 L203.6,427.0 L204.4,427.2 L205.2,427.4 L206.0,427.6 L206.8,427.8 L207.6,428.0 L208.4,428.2 L209.2,428.3 L209.9,428.5 L210.0,428.5 L210.8,428.7 L211.6,428.9 L212.4,429.1 L213.2,429.3 L214.0,429.5 L214.8,429.7 L215.6,429.9 L216.4,430.1 L217.2,430.3 L218.0,430.5 L218.8,430.7 L219.6,430.8 L220.4,431.0 L221.2,431.1 L222.0,431.3 L222.8,431.4 L223.6,431.5 L224.4,431.5 L225.2,431.6 L226.0,431.6 L226.2,431.6 L226.8,431.5 L227.6,431.0 L228.4,430.3 L229.2,429.4 L230.0,428.5 L230.8,427.5 L230.9,427.4 L231.6,426.3 L232.4,424.9 L233.0,424.5 L233.2,424.5 L234.0,424.7 L234.8,424.9 L235.5,425.0 L235.6,425.0 L236.4,424.4 L237.2,423.1 L238.0,421.3 L238.8,419.1 L239.6,416.8 L240.4,414.5 L241.2,412.6 L241.4,412.2 L242.0,411.0 L242.8,409.6 L243.6,408.2 L244.4,406.8 L245.2,405.5 L246.0,404.2 L246.8,402.8 L247.6,401.4 L248.4,399.9 L249.2,398.3 L249.6,397.4 L250.0,396.5 L250.8,394.2 L251.6,391.7 L252.4,389.0 L253.2,386.5 L254.0,384.3 L254.8,382.6 L255.4,381.8 L255.6,381.6 L256.4,380.9 L257.2,380.3 L258.0,379.8 L258.8,379.5 L259.5,379.4 L259.6,379.4 L260.4,379.7 L261.2,380.1 L262.0,380.5 L262.0,380.5 L262.8,380.9 L263.6,381.2 L264.2,381.3 L264.4,381.3 L265.2,380.3 L266.0,379.2 L266.4,378.9 L266.8,378.8 L267.6,378.7 L268.4,378.6 L268.6,378.6 L269.2,379.1 L270.0,381.0 L270.8,382.7 L270.8,382.7 L271.6,384.1 L272.4,385.4 L273.0,386.0 L273.2,386.2 L274.0,386.7 L274.8,387.1 L275.2,387.1 L275.6,387.0 L276.4,385.9 L277.2,384.9 L277.4,384.7 L278.0,384.4 L278.8,383.9 L279.6,383.8 L279.6,383.8 L280.4,384.3 L281.2,385.2 L281.8,385.7 L282.0,385.8 L282.8,386.0 L283.6,386.2 L284.0,386.3 L284.4,386.3 L285.2,386.4 L286.0,386.5 L286.2,386.6 L286.8,386.8 L287.6,387.4 L288.4,387.7 L288.4,387.7 L289.2,387.4 L290.0,387.0 L290.6,386.8 L290.8,386.8 L291.6,388.0 L292.4,389.2 L292.8,389.5 L293.2,389.4 L294.0,389.2 L294.8,389.1 L295.0,389.1 L295.6,389.3 L296.4,389.9 L297.2,390.3 L297.2,390.3 L298.0,390.4 L298.8,390.5 L299.4,390.6 L299.6,390.6 L300.4,391.0 L301.2,391.4 L301.6,391.5 L302.0,391.7 L302.8,391.9 L303.6,392.1 L303.8,392.1 L304.4,391.9 L305.2,391.4 L306.0,391.2 L306.0,391.2 L306.8,391.2 L307.6,391.2 L308.2,391.2 L308.4,391.2 L309.2,390.7 L310.0,389.9 L310.4,389.6 L310.8,389.3 L311.6,388.8 L312.4,388.3 L312.6,388.2 L313.2,388.0 L314.0,387.7 L314.8,387.3 L314.8,387.3 L315.6,386.7 L316.4,386.0 L317.0,385.5 L317.2,385.4 L318.0,384.8 L318.8,384.3 L319.2,384.3 L319.6,384.2 L320.4,384.2 L321.2,384.2 L321.4,384.2 L322.0,384.1 L322.8,383.8 L323.6,383.6 L323.6,383.6 L324.4,384.2 L325.2,385.4 L325.8,386.4 L326.0,386.7 L326.8,388.3 L327.6,389.8 L328.0,390.2 L328.4,390.4 L329.2,390.7 L330.0,390.8 L330.2,390.8 L330.8,390.4 L331.6,389.1 L332.4,388.3 L332.4,388.3 L333.2,388.8 L334.0,389.8 L334.6,390.4 L334.8,390.5 L335.6,390.9 L336.4,391.2 L336.8,391.2 L337.2,390.9 L338.0,389.2 L338.8,387.8 L339.0,387.7 L339.6,387.7 L340.4,387.7 L341.2,387.8 L341.2,387.8 L342.0,388.5 L342.8,389.8 L343.4,390.5 L343.6,390.6 L344.4,390.9 L345.2,391.1 L345.6,391.3 L346.0,391.7 L346.8,393.1 L347.6,394.7 L347.8,395.0 L348.4,396.2 L349.2,397.6 L350.0,398.5 L350.0,398.5 L350.8,398.7 L351.6,398.8 L352.2,398.8 L352.4,398.8 L353.2,398.1 L354.0,397.2 L354.4,397.1 L354.8,397.0 L355.6,397.0 L356.4,397.0 L356.6,397.0 L357.2,397.4 L358.0,398.6 L358.8,399.7 L358.8,399.7 L359.6,400.2 L360.4,400.6 L361.0,400.9 L361.2,401.0 L362.0,401.4 L362.8,401.7 L363.2,401.8 L363.6,401.8 L364.4,401.8 L365.2,401.8 L365.4,401.9 L366.0,402.0 L366.8,402.4 L367.6,402.9 L367.6,402.9 L368.4,403.6 L369.2,404.5 L369.8,405.2 L370.0,405.4 L370.8,406.3 L371.6,407.3 L372.0,407.9 L372.4,408.6 L373.2,410.0 L374.0,411.7 L374.2,412.2 L374.8,413.7 L375.6,416.1 L376.4,418.4 L376.4,418.4 L377.2,420.2 L378.0,422.0 L378.6,423.5 L378.8,424.2 L379.6,427.3 L380.4,430.7 L380.8,432.2 L381.2,433.7 L382.0,436.8 L382.8,438.7 L383.0,438.8 L383.6,438.9 L384.4,438.9 L385.2,438.9 L385.2,438.9 L386.0,439.0 L386.8,439.1 L387.4,439.3 L387.6,439.4 L388.4,441.5 L389.2,445.0 L389.6,446.8 L390.0,449.0 L390.8,454.6 L391.6,459.1 L391.8,459.6 L392.4,460.5 L393.2,461.2 L394.0,462.0 L394.0,462.0 L394.8,463.5 L395.6,465.2 L396.2,466.5 L396.4,466.9 L397.2,468.5 L398.0,470.3 L398.8,472.2 L399.6,473.9 L400.4,475.5 L401.2,476.8 L402.0,477.6 L402.6,478.0 L402.8,478.1 L403.6,478.3 L404.4,478.6 L405.2,478.8 L406.0,479.0 L406.8,479.2 L407.6,479.4 L408.4,479.5 L409.2,479.7 L410.0,479.8 L410.8,480.0 L411.6,480.1 L412.4,480.2 L413.2,480.3 L414.0,480.4 L414.8,480.5 L415.6,480.6 L416.4,480.7 L417.2,480.8 L418.0,480.9 L418.8,481.0 L419.6,481.0 L420.4,481.1 L421.2,481.2 L422.0,481.2 L422.8,481.3 L423.6,481.4 L424.4,481.5 L425.2,481.5 L426.0,481.6 L426.8,481.7 L427.6,481.8 L428.4,481.9 L429.2,482.0 L429.3,482.0 L430.0,482.1 L430.8,482.2 L431.6,482.3 L432.4,482.4 L433.2,482.5 L434.0,482.6 L434.8,482.8 L435.6,482.9 L436.4,483.0 L437.2,483.1 L438.0,483.2 L438.8,483.3 L439.6,483.4 L440.4,483.5 L441.2,483.6 L442.0,483.7 L442.8,483.8 L443.6,483.9 L444.4,484.0 L445.2,484.1 L446.0,484.2 L446.8,484.2 L447.6,484.3 L448.4,484.4 L449.2,484.4 L450.0,484.5 L450.0,484.5 L450.8,484.6 L451.6,484.6 L452.4,484.7 L453.2,484.7 L454.0,484.8 L454.8,484.8 L455.6,484.9 L456.4,485.0 L457.2,485.0 L458.0,485.1 L458.8,485.1 L459.6,485.2 L460.4,485.2 L461.2,485.3 L462.0,485.3 L462.8,485.4 L463.6,485.4 L464.4,485.5 L465.2,485.5 L466.0,485.6 L466.8,485.6 L467.6,485.7 L468.4,485.7 L469.2,485.8 L470.0,485.8 L470.8,485.9 L471.6,485.9 L472.4,486.0 L473.2,486.0 L474.0,486.1 L474.8,486.1 L475.6,486.1 L476.4,486.2 L477.2,486.2 L478.0,486.3 L478.8,486.3 L479.6,486.4 L480.4,486.4 L481.2,486.4 L482.0,486.5 L482.8,486.5 L483.6,486.5 L484.4,486.6 L485.2,486.6 L486.0,486.6 L486.8,486.7 L487.6,486.7 L488.4,486.7 L489.2,486.7 L490.0,486.8 L490.8,486.8 L491.6,486.8 L492.4,486.8 L493.2,486.9 L494.0,486.9 L494.8,486.9 L495.6,486.9 L496.4,486.9 L497.2,486.9 L498.0,487.0 L498.8,487.0 L499.6,487.0 L500.4,487.0 L501.2,487.0 L502.0,487.0 L502.8,487.0 L503.6,487.0 L504.4,487.0 L504.5,487.0" stroke="#ff7f0e"/>
<line x1="204.00" y1="328.20" x2="204.00" y2="554.90" stroke="#000" stroke-width="1.9"/>
<line x1="324.10" y1="328.20" x2="324.10" y2="554.90" stroke="#000" stroke-width="1.9"/>
</g>
<path d="M77.50,328.20 L504.50,328.20 M77.50,554.75 L504.50,554.75 M77.50,328.20 L77.50,554.75 M504.50,328.20 L504.50,554.75" fill="none" stroke="#000" stroke-width="1.1" stroke-linecap="square"/>
<line x1="83.60" y1="554.90" x2="83.60" y2="558.20" stroke="#000" stroke-width="0.9"/>
<text x="83.6" y="571.9" font-family="Liberation Sans, sans-serif" font-size="14.50" text-anchor="middle" fill="#000" stroke="#000" stroke-width="0.22" textLength="8.8" lengthAdjust="spacingAndGlyphs" >0</text>
<line x1="143.69" y1="554.90" x2="143.69" y2="558.20" stroke="#000" stroke-width="0.9"/>
<text x="143.7" y="571.9" font-family="Liberation Sans, sans-serif" font-size="14.50" text-anchor="middle" fill="#000" stroke="#000" stroke-width="0.22" textLength="8.8" lengthAdjust="spacingAndGlyphs" >1</text>
<line x1="203.78" y1="554.90" x2="203.78" y2="558.20" stroke="#000" stroke-width="0.9"/>
<text x="203.8" y="571.9" font-family="Liberation Sans, sans-serif" font-size="14.50" text-anchor="middle" fill="#000" stroke="#000" stroke-width="0.22" textLength="8.8" lengthAdjust="spacingAndGlyphs" >2</text>
<line x1="263.87" y1="554.90" x2="263.87" y2="558.20" stroke="#000" stroke-width="0.9"/>
<text x="263.9" y="571.9" font-family="Liberation Sans, sans-serif" font-size="14.50" text-anchor="middle" fill="#000" stroke="#000" stroke-width="0.22" textLength="8.8" lengthAdjust="spacingAndGlyphs" >3</text>
<line x1="323.96" y1="554.90" x2="323.96" y2="558.20" stroke="#000" stroke-width="0.9"/>
<text x="324.0" y="571.9" font-family="Liberation Sans, sans-serif" font-size="14.50" text-anchor="middle" fill="#000" stroke="#000" stroke-width="0.22" textLength="8.8" lengthAdjust="spacingAndGlyphs" >4</text>
<line x1="384.05" y1="554.90" x2="384.05" y2="558.20" stroke="#000" stroke-width="0.9"/>
<text x="384.1" y="571.9" font-family="Liberation Sans, sans-serif" font-size="14.50" text-anchor="middle" fill="#000" stroke="#000" stroke-width="0.22" textLength="8.8" lengthAdjust="spacingAndGlyphs" >5</text>
<line x1="444.14" y1="554.90" x2="444.14" y2="558.20" stroke="#000" stroke-width="0.9"/>
<text x="444.1" y="571.9" font-family="Liberation Sans, sans-serif" font-size="14.50" text-anchor="middle" fill="#000" stroke="#000" stroke-width="0.22" textLength="8.8" lengthAdjust="spacingAndGlyphs" >6</text>
<line x1="504.23" y1="554.90" x2="504.23" y2="558.20" stroke="#000" stroke-width="0.9"/>
<text x="504.2" y="571.9" font-family="Liberation Sans, sans-serif" font-size="14.50" text-anchor="middle" fill="#000" stroke="#000" stroke-width="0.22" textLength="8.8" lengthAdjust="spacingAndGlyphs" >7</text>
<line x1="74.20" y1="360.59" x2="77.70" y2="360.59" stroke="#000" stroke-width="0.9"/>
<text x="63.8" y="360.4" font-family="Liberation Sans, sans-serif" font-size="10.60" text-anchor="start" fill="#000" stroke="#000" stroke-width="0.22" textLength="6.4" lengthAdjust="spacingAndGlyphs" >5</text>
<text x="45.9" y="365.8" font-family="Liberation Sans, sans-serif" font-size="14.50" text-anchor="start" fill="#000" stroke="#000" stroke-width="0.22" textLength="17.4" lengthAdjust="spacingAndGlyphs" >10</text>
<line x1="74.20" y1="409.16" x2="77.70" y2="409.16" stroke="#000" stroke-width="0.9"/>
<text x="63.8" y="409.0" font-family="Liberation Sans, sans-serif" font-size="10.60" text-anchor="start" fill="#000" stroke="#000" stroke-width="0.22" textLength="6.4" lengthAdjust="spacingAndGlyphs" >2</text>
<text x="45.9" y="414.4" font-family="Liberation Sans, sans-serif" font-size="14.50" text-anchor="start" fill="#000" stroke="#000" stroke-width="0.22" textLength="17.4" lengthAdjust="spacingAndGlyphs" >10</text>
<line x1="74.20" y1="457.74" x2="77.70" y2="457.74" stroke="#000" stroke-width="0.9"/>
<text x="56.6" y="457.5" font-family="Liberation Sans, sans-serif" font-size="10.60" text-anchor="start" fill="#000" stroke="#000" stroke-width="0.22" textLength="13.6" lengthAdjust="spacingAndGlyphs" >−1</text>
<text x="38.7" y="462.9" font-family="Liberation Sans, sans-serif" font-size="14.50" text-anchor="start" fill="#000" stroke="#000" stroke-width="0.22" textLength="17.4" lengthAdjust="spacingAndGlyphs" >10</text>
<line x1="74.20" y1="506.32" x2="77.70" y2="506.32" stroke="#000" stroke-width="0.9"/>
<text x="56.6" y="506.1" font-family="Liberation Sans, sans-serif" font-size="10.60" text-anchor="start" fill="#000" stroke="#000" stroke-width="0.22" textLength="13.6" lengthAdjust="spacingAndGlyphs" >−4</text>
<text x="38.7" y="511.5" font-family="Liberation Sans, sans-serif" font-size="14.50" text-anchor="start" fill="#000" stroke="#000" stroke-width="0.22" textLength="17.4" lengthAdjust="spacingAndGlyphs" >10</text>
<line x1="74.20" y1="554.90" x2="77.70" y2="554.90" stroke="#000" stroke-width="0.9"/>
<text x="56.6" y="554.7" font-family="Liberation Sans, sans-serif" font-size="10.60" text-anchor="start" fill="#000" stroke="#000" stroke-width="0.22" textLength="13.6" lengthAdjust="spacingAndGlyphs" >−7</text>
<text x="38.7" y="560.1" font-family="Liberation Sans, sans-serif" font-size="14.50" text-anchor="start" fill="#000" stroke="#000" stroke-width="0.22" textLength="17.4" lengthAdjust="spacingAndGlyphs" >10</text>
<text x="91.6" y="353.1" font-family="Liberation Sans, sans-serif" font-size="17.60" text-anchor="start" fill="#000" stroke="#000" stroke-width="0.22" textLength="22.6" lengthAdjust="spacingAndGlyphs" >(b)</text>
<text x="247.8" y="591.2" font-family="Liberation Sans, sans-serif" font-size="17.7" fill="#000" stroke="#000" stroke-width="0.22" textLength="85.5" lengthAdjust="spacingAndGlyphs">time (<tspan font-style="italic">ms</tspan>)</text>
<text transform="translate(29.0,441.5) rotate(-90)" x="-101.8" y="0" font-family="Liberation Sans, sans-serif" font-size="17.7" fill="#000" stroke="#000" stroke-width="0.22" textLength="203.6" lengthAdjust="spacingAndGlyphs">Magnetic energy (a.u.)</text>
<rect x="205.8" y="433.3" width="170.9" height="114.6" rx="3" ry="3" fill="#ffffff" fill-opacity="0.8" stroke="#cccccc" stroke-width="1.1"/>
<line x1="210.4" y1="445.7" x2="237.0" y2="445.7" stroke="#1f77b4" stroke-width="2.05"/>
<text x="246.6" y="450.1" font-family="Liberation Sans, sans-serif" font-size="12.20" text-anchor="start" fill="#000" stroke="#000" stroke-width="0.08" textLength="28.6" lengthAdjust="spacingAndGlyphs" >n= 1</text>
<line x1="210.4" y1="463.8" x2="237.0" y2="463.8" stroke="#ff7f0e" stroke-width="2.05"/>
<text x="246.6" y="468.2" font-family="Liberation Sans, sans-serif" font-size="12.20" text-anchor="start" fill="#000" stroke="#000" stroke-width="0.08" textLength="28.6" lengthAdjust="spacingAndGlyphs" >n= 2</text>
<line x1="210.4" y1="481.9" x2="237.0" y2="481.9" stroke="#2ca02c" stroke-width="2.05"/>
<text x="246.6" y="486.3" font-family="Liberation Sans, sans-serif" font-size="12.20" text-anchor="start" fill="#000" stroke="#000" stroke-width="0.08" textLength="28.6" lengthAdjust="spacingAndGlyphs" >n= 3</text>
<line x1="210.4" y1="500.0" x2="237.0" y2="500.0" stroke="#d62728" stroke-width="2.05"/>
<text x="246.6" y="504.4" font-family="Liberation Sans, sans-serif" font-size="12.20" text-anchor="start" fill="#000" stroke="#000" stroke-width="0.08" textLength="28.6" lengthAdjust="spacingAndGlyphs" >n= 4</text>
<line x1="210.4" y1="518.1" x2="237.0" y2="518.1" stroke="#9467bd" stroke-width="2.05"/>
<text x="246.6" y="522.5" font-family="Liberation Sans, sans-serif" font-size="12.20" text-anchor="start" fill="#000" stroke="#000" stroke-width="0.08" textLength="28.6" lengthAdjust="spacingAndGlyphs" >n= 5</text>
<line x1="210.4" y1="536.2" x2="237.0" y2="536.2" stroke="#8c564b" stroke-width="2.05"/>
<text x="246.6" y="540.6" font-family="Liberation Sans, sans-serif" font-size="12.20" text-anchor="start" fill="#000" stroke="#000" stroke-width="0.08" textLength="28.6" lengthAdjust="spacingAndGlyphs" >n= 6</text>
<line x1="301.2" y1="445.7" x2="327.8" y2="445.7" stroke="#e377c2" stroke-width="2.05"/>
<text x="337.4" y="450.1" font-family="Liberation Sans, sans-serif" font-size="12.20" text-anchor="start" fill="#000" stroke="#000" stroke-width="0.08" textLength="28.6" lengthAdjust="spacingAndGlyphs" >n= 7</text>
<line x1="301.2" y1="463.8" x2="327.8" y2="463.8" stroke="#7f7f7f" stroke-width="2.05"/>
<text x="337.4" y="468.2" font-family="Liberation Sans, sans-serif" font-size="12.20" text-anchor="start" fill="#000" stroke="#000" stroke-width="0.08" textLength="28.6" lengthAdjust="spacingAndGlyphs" >n= 8</text>
<line x1="301.2" y1="481.9" x2="327.8" y2="481.9" stroke="#bcbd22" stroke-width="2.05"/>
<text x="337.4" y="486.3" font-family="Liberation Sans, sans-serif" font-size="12.20" text-anchor="start" fill="#000" stroke="#000" stroke-width="0.08" textLength="28.6" lengthAdjust="spacingAndGlyphs" >n= 9</text>
<line x1="301.2" y1="500.0" x2="327.8" y2="500.0" stroke="#17becf" stroke-width="2.05"/>
<text x="337.4" y="504.4" font-family="Liberation Sans, sans-serif" font-size="12.20" text-anchor="start" fill="#000" stroke="#000" stroke-width="0.08" textLength="34.2" lengthAdjust="spacingAndGlyphs" >n=10</text>
<line x1="301.2" y1="518.1" x2="327.8" y2="518.1" stroke="#1f77b4" stroke-width="2.05"/>
<text x="337.4" y="522.5" font-family="Liberation Sans, sans-serif" font-size="12.20" text-anchor="start" fill="#000" stroke="#000" stroke-width="0.08" textLength="34.2" lengthAdjust="spacingAndGlyphs" >n=11</text>
<line x1="301.2" y1="536.2" x2="327.8" y2="536.2" stroke="#ff7f0e" stroke-width="2.05"/>
<text x="337.4" y="540.6" font-family="Liberation Sans, sans-serif" font-size="12.20" text-anchor="start" fill="#000" stroke="#000" stroke-width="0.08" textLength="34.2" lengthAdjust="spacingAndGlyphs" >n=12</text>
<path d="M83.5,37.20 L84.0,36.19 L84.5,35.20 L85.0,34.28 L85.5,33.43 L86.0,32.68 L86.5,32.03 L87.0,31.48 L87.5,31.01 L88.0,30.63 L88.5,30.32 L89.0,30.07 L89.5,29.87 L90.0,29.71 L90.5,29.58 L91.0,29.47 L91.5,29.38 L92.0,29.31 L92.5,29.26 L93.0,29.21 L93.5,29.17 L94.0,29.14 L94.5,29.11 L95.0,29.08 L95.5,29.06 L96.0,29.04 L96.5,29.03 L97.0,29.01 L97.5,29.00 L98.0,28.98 L98.5,28.97 L99.0,28.96 L99.5,28.95 L100.0,28.94 L100.5,28.93 L101.0,28.92 L101.5,28.91 L102.0,28.90 L102.5,28.89 L103.0,28.88 L103.5,28.87 L104.0,28.86 L104.5,28.85 L105.0,28.84 L105.5,28.83 L106.0,28.83 L106.5,28.82 L107.0,28.81 L107.5,28.80 L108.0,28.79 L108.5,28.78 L109.0,28.77 L109.5,28.76 L110.0,28.76 L110.5,28.75 L111.0,28.74 L111.5,28.73 L112.0,28.71 L112.5,28.70 L113.0,28.69 L113.5,28.68 L114.0,28.67 L114.5,28.65 L115.0,28.64 L115.5,28.62 L116.0,28.61 L116.5,28.59 L117.0,28.57 L117.5,28.56 L118.0,28.53 L118.5,28.51 L119.0,28.49 L119.5,28.47 L120.0,28.44 L120.5,28.41 L121.0,28.38 L121.5,28.35 L122.0,28.31 L122.5,28.28 L123.0,28.24 L123.5,28.19 L124.0,28.15 L124.5,28.10 L125.0,28.04 L125.5,27.99 L126.0,27.92 L126.5,27.86 L127.0,27.79 L127.5,27.71 L128.0,27.63 L128.5,27.54 L129.0,27.45 L129.5,27.34 L130.0,27.24 L130.5,27.12 L131.0,27.00 L131.5,26.86 L132.0,26.72 L132.5,26.57 L133.0,26.41 L133.5,26.24 L134.0,26.06 L134.5,25.87 L135.0,25.67 L135.5,25.45 L136.0,25.22 L136.5,24.99 L137.0,24.73 L137.5,24.47 L138.0,24.19 L138.5,23.90 L139.0,23.60 L139.5,23.28 L140.0,22.96 L140.5,22.62 L141.0,22.26 L141.5,21.90 L142.0,21.53 L142.5,21.15 L143.0,20.76 L143.5,20.36 L144.0,19.96 L144.5,19.55 L145.0,19.14 L145.5,18.73 L146.0,18.31 L146.5,18.73 L147.0,19.15 L147.5,19.56 L148.0,19.97 L148.5,20.37 L149.0,20.77 L149.5,21.16 L150.0,21.54 L150.5,21.91 L151.0,22.27 L151.5,22.62 L152.0,22.96 L152.5,23.29 L153.0,23.61 L153.5,23.91 L154.0,24.20 L154.5,24.48 L155.0,24.74 L155.5,25.00 L156.0,25.24 L156.5,25.46 L157.0,25.68 L157.5,25.88 L158.0,26.07 L158.5,26.26 L159.0,26.43 L159.5,26.59 L160.0,26.74 L160.5,26.88 L161.0,27.01 L161.5,27.14 L162.0,27.25 L162.5,27.36 L163.0,27.46 L163.5,27.56 L164.0,27.65 L164.5,27.73 L165.0,27.81 L165.5,27.88 L166.0,27.94 L166.5,28.01 L167.0,28.07 L167.5,28.12 L168.0,28.17 L168.5,28.22 L169.0,28.26 L169.5,28.30 L170.0,28.34 L170.5,28.38 L171.0,28.41 L171.5,28.44 L172.0,28.47 L172.5,28.50 L173.0,28.52 L173.5,28.55 L174.0,28.57 L174.5,28.59 L175.0,28.61 L175.5,28.63 L176.0,28.65 L176.5,28.67 L177.0,28.69 L177.5,28.70 L178.0,28.72 L178.5,28.73 L179.0,28.75 L179.5,28.76 L180.0,28.77 L180.5,28.78 L181.0,28.80 L181.5,28.81 L182.0,28.82 L182.5,28.83 L183.0,28.85 L183.5,28.86 L184.0,28.87 L184.5,28.88 L185.0,28.89 L185.5,28.90 L186.0,28.92 L186.5,28.93 L187.0,28.94 L187.5,28.96 L188.0,28.97 L188.5,28.98 L189.0,29.00 L189.5,29.02 L190.0,29.04 L190.5,29.06 L191.0,29.08 L191.5,29.11 L192.0,29.14 L192.5,29.17 L193.0,29.21 L193.5,29.26 L194.0,29.32 L194.5,29.39 L195.0,29.48 L195.5,29.59 L196.0,29.73 L196.5,29.90 L197.0,30.11 L197.5,30.38 L198.0,30.70 L198.5,31.10 L199.0,31.58 L199.5,32.15 L200.0,32.82 L200.5,33.59 L201.0,34.45 L201.5,35.40 L202.0,36.39 L202.4,37.20" fill="none" stroke="#000" stroke-width="1.5" stroke-linecap="round" stroke-linejoin="round"/>
<path d="M202.4,37.20 L202.9,36.19 L203.4,35.20 L203.9,34.28 L204.4,33.43 L204.9,32.68 L205.4,32.03 L205.9,31.48 L206.4,31.01 L206.9,30.63 L207.4,30.32 L207.9,30.07 L208.4,29.87 L208.9,29.71 L209.4,29.58 L209.9,29.47 L210.4,29.38 L210.9,29.31 L211.4,29.26 L211.9,29.21 L212.4,29.17 L212.9,29.14 L213.4,29.11 L213.9,29.08 L214.4,29.06 L214.9,29.04 L215.4,29.03 L215.9,29.01 L216.4,29.00 L216.9,28.98 L217.4,28.97 L217.9,28.96 L218.4,28.95 L218.9,28.94 L219.4,28.93 L219.9,28.92 L220.4,28.91 L220.9,28.90 L221.4,28.89 L221.9,28.88 L222.4,28.87 L222.9,28.86 L223.4,28.85 L223.9,28.84 L224.4,28.84 L224.9,28.83 L225.4,28.82 L225.9,28.81 L226.4,28.80 L226.9,28.79 L227.4,28.78 L227.9,28.78 L228.4,28.77 L228.9,28.76 L229.4,28.75 L229.9,28.74 L230.4,28.73 L230.9,28.72 L231.4,28.71 L231.9,28.70 L232.4,28.68 L232.9,28.67 L233.4,28.66 L233.9,28.64 L234.4,28.63 L234.9,28.61 L235.4,28.60 L235.9,28.58 L236.4,28.56 L236.9,28.54 L237.4,28.52 L237.9,28.50 L238.4,28.47 L238.9,28.45 L239.4,28.42 L239.9,28.39 L240.4,28.36 L240.9,28.33 L241.4,28.29 L241.9,28.25 L242.4,28.21 L242.9,28.16 L243.4,28.12 L243.9,28.06 L244.4,28.01 L244.9,27.95 L245.4,27.88 L245.9,27.81 L246.4,27.74 L246.9,27.66 L247.4,27.58 L247.9,27.48 L248.4,27.39 L248.9,27.28 L249.4,27.17 L249.9,27.05 L250.4,26.92 L250.9,26.78 L251.4,26.63 L251.9,26.48 L252.4,26.31 L252.9,26.14 L253.4,25.95 L253.9,25.75 L254.4,25.54 L254.9,25.32 L255.4,25.08 L255.9,24.84 L256.4,24.58 L256.9,24.30 L257.4,24.02 L257.9,23.72 L258.4,23.41 L258.9,23.09 L259.4,22.75 L259.9,22.41 L260.4,22.05 L260.9,21.68 L261.4,21.30 L261.9,20.92 L262.4,20.52 L262.9,20.12 L263.4,19.72 L263.9,19.31 L264.4,18.90 L264.9,18.48 L265.1,18.31 L265.4,18.56 L265.9,18.98 L266.4,19.39 L266.9,19.80 L267.4,20.21 L267.9,20.61 L268.4,21.00 L268.9,21.39 L269.4,21.76 L269.9,22.13 L270.4,22.48 L270.9,22.83 L271.4,23.16 L271.9,23.48 L272.4,23.79 L272.9,24.09 L273.4,24.37 L273.9,24.64 L274.4,24.90 L274.9,25.14 L275.4,25.37 L275.9,25.59 L276.4,25.80 L276.9,26.00 L277.4,26.18 L277.9,26.36 L278.4,26.52 L278.9,26.68 L279.4,26.82 L279.9,26.96 L280.4,27.09 L280.9,27.21 L281.4,27.32 L281.9,27.42 L282.4,27.52 L282.9,27.61 L283.4,27.70 L283.9,27.78 L284.4,27.85 L284.9,27.92 L285.4,27.98 L285.9,28.04 L286.4,28.10 L286.9,28.15 L287.4,28.20 L287.9,28.24 L288.4,28.29 L288.9,28.33 L289.4,28.36 L289.9,28.40 L290.4,28.43 L290.9,28.46 L291.4,28.49 L291.9,28.51 L292.4,28.54 L292.9,28.56 L293.4,28.59 L293.9,28.61 L294.4,28.63 L294.9,28.64 L295.4,28.66 L295.9,28.68 L296.4,28.70 L296.9,28.71 L297.4,28.73 L297.9,28.74 L298.4,28.75 L298.9,28.77 L299.4,28.78 L299.9,28.79 L300.4,28.80 L300.9,28.82 L301.4,28.83 L301.9,28.84 L302.4,28.85 L302.9,28.86 L303.4,28.88 L303.9,28.89 L304.4,28.90 L304.9,28.91 L305.4,28.92 L305.9,28.94 L306.4,28.95 L306.9,28.96 L307.4,28.98 L307.9,28.99 L308.4,29.01 L308.9,29.03 L309.4,29.05 L309.9,29.07 L310.4,29.09 L310.9,29.12 L311.4,29.16 L311.9,29.19 L312.4,29.24 L312.9,29.30 L313.4,29.36 L313.9,29.45 L314.4,29.55 L314.9,29.67 L315.4,29.83 L315.9,30.02 L316.4,30.27 L316.9,30.56 L317.4,30.93 L317.9,31.37 L318.4,31.91 L318.9,32.54 L319.4,33.27 L319.9,34.10 L320.4,35.01 L320.9,35.99 L321.4,36.99 L321.5,37.20" fill="none" stroke="#000" stroke-width="1.5" stroke-linecap="round" stroke-linejoin="round"/>
<path d="M321.5,37.20 L322.0,36.19 L322.5,35.21 L323.0,34.28 L323.5,33.43 L324.0,32.68 L324.5,32.03 L325.0,31.48 L325.5,31.02 L326.0,30.64 L326.5,30.33 L327.0,30.07 L327.5,29.87 L328.0,29.71 L328.5,29.58 L329.0,29.47 L329.5,29.39 L330.0,29.32 L330.5,29.26 L331.0,29.21 L331.5,29.18 L332.0,29.14 L332.5,29.11 L333.0,29.09 L333.5,29.07 L334.0,29.05 L334.5,29.03 L335.0,29.02 L335.5,29.00 L336.0,28.99 L336.5,28.98 L337.0,28.97 L337.5,28.96 L338.0,28.95 L338.5,28.94 L339.0,28.93 L339.5,28.92 L340.0,28.91 L340.5,28.91 L341.0,28.90 L341.5,28.89 L342.0,28.89 L342.5,28.88 L343.0,28.87 L343.5,28.87 L344.0,28.86 L344.5,28.85 L345.0,28.85 L345.5,28.84 L346.0,28.84 L346.5,28.83 L347.0,28.83 L347.5,28.82 L348.0,28.82 L348.5,28.82 L349.0,28.81 L349.5,28.81 L350.0,28.80 L350.5,28.80 L351.0,28.80 L351.5,28.79 L352.0,28.79 L352.5,28.79 L353.0,28.78 L353.5,28.78 L354.0,28.78 L354.5,28.77 L355.0,28.77 L355.5,28.77 L356.0,28.77 L356.5,28.76 L357.0,28.76 L357.5,28.76 L358.0,28.76 L358.5,28.75 L359.0,28.75 L359.5,28.75 L360.0,28.75 L360.5,28.75 L361.0,28.74 L361.5,28.74 L362.0,28.74 L362.5,28.74 L363.0,28.74 L363.5,28.73 L364.0,28.73 L364.5,28.73 L365.0,28.73 L365.5,28.73 L366.0,28.72 L366.5,28.72 L367.0,28.72 L367.5,28.72 L368.0,28.72 L368.5,28.71 L369.0,28.71 L369.5,28.71 L370.0,28.71 L370.5,28.70 L371.0,28.70 L371.5,28.70 L372.0,28.70 L372.5,28.69 L373.0,28.69 L373.5,28.69 L374.0,28.68 L374.5,28.68 L375.0,28.68 L375.5,28.67 L376.0,28.67 L376.5,28.66 L377.0,28.66 L377.5,28.65 L378.0,28.65 L378.5,28.64 L379.0,28.63 L379.5,28.63 L380.0,28.62 L380.5,28.61 L381.0,28.60 L381.5,28.59 L382.0,28.58 L382.5,28.57 L383.0,28.56 L383.5,28.55 L384.0,28.53 L384.5,28.52 L385.0,28.50 L385.5,28.48 L386.0,28.46 L386.5,28.44 L387.0,28.42 L387.5,28.40 L388.0,28.37 L388.5,28.34 L389.0,28.31 L389.5,28.28 L390.0,28.25 L390.5,28.21 L391.0,28.17 L391.5,28.13 L392.0,28.08 L392.5,28.03 L393.0,27.97 L393.5,27.91 L394.0,27.85 L394.5,27.78 L395.0,27.71 L395.5,27.63 L396.0,27.55 L396.5,27.46 L397.0,27.36 L397.5,27.25 L398.0,27.14 L398.5,27.02 L399.0,26.90 L399.5,26.76 L400.0,26.61 L400.5,26.46 L401.0,26.29 L401.5,26.12 L402.0,25.93 L402.5,25.73 L403.0,25.52 L403.5,25.30 L404.0,25.07 L404.5,24.82 L405.0,24.56 L405.5,24.29 L406.0,24.00 L406.5,23.71 L407.0,23.40 L407.5,23.07 L408.0,22.74 L408.5,22.39 L409.0,22.04 L409.5,21.67 L410.0,21.29 L410.5,20.91 L411.0,20.51 L411.5,20.11 L412.0,19.71 L412.5,19.30 L413.0,18.88 L413.5,18.47 L413.7,18.30 L414.0,18.55 L414.5,18.97 L415.0,19.38 L415.5,19.79 L416.0,20.19 L416.5,20.59 L417.0,20.99 L417.5,21.37 L418.0,21.75 L418.5,22.11 L419.0,22.47 L419.5,22.81 L420.0,23.14 L420.5,23.46 L421.0,23.77 L421.5,24.06 L422.0,24.35 L422.5,24.61 L423.0,24.87 L423.5,25.12 L424.0,25.35 L424.5,25.57 L425.0,25.77 L425.5,25.97 L426.0,26.15 L426.5,26.33 L427.0,26.49 L427.5,26.64 L428.0,26.79 L428.5,26.92 L429.0,27.05 L429.5,27.17 L430.0,27.28 L430.5,27.38 L431.0,27.48 L431.5,27.57 L432.0,27.65 L432.5,27.73 L433.0,27.80 L433.5,27.87 L434.0,27.93 L434.5,27.99 L435.0,28.04 L435.5,28.09 L436.0,28.14 L436.5,28.18 L437.0,28.22 L437.5,28.26 L438.0,28.29 L438.5,28.32 L439.0,28.35 L439.5,28.38 L440.0,28.41 L440.5,28.43 L441.0,28.45 L441.5,28.47 L442.0,28.49 L442.5,28.51 L443.0,28.52 L443.5,28.54 L444.0,28.55 L444.5,28.57 L445.0,28.58 L445.5,28.59 L446.0,28.60 L446.5,28.61 L447.0,28.62 L447.5,28.63 L448.0,28.63 L448.5,28.64 L449.0,28.65 L449.5,28.65 L450.0,28.66 L450.5,28.67 L451.0,28.67 L451.5,28.68 L452.0,28.68 L452.5,28.69 L453.0,28.69 L453.5,28.69 L454.0,28.70 L454.5,28.70 L455.0,28.70 L455.5,28.71 L456.0,28.71 L456.5,28.71 L457.0,28.72 L457.5,28.72 L458.0,28.72 L458.5,28.73 L459.0,28.73 L459.5,28.73 L460.0,28.73 L460.5,28.74 L461.0,28.74 L461.5,28.74 L462.0,28.74 L462.5,28.75 L463.0,28.75 L463.5,28.75 L464.0,28.75 L464.5,28.76 L465.0,28.76 L465.5,28.76 L466.0,28.77 L466.5,28.77 L467.0,28.77 L467.5,28.77 L468.0,28.78 L468.5,28.78 L469.0,28.78 L469.5,28.79 L470.0,28.79 L470.5,28.79 L471.0,28.80 L471.5,28.80 L472.0,28.81 L472.5,28.81 L473.0,28.81 L473.5,28.82 L474.0,28.82 L474.5,28.83 L475.0,28.83 L475.5,28.84 L476.0,28.84 L476.5,28.85 L477.0,28.85 L477.5,28.86 L478.0,28.87 L478.5,28.87 L479.0,28.88 L479.5,28.88 L480.0,28.89 L480.5,28.90 L481.0,28.91 L481.5,28.91 L482.0,28.92 L482.5,28.93 L483.0,28.94 L483.5,28.95 L484.0,28.96 L484.5,28.97 L485.0,28.98 L485.5,28.99 L486.0,29.00 L486.5,29.02 L487.0,29.03 L487.5,29.05 L488.0,29.07 L488.5,29.09 L489.0,29.11 L489.5,29.14 L490.0,29.18 L490.5,29.21 L491.0,29.26 L491.5,29.32 L492.0,29.39 L492.5,29.47 L493.0,29.58 L493.5,29.71 L494.0,29.87 L494.5,30.07 L495.0,30.33 L495.5,30.64 L496.0,31.02 L496.5,31.48 L497.0,32.03 L497.5,32.68 L498.0,33.43 L498.5,34.28 L499.0,35.20 L499.5,36.19 L500.0,37.20" fill="none" stroke="#000" stroke-width="1.5" stroke-linecap="round" stroke-linejoin="round"/>
<text x="117.8" y="13.2" font-family="Liberation Sans, sans-serif" font-size="17.60" text-anchor="start" fill="#000" stroke="#000" stroke-width="0.22" textLength="56.7" lengthAdjust="spacingAndGlyphs" >pre-TQ</text>
<text x="254.7" y="13.2" font-family="Liberation Sans, sans-serif" font-size="17.60" text-anchor="start" fill="#000" stroke="#000" stroke-width="0.22" textLength="22.7" lengthAdjust="spacingAndGlyphs" >TQ</text>
<text x="380.1" y="13.2" font-family="Liberation Sans, sans-serif" font-size="17.60" text-anchor="start" fill="#000" stroke="#000" stroke-width="0.22" textLength="66.9" lengthAdjust="spacingAndGlyphs" >post-TQ</text>
</g>
</svg>
</body></html>
